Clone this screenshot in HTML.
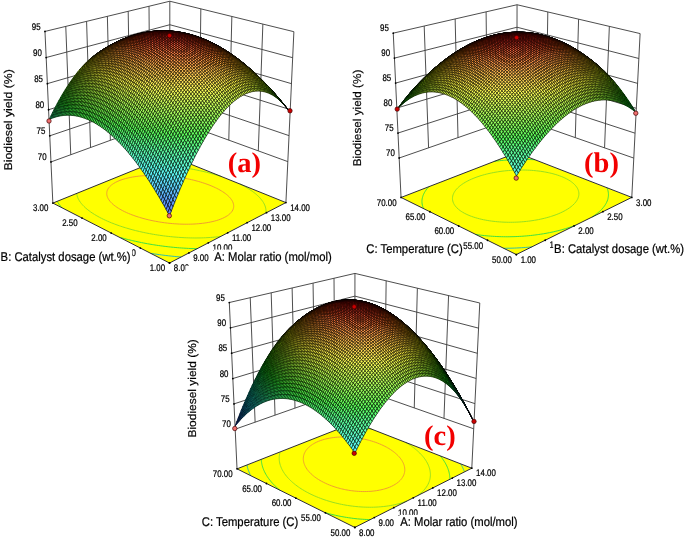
<!DOCTYPE html>
<html><head><meta charset="utf-8"><style>
html,body{margin:0;padding:0;background:#fff;}
body{width:685px;height:537px;position:relative;overflow:hidden;font-family:"Liberation Sans",sans-serif;}
svg,canvas{position:absolute;left:0;top:0;}
text{font-family:"Liberation Sans",sans-serif;stroke:#000;stroke-width:0.2px;text-rendering:geometricPrecision;}
.lab{stroke:none;}
.lab{font-family:"Liberation Serif",serif;font-weight:bold;}
</style></head><body>
<svg width="685" height="537" viewBox="0 0 685 537">
<line x1="50.96" y1="161.94" x2="169.76" y2="118.66" stroke="#3a3a3a" stroke-width="0.9"/>
<line x1="169.76" y1="118.66" x2="287.83" y2="161.62" stroke="#3a3a3a" stroke-width="0.9"/>
<line x1="49.76" y1="135.84" x2="169.77" y2="95.17" stroke="#3a3a3a" stroke-width="0.9"/>
<line x1="169.77" y1="95.17" x2="289.04" y2="135.63" stroke="#3a3a3a" stroke-width="0.9"/>
<line x1="48.57" y1="109.74" x2="169.78" y2="71.69" stroke="#3a3a3a" stroke-width="0.9"/>
<line x1="169.78" y1="71.69" x2="290.25" y2="109.65" stroke="#3a3a3a" stroke-width="0.9"/>
<line x1="47.37" y1="83.63" x2="169.79" y2="48.2" stroke="#3a3a3a" stroke-width="0.9"/>
<line x1="169.79" y1="48.2" x2="291.47" y2="83.67" stroke="#3a3a3a" stroke-width="0.9"/>
<line x1="46.17" y1="57.53" x2="169.8" y2="24.72" stroke="#3a3a3a" stroke-width="0.9"/>
<line x1="169.8" y1="24.72" x2="292.68" y2="57.69" stroke="#3a3a3a" stroke-width="0.9"/>
<line x1="44.97" y1="31.43" x2="169.82" y2="1.23" stroke="#3a3a3a" stroke-width="0.9"/>
<line x1="169.82" y1="1.23" x2="293.89" y2="31.7" stroke="#3a3a3a" stroke-width="0.9"/>
<line x1="70.76" y1="154.72" x2="65.78" y2="26.4" stroke="#3a3a3a" stroke-width="0.9"/>
<line x1="90.56" y1="147.51" x2="86.59" y2="21.37" stroke="#3a3a3a" stroke-width="0.9"/>
<line x1="110.36" y1="140.3" x2="107.39" y2="16.33" stroke="#3a3a3a" stroke-width="0.9"/>
<line x1="130.16" y1="133.09" x2="128.2" y2="11.3" stroke="#3a3a3a" stroke-width="0.9"/>
<line x1="149.96" y1="125.87" x2="149.01" y2="6.27" stroke="#3a3a3a" stroke-width="0.9"/>
<line x1="258.31" y1="150.88" x2="262.87" y2="24.09" stroke="#3a3a3a" stroke-width="0.9"/>
<line x1="228.79" y1="140.14" x2="231.85" y2="16.47" stroke="#3a3a3a" stroke-width="0.9"/>
<line x1="199.27" y1="129.4" x2="200.84" y2="8.85" stroke="#3a3a3a" stroke-width="0.9"/>
<line x1="52.85" y1="203.09" x2="44.97" y2="31.43" stroke="#3a3a3a" stroke-width="0.9"/>
<line x1="169.74" y1="155.69" x2="169.82" y2="1.23" stroke="#3a3a3a" stroke-width="0.9"/>
<line x1="285.92" y1="202.58" x2="293.89" y2="31.7" stroke="#3a3a3a" stroke-width="0.9"/>
<polygon points="169.52,263.01 52.85,203.09 169.74,155.69 285.92,202.58" fill="#ffff00" stroke="none" stroke-width="1"/>
<polyline points="181.08,257.01 179.21,256.85 176.91,256.65 174.21,256.4 171.88,256.16 170.09,255.97 168.31,255.77 165.81,255.48 163.07,255.13 161.35,254.91 159.65,254.68 156.93,254.29 154.62,253.95 152.97,253.69 150.68,253.33" fill="none" stroke="#30c0a8" stroke-width="1.0"/>
<polyline points="197.08,248.7 195.04,248.65 193.02,248.59 190.97,248.52 188.59,248.41 186.18,248.28 183.72,248.14 181.43,247.98 179.57,247.84 177.73,247.7 175.91,247.54 173.43,247.31 170.73,247.04 168.81,246.83 167.08,246.63 165.15,246.4 162.26,246.04 160.31,245.77 158.66,245.54 156.28,245.19 153.8,244.8 152.21,244.55 149.97,244.17 147.51,243.74 145.98,243.46 143.26,242.94 141.45,242.58 139.73,242.23 137.04,241.66 135.6,241.34 132.75,240.7 131.35,240.37 128.57,239.69 127.21,239.35 124.5,238.64 123.17,238.29 120.54,237.56" fill="none" stroke="#40e040" stroke-width="1.0"/>
<polyline points="62,207.78 61.17,206.86 60.39,205.95 59.68,205.06 59.09,204.27 58.35,203.22 57.94,202.6 57.18,201.33" fill="none" stroke="#40e040" stroke-width="1.0"/>
<polyline points="163.2,158.34 164.67,158.45 166.4,158.58 168.61,158.77 170.43,158.93 171.84,159.07 173.24,159.21 175.57,159.46 177.38,159.66 178.73,159.82 180.53,160.04" fill="none" stroke="#40e040" stroke-width="1.0"/>
<polyline points="220.63,236.48 217.93,236.8 215.83,237.02 214.08,237.18 212.3,237.33 210.37,237.48 208,237.62 205.68,237.74 203.42,237.83 201.21,237.9 199.04,237.94 196.91,237.96 194.83,237.97 192.77,237.95 190.76,237.91 188.77,237.86 186.82,237.8 184.9,237.72 183,237.62 181.08,237.51 178.63,237.35 176.13,237.16 173.89,236.97 172.14,236.81 170.41,236.64 168.26,236.41 165.49,236.09 163.69,235.86 162.05,235.64 159.71,235.31 157.27,234.94 155.71,234.69 153.52,234.33 151.12,233.91 149.63,233.64 146.83,233.1 145.24,232.77 143.24,232.35 140.99,231.85 139.44,231.5 136.87,230.89 135.38,230.52 132.88,229.87 130.97,229.36 129.01,228.81 126.5,228.07 125.27,227.7 122.84,226.94 120.47,226.16 119.3,225.76 117.01,224.95 114.77,224.13 112.94,223.42 111.51,222.86 109.41,221.99 107.35,221.11 105.35,220.2 103.4,219.29 101.51,218.35 99.67,217.4 97.89,216.43 96.16,215.44 94.49,214.44 92.88,213.42 92.09,212.91 90.57,211.86 89.11,210.79 87.87,209.84 87.03,209.16 85.73,208.05 85.05,207.44 83.91,206.34 83.03,205.44 82.25,204.58 81.48,203.69 80.76,202.78 80.27,202.12 79.46,200.91 79.07,200.27 78.55,199.33 78.05,198.31 77.76,197.65 77.48,196.9 77.13,195.78 76.91,194.88 76.78,194.16 76.68,193.42" fill="none" stroke="#98e020" stroke-width="1.0"/>
<polyline points="146.84,164.97 148.59,164.98 150.32,165 152.01,165.03 153.84,165.08 155.78,165.14 157.76,165.22 159.78,165.33 161.64,165.43 163.16,165.53 164.68,165.64 166.17,165.75 168.38,165.94 170.56,166.14 171.99,166.28 173.41,166.43 175.5,166.66 177.58,166.91 178.94,167.09 180.66,167.32 182.96,167.64 184.28,167.84 186.26,168.15 188.17,168.46 189.44,168.67 191.97,169.12 193.21,169.35 195.68,169.83 196.9,170.08 199.31,170.58 200.5,170.84 202.87,171.37 204.04,171.65 206.35,172.21 208.21,172.68 209.76,173.09 212,173.69 213.73,174.18 215.3,174.64 217.46,175.29 219.6,175.96 221.46,176.57" fill="none" stroke="#98e020" stroke-width="1.0"/>
<polyline points="239.92,184.01 241.11,184.61 242.88,185.53 244.61,186.46 245.85,187.17 247.14,187.92 248.78,188.93 249.58,189.44 251.15,190.49 252.36,191.33 253.43,192.12 254.59,193.01 255.6,193.82 256.44,194.54 257.64,195.61 258.29,196.23 259.34,197.28 260.14,198.15 260.73,198.81 261.49,199.74 262.34,200.88 262.83,201.6 263.3,202.33 263.74,203.08 264.27,204.08 264.72,205.08 265.1,206.05 265.4,206.99 265.63,207.9 265.8,208.79 265.91,209.66 265.96,210.51 265.96,211.34 265.91,212.15 265.79,213.03" fill="none" stroke="#98e020" stroke-width="1.0"/>
<polyline points="205.89,183.8 207.94,184.55 209.95,185.32 211.9,186.13 213.81,186.96 215.67,187.82 216.62,188.28 218.35,189.17 220.06,190.12 221.72,191.1 222.53,191.6 224.08,192.64 225.22,193.46 226.29,194.28 227.32,195.14 228.31,196.03 228.94,196.64 230.11,197.9 230.65,198.56 231.17,199.24 231.89,200.3 232.49,201.38 232.85,202.15 233.15,202.94 233.4,203.77 233.58,204.63 233.68,205.53 233.69,206.48 233.59,207.49 233.38,208.44 233.14,209.18 232.83,209.9 232.16,211.11 231.58,211.93 230.94,212.69 229.86,213.79 228.61,214.85 227.74,215.49 226.1,216.53 224.3,217.51 222.34,218.43 220.22,219.29 218.46,219.92 216.76,220.46 214.25,221.16 212.94,221.48 210.21,222.09 208.78,222.36 206.83,222.7 204.25,223.09 202.66,223.29 201.02,223.48 198.74,223.7 196.34,223.89 194.03,224.03 192.17,224.11 190.25,224.17 188.27,224.2 186.24,224.21 184.16,224.19 182.01,224.15 179.79,224.07 177.94,223.98 176.13,223.87 174.37,223.75 172.63,223.61 170.14,223.38 167.61,223.11 166,222.91 164.41,222.71 161.84,222.35 159.79,222.03 158.3,221.78 155.55,221.29 153.96,220.98 152.06,220.6 149.81,220.11 148.26,219.75 145.84,219.16 144,218.67 142.05,218.14 139.61,217.42 138.42,217.05 136.1,216.3 133.84,215.51 131.97,214.82 130.6,214.29 128.52,213.44 126.53,212.57 124.6,211.66 122.75,210.74 120.97,209.79 119.27,208.81 118.39,208.27 116.88,207.28 115.39,206.23 114.11,205.25 113.32,204.6 112.06,203.47 111.47,202.89 110.37,201.71 109.86,201.1 109.04,200 108.53,199.21 108.15,198.56 107.62,197.47 107.25,196.51 107.05,195.8 106.89,195.07 106.78,194.32 106.75,193.41 106.8,192.53 106.93,191.7 107.14,190.9 107.42,190.11 107.89,189.14 108.54,188.1 109.08,187.38 109.61,186.76 110.73,185.66 111.48,185.01 112.77,184.05 113.68,183.45 115.32,182.49 117.09,181.6 118.98,180.77 120.98,180.01 123.1,179.3 125.34,178.64 126.94,178.23 128.91,177.77 130.87,177.37 132.73,177.02 134.07,176.8 136.83,176.4 138.26,176.23 139.72,176.06 141.78,175.87 144.01,175.69 145.92,175.57 147.57,175.49 149.25,175.43 150.98,175.39 152.76,175.37 154.58,175.36 156.45,175.38 158.38,175.43 160.37,175.5 162.41,175.59 164,175.68 165.56,175.79 167.1,175.91 169.05,176.08 171.43,176.31 173.01,176.49 174.43,176.66 176.58,176.94 178.58,177.22 179.93,177.43 182.36,177.83 183.86,178.09 185.6,178.42 187.66,178.83 189.17,179.15 191.33,179.63 193.26,180.08 194.88,180.49 197.18,181.1 198.31,181.41 200.53,182.06 202.71,182.74 204.84,183.44 205.89,183.8" fill="none" stroke="#f0a030" stroke-width="1.0"/>
<polyline points="169.52,263.01 52.85,203.09 169.74,155.69 285.92,202.58 169.52,263.01" fill="none" stroke="#222230" stroke-width="0.95"/>
<circle cx="50.96" cy="161.94" r="0.9" fill="#000"/>
<circle cx="49.76" cy="135.84" r="0.9" fill="#000"/>
<circle cx="48.57" cy="109.74" r="0.9" fill="#000"/>
<circle cx="47.37" cy="83.63" r="0.9" fill="#000"/>
<circle cx="46.17" cy="57.53" r="0.9" fill="#000"/>
<circle cx="44.97" cy="31.43" r="0.9" fill="#000"/>
<circle cx="169.52" cy="263.01" r="0.9" fill="#000"/>
<circle cx="188.92" cy="252.94" r="0.9" fill="#000"/>
<circle cx="208.32" cy="242.86" r="0.9" fill="#000"/>
<circle cx="227.72" cy="232.79" r="0.9" fill="#000"/>
<circle cx="247.12" cy="222.72" r="0.9" fill="#000"/>
<circle cx="266.52" cy="212.65" r="0.9" fill="#000"/>
<circle cx="285.92" cy="202.58" r="0.9" fill="#000"/>
<circle cx="169.52" cy="263.01" r="0.9" fill="#000"/>
<circle cx="140.35" cy="248.03" r="0.9" fill="#000"/>
<circle cx="111.19" cy="233.05" r="0.9" fill="#000"/>
<circle cx="82.02" cy="218.07" r="0.9" fill="#000"/>
<circle cx="52.85" cy="203.09" r="0.9" fill="#000"/>
<line x1="399.17" y1="158.02" x2="516.84" y2="117.18" stroke="#3a3a3a" stroke-width="0.9"/>
<line x1="516.84" y1="117.18" x2="633.79" y2="158.08" stroke="#3a3a3a" stroke-width="0.9"/>
<line x1="397.99" y1="133.05" x2="516.88" y2="94.69" stroke="#3a3a3a" stroke-width="0.9"/>
<line x1="516.88" y1="94.69" x2="635.05" y2="133.18" stroke="#3a3a3a" stroke-width="0.9"/>
<line x1="396.8" y1="108.07" x2="516.92" y2="72.21" stroke="#3a3a3a" stroke-width="0.9"/>
<line x1="516.92" y1="72.21" x2="636.32" y2="108.29" stroke="#3a3a3a" stroke-width="0.9"/>
<line x1="395.62" y1="83.09" x2="516.97" y2="49.72" stroke="#3a3a3a" stroke-width="0.9"/>
<line x1="516.97" y1="49.72" x2="637.58" y2="83.39" stroke="#3a3a3a" stroke-width="0.9"/>
<line x1="394.43" y1="58.12" x2="517.01" y2="27.23" stroke="#3a3a3a" stroke-width="0.9"/>
<line x1="517.01" y1="27.23" x2="638.85" y2="58.49" stroke="#3a3a3a" stroke-width="0.9"/>
<line x1="393.25" y1="33.14" x2="517.05" y2="4.74" stroke="#3a3a3a" stroke-width="0.9"/>
<line x1="517.05" y1="4.74" x2="640.12" y2="33.59" stroke="#3a3a3a" stroke-width="0.9"/>
<line x1="428.59" y1="147.81" x2="424.2" y2="26.04" stroke="#3a3a3a" stroke-width="0.9"/>
<line x1="458.01" y1="137.6" x2="455.15" y2="18.94" stroke="#3a3a3a" stroke-width="0.9"/>
<line x1="487.42" y1="127.39" x2="486.1" y2="11.84" stroke="#3a3a3a" stroke-width="0.9"/>
<line x1="604.55" y1="147.86" x2="609.35" y2="26.38" stroke="#3a3a3a" stroke-width="0.9"/>
<line x1="575.31" y1="137.63" x2="578.58" y2="19.17" stroke="#3a3a3a" stroke-width="0.9"/>
<line x1="546.08" y1="127.41" x2="547.81" y2="11.96" stroke="#3a3a3a" stroke-width="0.9"/>
<line x1="401.04" y1="197.46" x2="393.25" y2="33.14" stroke="#3a3a3a" stroke-width="0.9"/>
<line x1="516.78" y1="152.69" x2="517.05" y2="4.74" stroke="#3a3a3a" stroke-width="0.9"/>
<line x1="631.79" y1="197.39" x2="640.12" y2="33.59" stroke="#3a3a3a" stroke-width="0.9"/>
<polygon points="516.34,254.54 401.04,197.46 516.78,152.69 631.79,197.39" fill="#ffff00" stroke="none" stroke-width="1"/>
<polyline points="531.76,246.91 529.43,247.13 527.6,247.29 525.75,247.44 523.87,247.57 521.49,247.73 519.06,247.87 516.67,247.98 514.32,248.08 512.08,248.15 510.02,248.2 507.92,248.23 505.8,248.25 503.64,248.25" fill="none" stroke="#30c0a8" stroke-width="1.0"/>
<polyline points="630.65,196.95 630.59,197.68" fill="none" stroke="#30c0a8" stroke-width="1.0"/>
<polyline points="575.5,225.25 573.78,225.91 571.51,226.72 569.18,227.51 567.99,227.9 565.56,228.66 563.06,229.39 561.78,229.74 559.17,230.44 557.84,230.78 555.13,231.43 553.74,231.75 550.92,232.36 549.47,232.65 547.16,233.1 545.02,233.49 543.5,233.75 540.73,234.19 538.8,234.48 537.19,234.71 534.85,235.02 532.23,235.33 530.52,235.52 528.79,235.69 526.77,235.88 524.24,236.09 521.77,236.27 519.74,236.39 517.85,236.49 515.92,236.58 513.95,236.65 511.96,236.7 509.92,236.74 507.85,236.75 505.74,236.75 503.58,236.73 501.38,236.69 499.13,236.62 496.83,236.52 494.47,236.4 492.35,236.27 490.53,236.14 488.74,235.99 486.98,235.84 484.33,235.57 481.88,235.29 480.24,235.08 478.62,234.86 475.73,234.44" fill="none" stroke="#40e040" stroke-width="1.0"/>
<polyline points="423.57,208.61 423.05,207.37 422.77,206.57 422.55,205.87 422.35,205.09 422.15,204.02 422.02,203 421.96,202.18 421.95,201.41 421.98,200.62 422.04,199.83 422.15,199.02 422.3,198.19 422.5,197.35 422.74,196.5 423.04,195.62 423.39,194.73 423.8,193.82 424.27,192.9 424.68,192.18 425.11,191.48 425.55,190.8 426.16,189.93 426.96,188.89 427.56,188.18 428.1,187.55 428.91,186.67" fill="none" stroke="#40e040" stroke-width="1.0"/>
<polyline points="606.92,187.73 607.29,188.6 607.6,189.45 607.86,190.29 608.07,191.11 608.23,191.92 608.35,192.71 608.42,193.48 608.46,194.25 608.47,195 608.43,195.75 608.34,196.69 608.18,197.68 607.98,198.61 607.8,199.31 607.58,200 607.25,200.93 606.79,202.01 606.47,202.66 606.11,203.37 605.39,204.59 604.99,205.22 604.36,206.13 603.64,207.07 603.16,207.68 602.12,208.86 601.57,209.45 600.42,210.61 599.64,211.34 598.56,212.31 597.23,213.41 596.53,213.95 595.09,215.03 593.59,216.08 592.24,216.97" fill="none" stroke="#40e040" stroke-width="1.0"/>
<polyline points="494.46,161.32 496.32,161.09 497.67,160.92 499.52,160.72 501.83,160.48 503.26,160.35 504.69,160.22 506.4,160.09 508.54,159.94 510.62,159.81 512.18,159.72 513.74,159.65 515.33,159.59 516.94,159.53 518.58,159.49 520.25,159.46 522.02,159.44 523.78,159.44 525.51,159.45 527.25,159.47 529.1,159.51 530.99,159.57 532.92,159.64 534.91,159.74" fill="none" stroke="#40e040" stroke-width="1.0"/>
<polyline points="552.97,173.75 555.17,174.37 557.28,175.02 559.31,175.71 561.26,176.44 563.13,177.21 564.93,178.02 566.64,178.87 568.26,179.77 569.04,180.23 570.54,181.2 571.43,181.83 572.61,182.74 573.26,183.29 574.45,184.41 575.01,184.99 575.65,185.73 576.49,186.8 576.94,187.49 577.34,188.16 577.7,188.85 578.08,189.7 578.39,190.58 578.62,191.43 578.77,192.26 578.86,193.06 578.89,193.85 578.86,194.61 578.78,195.35 578.61,196.27 578.34,197.28 578.02,198.17 577.72,198.84 577.4,199.51 576.67,200.76 576.22,201.41 575.69,202.12 574.76,203.23 574.22,203.82 573.06,204.96 572.44,205.52 571.12,206.62 569.7,207.68 568.96,208.2 567.4,209.22 565.75,210.2 564.01,211.15 562.18,212.08 560.26,212.97 558.26,213.83 556.16,214.66 553.98,215.45 551.7,216.22 550.53,216.59 548.12,217.3 546.26,217.81 544.32,218.3 542.06,218.84 540.31,219.22 538.4,219.61 536.06,220.04 534.59,220.29 532.02,220.69 530,220.98 528.41,221.18 526.44,221.4 523.86,221.66 521.71,221.84 519.94,221.96 518.13,222.07 516.28,222.15 514.38,222.22 512.37,222.26 510.3,222.28 508.29,222.27 506.24,222.23 504.04,222.16 501.76,222.04 499.39,221.89 497.28,221.72 495.6,221.56 493.96,221.39 491.57,221.09 489.27,220.76 487.77,220.52 485.42,220.1 483.49,219.72 481.84,219.37 479.49,218.81 477.58,218.31 475.76,217.78 473.43,217.05 471.55,216.39 470.13,215.86 468.08,215.01 466.14,214.12 464.32,213.19 462.61,212.22 461.8,211.72 460.26,210.68 458.85,209.61 458.18,209.05 456.96,207.91 456.3,207.22 455.36,206.11 454.89,205.49 454.15,204.34 453.72,203.54 453.41,202.86 453.07,201.98 452.77,200.92 452.59,200 452.51,199.25 452.48,198.47 452.51,197.67 452.6,196.85 452.76,196.01 452.99,195.14 453.3,194.24 453.71,193.31 454.08,192.58 454.48,191.89 454.91,191.22 455.61,190.26 456.39,189.3 456.94,188.69 457.69,187.92 458.73,186.94 459.37,186.38 460.72,185.3 461.42,184.78 462.88,183.77 463.64,183.27 465.21,182.32 466.84,181.4 467.68,180.96 469.42,180.1 471.21,179.27 473.07,178.48 474.99,177.71 476.96,176.98 479,176.28 481.09,175.62 482.16,175.3 484.35,174.68 486.61,174.09 487.76,173.81 490.11,173.27 491.5,172.97 493.77,172.52 495.02,172.29 497.59,171.86 498.91,171.65 500.96,171.36 502.98,171.1 504.39,170.94 506.06,170.76 508.39,170.55 510.27,170.4 511.81,170.3 513.39,170.21 515,170.13 516.76,170.07 518.67,170.03 520.51,170.01 522.3,170.01 524.04,170.03 525.74,170.07 527.58,170.14 529.63,170.24 531.76,170.37 533.63,170.52 535.1,170.65 536.54,170.8 538.92,171.08 540.7,171.32 542.03,171.51 544.63,171.94 545.88,172.17 548.23,172.63 549.53,172.91 551.85,173.46 552.97,173.75" fill="none" stroke="#98e020" stroke-width="1.0"/>
<polyline points="516.34,254.54 401.04,197.46 516.78,152.69 631.79,197.39 516.34,254.54" fill="none" stroke="#222230" stroke-width="0.95"/>
<circle cx="399.17" cy="158.02" r="0.9" fill="#000"/>
<circle cx="397.99" cy="133.05" r="0.9" fill="#000"/>
<circle cx="396.8" cy="108.07" r="0.9" fill="#000"/>
<circle cx="395.62" cy="83.09" r="0.9" fill="#000"/>
<circle cx="394.43" cy="58.12" r="0.9" fill="#000"/>
<circle cx="393.25" cy="33.14" r="0.9" fill="#000"/>
<circle cx="516.34" cy="254.54" r="0.9" fill="#000"/>
<circle cx="545.2" cy="240.25" r="0.9" fill="#000"/>
<circle cx="574.06" cy="225.97" r="0.9" fill="#000"/>
<circle cx="602.93" cy="211.68" r="0.9" fill="#000"/>
<circle cx="631.79" cy="197.39" r="0.9" fill="#000"/>
<circle cx="516.34" cy="254.54" r="0.9" fill="#000"/>
<circle cx="487.52" cy="240.27" r="0.9" fill="#000"/>
<circle cx="458.69" cy="226" r="0.9" fill="#000"/>
<circle cx="429.87" cy="211.73" r="0.9" fill="#000"/>
<circle cx="401.04" cy="197.46" r="0.9" fill="#000"/>
<line x1="235.18" y1="429.21" x2="354.82" y2="387.02" stroke="#3a3a3a" stroke-width="0.9"/>
<line x1="354.82" y1="387.02" x2="473.7" y2="428.81" stroke="#3a3a3a" stroke-width="0.9"/>
<line x1="234" y1="403.88" x2="354.85" y2="364.3" stroke="#3a3a3a" stroke-width="0.9"/>
<line x1="354.85" y1="364.3" x2="474.92" y2="403.64" stroke="#3a3a3a" stroke-width="0.9"/>
<line x1="232.83" y1="378.54" x2="354.87" y2="341.58" stroke="#3a3a3a" stroke-width="0.9"/>
<line x1="354.87" y1="341.58" x2="476.13" y2="378.48" stroke="#3a3a3a" stroke-width="0.9"/>
<line x1="231.65" y1="353.2" x2="354.9" y2="318.86" stroke="#3a3a3a" stroke-width="0.9"/>
<line x1="354.9" y1="318.86" x2="477.35" y2="353.31" stroke="#3a3a3a" stroke-width="0.9"/>
<line x1="230.47" y1="327.87" x2="354.92" y2="296.13" stroke="#3a3a3a" stroke-width="0.9"/>
<line x1="354.92" y1="296.13" x2="478.56" y2="328.15" stroke="#3a3a3a" stroke-width="0.9"/>
<line x1="229.3" y1="302.53" x2="354.95" y2="273.41" stroke="#3a3a3a" stroke-width="0.9"/>
<line x1="354.95" y1="273.41" x2="479.78" y2="302.99" stroke="#3a3a3a" stroke-width="0.9"/>
<line x1="255.12" y1="422.18" x2="250.24" y2="297.68" stroke="#3a3a3a" stroke-width="0.9"/>
<line x1="275.06" y1="415.15" x2="271.18" y2="292.82" stroke="#3a3a3a" stroke-width="0.9"/>
<line x1="295" y1="408.12" x2="292.12" y2="287.97" stroke="#3a3a3a" stroke-width="0.9"/>
<line x1="314.94" y1="401.09" x2="313.06" y2="283.12" stroke="#3a3a3a" stroke-width="0.9"/>
<line x1="334.88" y1="394.06" x2="334.01" y2="278.26" stroke="#3a3a3a" stroke-width="0.9"/>
<line x1="443.98" y1="418.36" x2="448.57" y2="295.59" stroke="#3a3a3a" stroke-width="0.9"/>
<line x1="414.26" y1="407.92" x2="417.36" y2="288.2" stroke="#3a3a3a" stroke-width="0.9"/>
<line x1="384.54" y1="397.47" x2="386.16" y2="280.8" stroke="#3a3a3a" stroke-width="0.9"/>
<line x1="237.02" y1="468.87" x2="229.3" y2="302.53" stroke="#3a3a3a" stroke-width="0.9"/>
<line x1="354.79" y1="422.59" x2="354.95" y2="273.41" stroke="#3a3a3a" stroke-width="0.9"/>
<line x1="471.8" y1="468.2" x2="479.78" y2="302.99" stroke="#3a3a3a" stroke-width="0.9"/>
<polygon points="354.81,527.43 237.02,468.87 354.79,422.59 471.8,468.2" fill="#ffff00" stroke="none" stroke-width="1"/>
<polyline points="250.69,475.67 250.16,474.61 249.85,473.94 249.45,473.06 248.97,471.91 248.7,471.23 248.45,470.55 248.06,469.43 247.77,468.48 247.57,467.79 247.38,467.09 247.13,466.07 246.91,465.01" fill="none" stroke="#30c0a8" stroke-width="1.0"/>
<polyline points="460.72,463.88 461.25,464.8 461.66,465.55 462.05,466.31 462.44,467.08 462.81,467.86 463.17,468.66 463.57,469.58 463.93,470.5 464.27,471.42" fill="none" stroke="#30c0a8" stroke-width="1.0"/>
<polyline points="370.23,519.63 368.18,519.56 366.18,519.47 364.22,519.37 362.29,519.24 360.13,519.08 357.41,518.83 354.95,518.57 353.19,518.36 351.46,518.14 348.55,517.73 346.45,517.41 344.83,517.14 341.86,516.61 340.11,516.27 338.19,515.89 335.58,515.32 334.12,514.99 331.25,514.3 329.84,513.94 327.09,513.2 324.99,512.61" fill="none" stroke="#40e040" stroke-width="1.0"/>
<polyline points="279.73,490.1 278.94,489.44 277.59,488.27 276.93,487.68 275.65,486.49 274.69,485.55 273.83,484.68 272.81,483.61 272.12,482.85 271.21,481.81 270.52,480.99 269.83,480.13 269.03,479.1 268.56,478.46 267.67,477.19 267.24,476.54 266.63,475.59 266.03,474.59 265.65,473.94 265.09,472.89 264.61,471.95 264.29,471.28 263.88,470.37 263.42,469.25 263.16,468.57 262.92,467.89 262.59,466.89 262.28,465.81 262.1,465.1 261.93,464.4 261.78,463.68 261.6,462.67 261.47,461.68 261.37,460.81 261.32,460.07 261.28,459.34" fill="none" stroke="#40e040" stroke-width="1.0"/>
<polyline points="440.24,455.9 441.14,456.99 441.68,457.68 442.18,458.34 442.74,459.12 443.47,460.15 444.07,461.07 444.51,461.77 444.95,462.48 445.37,463.2 445.89,464.15 446.38,465.11 446.84,466.07 447.25,466.96 447.57,467.75 447.88,468.55 448.18,469.36 448.45,470.18 448.71,471.02 448.94,471.87 449.15,472.74 449.34,473.62 449.5,474.52 449.63,475.44 449.74,476.37 449.81,477.33 449.85,478.31 449.86,479.24" fill="none" stroke="#40e040" stroke-width="1.0"/>
<polyline points="406.92,501.05 405.23,501.69 402.82,502.52 400.48,503.25 398.97,503.67 396.24,504.37 394.82,504.69 392.41,505.19 390.32,505.58 388.75,505.84 386.16,506.21 383.75,506.5 381.99,506.69 380.19,506.84 378.26,506.98 375.89,507.11 373.6,507.19 371.4,507.24 369.27,507.24 367.21,507.21 365.2,507.16 363.25,507.08 361.04,506.95 358.49,506.76 355.9,506.53 354.17,506.34 352.47,506.14 350.05,505.82 347.58,505.45 346.01,505.19 343.5,504.74 341.46,504.34 339.8,503.99 337.14,503.39 335.69,503.04 333.04,502.36 330.94,501.78 329.12,501.25 326.61,500.47 325.04,499.96 322.99,499.25 320.66,498.4 318.41,497.53 316.23,496.63 314.78,496.01 313.07,495.25 311.05,494.3 309.09,493.32 307.26,492.37 306.27,491.83 304.47,490.81 302.73,489.77 301.04,488.72 299.41,487.64 298.62,487.1 297.09,486 295.61,484.89 294.89,484.32 293.5,483.18 292.28,482.13 291.52,481.45 290.27,480.27 289.67,479.67 288.51,478.47 287.95,477.86 286.88,476.64 286.37,476.02 285.62,475.06 284.93,474.13 284.48,473.5 283.63,472.22 283.24,471.57 282.83,470.89 282.15,469.62 281.8,468.93 281.49,468.26 281.05,467.24 280.66,466.21 280.42,465.52 280.2,464.83 279.95,463.96 279.71,462.93 279.52,461.98 279.41,461.26 279.32,460.52 279.26,459.78 279.21,459.04 279.2,458.2 279.22,457.32 279.28,456.46 279.36,455.62 279.49,454.8 279.64,454 279.82,453.21 280.03,452.44" fill="none" stroke="#98e020" stroke-width="1.0"/>
<polyline points="405.82,442.48 406.82,443.08 408.33,444.03 409.08,444.51 410.54,445.48 411.47,446.13 412.66,446.99 413.59,447.69 414.71,448.56 415.44,449.15 416.67,450.18 417.3,450.74 418.51,451.83 419.15,452.44 419.81,453.09 420.9,454.21 421.46,454.81 422.05,455.47 423.02,456.61 423.58,457.31 424.08,457.96 424.71,458.8 425.44,459.86 425.95,460.64 426.38,461.33 426.79,462.04 427.27,462.91 427.76,463.89 428.21,464.85 428.59,465.74 428.89,466.51 429.17,467.31 429.42,468.11 429.65,468.93 429.85,469.77 430.03,470.63 430.17,471.5 430.29,472.4 430.36,473.32 430.4,474.25 430.4,475.22 430.35,476.17 430.28,476.97 430.17,477.76 430.04,478.53 429.86,479.38 429.56,480.51 429.22,481.56 428.95,482.29 428.65,483.02 428.08,484.23 427.59,485.15 427.18,485.84 426.35,487.11 425.81,487.87 425.12,488.75 424.2,489.82 423.49,490.6 422.37,491.7 421.14,492.81 420.3,493.51 418.8,494.66 417.19,495.79" fill="none" stroke="#98e020" stroke-width="1.0"/>
<polyline points="346.56,425.82 348.1,425.91 349.59,426.01 351.6,426.17 353.9,426.38 355.28,426.53 356.64,426.69 359.01,427 360.57,427.22 361.85,427.42 364.32,427.83 365.54,428.05 367.92,428.51 369.09,428.75 371.38,429.25 372.57,429.52" fill="none" stroke="#98e020" stroke-width="1.0"/>
<polyline points="369.41,440.41 371.56,441.03 373.64,441.68 375.65,442.37 377.6,443.09 379.49,443.85 381.32,444.63 383.09,445.45 384.81,446.29 386.47,447.17 387.28,447.62 388.86,448.54 390.38,449.5 391.13,449.99 392.56,450.99 393.34,451.56 394.62,452.56 395.28,453.11 396.53,454.21 397.14,454.78 398.19,455.82 398.86,456.54 399.4,457.15 400.29,458.23 400.9,459.04 401.36,459.7 401.85,460.43 402.46,461.48 402.98,462.45 403.32,463.18 403.63,463.92 403.91,464.68 404.16,465.45 404.37,466.26 404.55,467.14 404.68,468.01 404.76,468.86 404.79,469.69 404.76,470.6 404.66,471.57 404.49,472.57 404.24,473.6 404,474.34 403.72,475.07 403.34,475.91 402.66,477.16 402.23,477.83 401.7,478.58 400.73,479.77 400.16,480.39 398.9,481.6 398.23,482.18 396.76,483.3 395.15,484.37 393.39,485.39 391.49,486.35 389.42,487.25 387.2,488.08 384.8,488.85 383.52,489.21 380.86,489.86 379.45,490.15 376.47,490.67 374.88,490.89 373.24,491.09 370.99,491.3 368.62,491.45 366.4,491.53 364.29,491.56 362.29,491.54 360.37,491.48 358.52,491.38 356.74,491.26 354.46,491.05 351.74,490.73 350.17,490.51 348.6,490.27 345.7,489.74 344.29,489.45 341.56,488.83 340.24,488.5 337.69,487.81 336.06,487.33 334.07,486.69 331.79,485.89 329.6,485.06 327.5,484.19 325.5,483.29 323.58,482.35 321.74,481.39 319.99,480.4 318.31,479.38 316.71,478.34 315.95,477.81 314.48,476.72 313.35,475.83 312.42,475.05 311.14,473.9 310.54,473.31 309.42,472.16 308.85,471.52 308.1,470.64 307.35,469.67 306.9,469.04 306.17,467.93 305.68,467.1 305.32,466.44 304.88,465.54 304.41,464.43 304.15,463.71 303.93,463 303.74,462.28 303.55,461.38 303.41,460.44 303.33,459.53 303.31,458.66 303.35,457.8 303.43,456.98 303.56,456.18 303.73,455.4 303.94,454.64 304.2,453.91 304.48,453.19 304.81,452.49 305.29,451.61 305.91,450.6 306.43,449.87 306.92,449.26 307.67,448.4 308.54,447.51 309.14,446.96 310.42,445.89 311.1,445.38 312.53,444.39 313.29,443.92 314.89,443.01 316.59,442.16 318.4,441.37 320.33,440.62 322.37,439.93 324.54,439.3 325.73,438.99 328.04,438.47 329.62,438.17 331.88,437.79 333.25,437.6 335.2,437.38 337.52,437.17 339.22,437.06 340.87,436.99 342.59,436.95 344.39,436.94 346.28,436.97 348.28,437.05 350.17,437.15 351.69,437.27 353.16,437.4 355.15,437.62 357.34,437.91 358.66,438.11 360.93,438.49 362.46,438.77 364.55,439.21 366.03,439.55 368.3,440.11 369.41,440.41" fill="none" stroke="#f0a030" stroke-width="1.0"/>
<polyline points="354.81,527.43 237.02,468.87 354.79,422.59 471.8,468.2 354.81,527.43" fill="none" stroke="#222230" stroke-width="0.95"/>
<circle cx="235.18" cy="429.21" r="0.9" fill="#000"/>
<circle cx="234" cy="403.88" r="0.9" fill="#000"/>
<circle cx="232.83" cy="378.54" r="0.9" fill="#000"/>
<circle cx="231.65" cy="353.2" r="0.9" fill="#000"/>
<circle cx="230.47" cy="327.87" r="0.9" fill="#000"/>
<circle cx="229.3" cy="302.53" r="0.9" fill="#000"/>
<circle cx="354.81" cy="527.43" r="0.9" fill="#000"/>
<circle cx="374.31" cy="517.56" r="0.9" fill="#000"/>
<circle cx="393.81" cy="507.69" r="0.9" fill="#000"/>
<circle cx="413.3" cy="497.81" r="0.9" fill="#000"/>
<circle cx="432.8" cy="487.94" r="0.9" fill="#000"/>
<circle cx="452.3" cy="478.07" r="0.9" fill="#000"/>
<circle cx="471.8" cy="468.2" r="0.9" fill="#000"/>
<circle cx="354.81" cy="527.43" r="0.9" fill="#000"/>
<circle cx="325.36" cy="512.79" r="0.9" fill="#000"/>
<circle cx="295.92" cy="498.15" r="0.9" fill="#000"/>
<circle cx="266.47" cy="483.51" r="0.9" fill="#000"/>
<circle cx="237.02" cy="468.87" r="0.9" fill="#000"/>
<g id="fb">
<path d="M169.8 74.2l5.2 8l-5.2 4.4l-5.3 -8z" fill="#907f2c"/>
<path d="M174.7 70.5l5.2 8l-5.2 4l-5.3 -8.1z" fill="#93792c"/>
<path d="M164.8 67.4l5.3 7.3l-5.2 4.4l-5.3 -7.3z" fill="#8c6d28"/>
<path d="M179.8 67.3l5.2 8l-5.4 3.4l-5.2 -8z" fill="#8f6e2a"/>
<path d="M169.8 63.7l5.3 7.3l-5.3 3.9l-5.3 -7.3z" fill="#8e6728"/>
<path d="M159.7 61.3l5.4 6.5l-5.2 4.4l-5.4 -6.5z" fill="#8c6127"/>
<path d="M184.9 64.5l5.1 8l-5.4 3l-5.1 -8z" fill="#966d2b"/>
<path d="M174.8 60.5l5.3 7.2l-5.4 3.5l-5.3 -7.2z" fill="#8f5f28"/>
<path d="M164.7 57.7l5.4 6.5l-5.3 3.9l-5.4 -6.5z" fill="#8a5825"/>
<path d="M154.6 56.1l5.5 5.6l-5.2 4.5l-5.5 -5.7z" fill="#8a5624"/>
<path d="M190 62.2l5.2 7.9l-5.5 2.6l-5.1 -8z" fill="#926429"/>
<path d="M179.9 57.8l5.3 7.2l-5.4 3l-5.3 -7.3z" fill="#8f5927"/>
<path d="M169.8 54.5l5.3 6.5l-5.3 3.4l-5.4 -6.4z" fill="#8a5024"/>
<path d="M159.6 52.5l5.5 5.6l-5.3 3.9l-5.5 -5.6z" fill="#844921"/>
<path d="M149.4 51.6l5.6 4.8l-5.3 4.5l-5.5 -4.9z" fill="#7b431d"/>
<path d="M195.3 60.4l5.1 7.9l-5.5 2l-5.2 -7.9z" fill="#895a25"/>
<path d="M185.1 55.5l5.2 7.2l-5.4 2.5l-5.3 -7.2z" fill="#894f24"/>
<path d="M174.9 51.8l5.4 6.4l-5.5 3l-5.4 -6.4z" fill="#8b4a24"/>
<path d="M164.6 49.4l5.5 5.5l-5.4 3.5l-5.4 -5.6z" fill="#824120"/>
<path d="M154.4 48.1l5.5 4.8l-5.3 3.9l-5.5 -4.9z" fill="#7d3d1d"/>
<path d="M144.1 48l5.7 4l-5.3 4.3l-5.6 -4z" fill="#743a19"/>
<path d="M200.6 59.1l5.1 7.9l-5.6 1.5l-5.1 -7.9z" fill="#835321"/>
<path d="M190.3 53.8l5.3 7.1l-5.6 2l-5.2 -7.2z" fill="#854a21"/>
<path d="M180.1 49.6l5.3 6.4l-5.5 2.5l-5.3 -6.4z" fill="#82401f"/>
<path d="M169.8 46.7l5.4 5.6l-5.4 2.9l-5.5 -5.6z" fill="#7d381d"/>
<path d="M205.9 58.3l5.1 7.9l-5.7 0.9l-5 -7.8z" fill="#7f4e1e"/>
<path d="M159.4 45l5.6 4.7l-5.4 3.5l-5.6 -4.8z" fill="#703018"/>
<path d="M138.8 45.2l5.7 3.1l-5.2 4.4l-5.8 -3.2z" fill="#652e13"/>
<path d="M149.1 44.5l5.6 3.9l-5.3 3.9l-5.6 -3.9z" fill="#6e2f16"/>
<path d="M195.7 52.5l5.2 7.1l-5.7 1.5l-5.2 -7.1z" fill="#7f431e"/>
<path d="M185.3 48l5.4 6.3l-5.6 1.9l-5.4 -6.3z" fill="#7c381c"/>
<path d="M175 44.6l5.4 5.5l-5.5 2.4l-5.5 -5.5z" fill="#78301a"/>
<path d="M211.3 58.1l5.1 7.7l-5.7 0.5l-5.1 -7.8z" fill="#7a4b1b"/>
<path d="M164.6 42.4l5.5 4.7l-5.4 3l-5.6 -4.8z" fill="#6c2715"/>
<path d="M133.3 43.4l5.8 2.1l-5.2 4.3l-5.8 -2.2z" fill="#5e290f"/>
<path d="M154.2 41.5l5.6 3.9l-5.4 3.4l-5.6 -4z" fill="#6c2714"/>
<path d="M143.7 41.8l5.8 3l-5.3 3.9l-5.8 -3.1z" fill="#642611"/>
<path d="M201 51.8l5.2 7l-5.7 1l-5.2 -7.1z" fill="#773c1a"/>
<path d="M190.6 46.8l5.4 6.2l-5.7 1.5l-5.3 -6.3z" fill="#773319"/>
<path d="M216.8 58.4l5 7.7l-5.7 -0.1l-5.1 -7.8z" fill="#744818"/>
<path d="M180.2 43l5.5 5.4l-5.6 1.9l-5.5 -5.5z" fill="#782c18"/>
<path d="M169.8 40.4l5.5 4.6l-5.5 2.4l-5.6 -4.7z" fill="#611f11"/>
<path d="M127.9 42.4l5.8 1.2l-5.2 4.3l-5.8 -1.3z" fill="#4e2009"/>
<path d="M159.3 39l5.6 3.8l-5.4 2.9l-5.7 -3.9z" fill="#5e1c10"/>
<path d="M138.3 40l5.8 2.1l-5.3 3.8l-5.8 -2.1z" fill="#521d0b"/>
<path d="M206.4 51.6l5.2 7l-5.7 0.4l-5.2 -7z" fill="#6d3715"/>
<path d="M148.8 38.9l5.7 2.9l-5.4 3.4l-5.7 -3z" fill="#5d1d0e"/>
<path d="M196 46.1l5.3 6.2l-5.7 0.9l-5.3 -6.2z" fill="#682b14"/>
<path d="M222.3 59.2l5 7.6l-5.8 -0.6l-5 -7.7z" fill="#6b4414"/>
<path d="M185.6 41.9l5.4 5.4l-5.7 1.4l-5.4 -5.5z" fill="#652212"/>
<path d="M175 38.8l5.6 4.6l-5.6 1.9l-5.6 -4.7z" fill="#641c11"/>
<path d="M122.3 42.3l5.9 0.3l-5.1 4.2l-5.9 -0.4z" fill="#401c05"/>
<path d="M211.9 52l5.2 6.9l-5.8 -0.1l-5.2 -7z" fill="#683513"/>
<path d="M164.5 37l5.6 3.8l-5.5 2.3l-5.7 -3.8z" fill="#58160d"/>
<path d="M132.8 39.1l5.9 1.2l-5.3 3.7l-5.8 -1.2z" fill="#4b1a07"/>
<path d="M153.9 36.4l5.7 3l-5.4 2.8l-5.7 -3z" fill="#52140a"/>
<path d="M143.4 37.1l5.8 2.1l-5.4 3.3l-5.8 -2.1z" fill="#501609"/>
<path d="M201.5 46l5.2 6.2l-5.7 0.3l-5.3 -6.2z" fill="#5e250f"/>
<path d="M227.9 60.6l4.9 7.5l-5.8 -1.2l-5 -7.6z" fill="#5a3c0e"/>
<path d="M190.9 41.3l5.4 5.3l-5.7 0.9l-5.4 -5.4z" fill="#591b0d"/>
<path d="M116.7 43.2l6 -0.7l-5.1 4.1l-6 0.6z" fill="#391b02"/>
<path d="M217.5 52.9l5.1 6.8l-5.9 -0.7l-5.1 -6.9z" fill="#623410"/>
<path d="M180.4 37.8l5.5 4.5l-5.7 1.4l-5.5 -4.6z" fill="#57160c"/>
<path d="M127.3 39.1l5.9 0.2l-5.2 3.8l-6 -0.4z" fill="#3b1403"/>
<path d="M169.8 35.5l5.6 3.7l-5.6 1.9l-5.7 -3.8z" fill="#4d0f09"/>
<path d="M137.9 36.3l5.8 1.1l-5.3 3.3l-5.9 -1.2z" fill="#3d0f04"/>
<path d="M159.1 34.5l5.7 2.9l-5.5 2.3l-5.7 -2.9z" fill="#460d07"/>
<path d="M148.5 34.8l5.8 2l-5.5 2.8l-5.7 -2.1z" fill="#481007"/>
<path d="M233.5 62.5l4.9 7.5l-5.9 -1.8l-4.9 -7.5z" fill="#553c0b"/>
<path d="M207 46.5l5.2 6l-5.8 -0.2l-5.3 -6.1z" fill="#57220c"/>
<path d="M196.4 41.3l5.4 5.2l-5.8 0.3l-5.4 -5.3z" fill="#4f170a"/>
<path d="M223.1 54.4l5 6.7l-5.9 -1.2l-5.1 -6.9z" fill="#552f0b"/>
<path d="M111 45l6.1 -1.7l-5 4.1l-6.1 1.5z" fill="#2f1901"/>
<path d="M185.8 37.3l5.5 4.4l-5.8 0.9l-5.5 -4.6z" fill="#4e1109"/>
<path d="M121.7 40.1l6 -0.8l-5.2 3.7l-6 0.6z" fill="#311201"/>
<path d="M239.2 65l4.9 7.4l-6 -2.3l-4.9 -7.5z" fill="#4c3b08"/>
<path d="M175.1 34.6l5.6 3.6l-5.7 1.3l-5.6 -3.7z" fill="#460b06"/>
<path d="M132.3 36.5l6 0.1l-5.4 3.2l-5.9 -0.2z" fill="#310d01"/>
<path d="M212.5 47.5l5.2 5.9l-5.8 -0.7l-5.3 -6.1z" fill="#53230a"/>
<path d="M164.4 33.2l5.7 2.7l-5.6 1.8l-5.7 -2.8z" fill="#440a06"/>
<path d="M143 34.1l5.9 1l-5.5 2.7l-5.8 -1.1z" fill="#3a0b02"/>
<path d="M153.7 33l5.8 1.9l-5.5 2.2l-5.8 -1.9z" fill="#390803"/>
<path d="M201.9 41.8l5.3 5.2l-5.8 -0.3l-5.3 -5.2z" fill="#491607"/>
<path d="M228.7 56.4l5 6.7l-5.9 -1.9l-5.1 -6.7z" fill="#4c2d08"/>
<path d="M105.2 47.9l6.3 -2.8l-4.9 3.9l-6.2 2.6z" fill="#201300"/>
<path d="M244.9 68.1l4.8 7.3l-6 -2.9l-4.8 -7.4z" fill="#463c06"/>
<path d="M191.2 37.4l5.5 4.3l-5.8 0.3l-5.5 -4.5z" fill="#3f0c05"/>
<path d="M115.9 42l6.2 -1.7l-5.1 3.5l-6.1 1.7z" fill="#240f00"/>
<path d="M218.1 49l5.2 5.9l-5.9 -1.3l-5.2 -6z" fill="#4a2107"/>
<path d="M180.5 34.2l5.6 3.5l-5.8 0.8l-5.5 -3.6z" fill="#3e0804"/>
<path d="M126.7 37.5l6 -0.8l-5.2 3.1l-6.1 0.7z" fill="#210900"/>
<path d="M169.8 32.3l5.6 2.7l-5.6 1.2l-5.7 -2.7z" fill="#350402"/>
<path d="M137.4 34.3l6 0.1l-5.4 2.6l-6 -0.1z" fill="#280700"/>
<path d="M159 31.7l5.8 1.8l-5.6 1.7l-5.8 -1.9z" fill="#350502"/>
<path d="M148.2 32.4l5.9 0.9l-5.5 2.2l-5.9 -1z" fill="#330601"/>
<path d="M99.5 52l6.3 -4.1l-4.8 3.4l-6.3 3.9z" fill="#151000"/>
<path d="M234.4 59l5 6.6l-6 -2.4l-5 -6.7z" fill="#483005"/>
<path d="M207.5 42.9l5.3 5.1l-5.9 -0.8l-5.3 -5.2z" fill="#3c1304"/>
<path d="M250.7 71.8l4.7 7.1l-6 -3.5l-4.8 -7.2z" fill="#423f05"/>
<path d="M110.1 45.2l6.3 -3l-4.9 3.2l-6.3 2.8z" fill="#1e1000"/>
<path d="M196.8 38l5.4 4.3l-5.9 -0.3l-5.4 -4.4z" fill="#3a0c03"/>
<path d="M223.8 51.2l5.1 5.8l-6 -1.9l-5.1 -5.9z" fill="#3e1f04"/>
<path d="M120.9 39.7l6.2 -2l-5.1 3l-6.2 1.8z" fill="#160800"/>
<path d="M186 34.4l5.5 3.4l-5.8 0.2l-5.5 -3.5z" fill="#360602"/>
<path d="M93.9 56.9l6.2 -5.3l-4.9 3.1l-6.2 5.2z" fill="#1a1700"/>
<path d="M131.7 35.5l6.1 -0.9l-5.3 2.5l-6 0.9z" fill="#150400"/>
<path d="M240.2 62.2l4.9 6.5l-6.1 -3l-4.9 -6.6z" fill="#413104"/>
<path d="M175.2 32l5.6 2.6l-5.7 0.7l-5.7 -2.7z" fill="#300301"/>
<path d="M142.6 32.7l6 -0.1l-5.5 2.2l-5.9 -0.1z" fill="#220400"/>
<path d="M256.5 76l4.7 7l-6.2 -4l-4.7 -7.2z" fill="#3a3f03"/>
<path d="M164.3 31l5.8 1.7l-5.7 1.2l-5.8 -1.9z" fill="#2c0200"/>
<path d="M213.1 44.6l5.3 5l-6 -1.4l-5.3 -5.1z" fill="#371302"/>
<path d="M153.5 31.2l5.8 0.8l-5.5 1.7l-5.9 -1z" fill="#260200"/>
<path d="M104.5 49.4l6.2 -4.3l-5 2.7l-6.2 4.2z" fill="#191000"/>
<path d="M202.4 39.2l5.4 4.2l-6 -0.9l-5.4 -4.3z" fill="#360b01"/>
<path d="M229.5 53.9l5.1 5.7l-6.1 -2.5l-5 -5.8z" fill="#3b2102"/>
<path d="M88.2 62.6l6.2 -6.3l-5 3l-6.1 6.1z" fill="#2a2b01"/>
<path d="M115.2 43.2l6.3 -3.5l-5.1 2.4l-6.3 3.3z" fill="#170b01"/>
<path d="M246 66l4.8 6.3l-6.1 -3.6l-4.9 -6.4z" fill="#3c3302"/>
<path d="M191.5 35.1l5.6 3.4l-5.9 -0.4l-5.6 -3.5z" fill="#2c0500"/>
<path d="M262.4 80.9l4.6 6.9l-6.3 -4.7l-4.6 -7z" fill="#2e3b02"/>
<path d="M125.9 38.1l6.3 -2.4l-5.1 2.1l-6.3 2.2z" fill="#140b07"/>
<path d="M180.7 32.3l5.6 2.5l-5.8 0.1l-5.7 -2.6z" fill="#250200"/>
<path d="M218.8 46.8l5.2 4.9l-6 -2l-5.2 -5z" fill="#301201"/>
<path d="M136.8 34.2l6.2 -1.2l-5.2 1.9l-6.2 1z" fill="#251513"/>
<path d="M98.9 54.3l6.1 -5.4l-5 2.6l-6.2 5.3z" fill="#1e1700"/>
<path d="M169.7 30.8l5.8 1.6l-5.7 0.6l-5.8 -1.7z" fill="#240100"/>
<path d="M147.8 31.6l6.1 -0.1l-5.5 1.5l-6.1 0.1z" fill="#150100"/>
<path d="M158.8 30.6l5.9 0.7l-5.7 1.1l-5.8 -0.9z" fill="#1d0100"/>
<path d="M82.5 69.3l6.1 -7.3l-5 2.9l-6.1 7.1z" fill="#3e470d"/>
<path d="M235.3 57.2l5 5.6l-6.1 -3.1l-5 -5.7z" fill="#301f01"/>
<path d="M208 41l5.4 4.1l-6 -1.5l-5.4 -4.2z" fill="#2e0c00"/>
<path d="M109.6 47.2l6.2 -4.5l-5.2 2.2l-6.2 4.4z" fill="#1e1100"/>
<path d="M251.8 70.5l4.8 6.1l-6.2 -4.2l-4.8 -6.3z" fill="#313001"/>
<path d="M268.3 86.4l4.5 6.7l-6.3 -5.4l-4.6 -6.8z" fill="#223802"/>
<path d="M197.2 36.4l5.4 3.3l-5.9 -1l-5.5 -3.4z" fill="#220400"/>
<path d="M120.4 41.4l6.2 -3.6l-5.3 1.8l-6.2 3.5z" fill="#180900"/>
<path d="M93.1 60.2l6.2 -6.4l-5.1 2.4l-6.1 6.3z" fill="#322e01"/>
<path d="M224.6 49.7l5.1 4.7l-6.1 -2.6l-5.2 -4.8z" fill="#281200"/>
<path d="M76.7 77.1l6.1 -8.3l-4.9 2.7l-6.1 8.1z" fill="#364a11"/>
<path d="M186.2 33.1l5.6 2.4l-5.9 -0.4l-5.6 -2.5z" fill="#190100"/>
<path d="M131.3 36.9l6.1 -2.7l-5.3 1.3l-6.2 2.6z" fill="#140300"/>
<path d="M175.3 31.2l5.7 1.5l-5.9 0l-5.7 -1.6z" fill="#1a0100"/>
<path d="M241.2 61.2l4.9 5.4l-6.3 -3.8l-4.9 -5.5z" fill="#271e00"/>
<path d="M142.1 33.7l6.2 -1.8l-5.3 0.9l-6.3 1.6z" fill="#170402"/>
<path d="M274.2 92.7l4.4 6.3l-6.4 -6.1l-4.4 -6.5z" fill="#142e01"/>
<path d="M164.2 30.5l5.9 0.6l-5.7 0.6l-5.9 -0.8z" fill="#140100"/>
<path d="M152.9 31.4l6.3 -0.5l-5.4 0.8l-6.2 0.3z" fill="#0f0101"/>
<path d="M103.9 52.3l6.1 -5.6l-5.2 2.1l-6.1 5.4z" fill="#2b1d01"/>
<path d="M257.8 75.5l4.6 5.9l-6.4 -4.9l-4.6 -6z" fill="#222800"/>
<path d="M213.8 43.4l5.2 3.9l-6.1 -2.1l-5.3 -4z" fill="#200a00"/>
<path d="M70.9 85.8l6.1 -9.3l-4.9 2.5l-6.1 9.2z" fill="#224008"/>
<path d="M87.4 67.1l6.1 -7.5l-5.1 2.3l-6.1 7.3z" fill="#3c3e04"/>
<path d="M114.7 45.6l6.2 -4.6l-5.3 1.6l-6.2 4.5z" fill="#281200"/>
<path d="M202.9 38.4l5.4 3.1l-6.1 -1.6l-5.4 -3.3z" fill="#190400"/>
<path d="M230.5 53.2l5 4.6l-6.3 -3.3l-5 -4.7z" fill="#1e1000"/>
<path d="M280.1 99.5l4.4 6l-6.4 -6.9l-4.5 -6.2z" fill="#061b00"/>
<path d="M125.6 40.2l6.1 -3.7l-5.4 1.2l-6.1 3.6z" fill="#200900"/>
<path d="M247.1 65.9l4.8 5l-6.4 -4.4l-4.8 -5.3z" fill="#211c00"/>
<path d="M191.9 34.6l5.5 2.3l-6.1 -1.1l-5.5 -2.4z" fill="#110100"/>
<path d="M65.2 95.6l6 -10.4l-4.9 2.4l-6 10.2z" fill="#1e4b11"/>
<path d="M98.1 58.3l6.2 -6.6l-5.2 1.9l-6.2 6.5z" fill="#3b3004"/>
<path d="M263.7 81.3l4.5 5.6l-6.4 -5.7l-4.6 -5.8z" fill="#192401"/>
<path d="M81.6 75l6.1 -8.5l-5.1 2.2l-6.1 8.3z" fill="#354207"/>
<path d="M136.6 36.1l6.1 -2.8l-5.5 0.7l-6.1 2.7z" fill="#1d0500"/>
<path d="M181 32.2l5.5 1.4l-6 -0.6l-5.6 -1.6z" fill="#130404"/>
<path d="M219.6 46.5l5.1 3.7l-6.2 -2.8l-5.2 -3.9z" fill="#170900"/>
<path d="M147.6 33.3l6 -1.9l-5.5 0.2l-6.1 1.8z" fill="#1a0200"/>
<path d="M169.7 31.7l5.9 -0.2l-5.8 -0.7l-5.9 0z" fill="#150100"/>
<path d="M158.6 31.9l6 -1.1l-5.7 -0.2l-6 0.9z" fill="#110000"/>
<path d="M109 50.8l6.1 -5.7l-5.3 1.5l-6.1 5.5z" fill="#372102"/>
<path d="M59.4 106.3l6 -11.4l-4.8 2.3l-6.1 11.1z" fill="#154f18"/>
<path d="M285.9 106.8l4.4 5.8l-6.3 -7.6l-4.5 -5.9z" fill="#111c11"/>
<path d="M236.4 57.5l4.9 4.2l-6.5 -4.1l-4.9 -4.4z" fill="#170e00"/>
<path d="M208.8 41.1l5.1 2.7l-6.3 -2.3l-5.2 -3z" fill="#160500"/>
<path d="M92.3 65.3l6.2 -7.6l-5.2 1.8l-6.1 7.5z" fill="#413d06"/>
<path d="M75.8 83.9l6.1 -9.5l-5.1 2l-6 9.3z" fill="#2b4308"/>
<path d="M269.5 87.7l4.6 5.2l-6.4 -6.5l-4.6 -5.4z" fill="#132501"/>
<path d="M253 71.2l4.7 4.7l-6.4 -5.3l-4.8 -4.9z" fill="#181800"/>
<path d="M119.9 44.5l6.1 -4.8l-5.4 1.1l-6.1 4.6z" fill="#361701"/>
<path d="M53.6 118.1l6.1 -12.4l-4.9 2l-6 12.2z" fill="#114d26"/>
<path d="M197.7 37.1l5.3 1.7l-6.3 -2.1l-5.3 -1.9z" fill="#332c2b"/>
<path d="M130.9 39.6l6.1 -3.9l-5.5 0.6l-6.1 3.7z" fill="#290b00"/>
<path d="M225.5 50.3l5 3.3l-6.4 -3.7l-5 -3.4z" fill="#181009"/>
<path d="M186.5 34.4l5.6 0.6l-6.1 -1.8l-5.6 -0.8z" fill="#150100"/>
<path d="M103.2 57l6.1 -6.8l-5.3 1.4l-6.1 6.6z" fill="#402e06"/>
<path d="M70 93.8l6.1 -10.5l-5 1.8l-6.1 10.4z" fill="#214b0c"/>
<path d="M142 35.9l6 -3l-5.6 0.1l-6.1 2.9z" fill="#2b0601"/>
<path d="M175.3 32.8l5.8 -0.3l-5.9 -1.3l-5.8 0.1z" fill="#1a0100"/>
<path d="M86.5 73.4l6.1 -8.6l-5.1 1.6l-6.1 8.5z" fill="#404709"/>
<path d="M153.1 33.5l6 -2l-5.8 -0.4l-6 1.9z" fill="#280300"/>
<path d="M242.1 62.3l5 3.9l-6.4 -4.9l-5 -4z" fill="#171100"/>
<path d="M164.2 32.5l5.9 -1.2l-5.8 -0.8l-5.9 1z" fill="#200100"/>
<path d="M275.4 94.6l4.6 5l-6.4 -7.2l-4.6 -5.2z" fill="#091e00"/>
<path d="M258.8 77.1l4.8 4.4l-6.4 -6l-4.8 -4.7z" fill="#151a00"/>
<path d="M214.4 44.5l5.3 2.3l-6.3 -3.3l-5.3 -2.5z" fill="#150600"/>
<path d="M114.1 49.8l6.2 -5.8l-5.4 0.9l-6.2 5.7z" fill="#402306"/>
<path d="M64.2 104.8l6 -11.6l-4.9 1.7l-6.1 11.3z" fill="#124d0e"/>
<path d="M203.3 39.9l5.4 1.4l-6.1 -3l-5.5 -1.5z" fill="#140300"/>
<path d="M97.4 64.2l6.1 -7.8l-5.3 1.2l-6.1 7.6z" fill="#473d09"/>
<path d="M231.2 54.7l5.1 3l-6.3 -4.5l-5.2 -3.2z" fill="#180d00"/>
<path d="M80.7 82.5l6.1 -9.7l-5.1 1.5l-6.1 9.5z" fill="#374c0c"/>
<path d="M125.2 44l6.1 -4.9l-5.5 0.4l-6.1 4.8z" fill="#3a1502"/>
<path d="M281.3 102l4.6 4.9l-6.3 -7.9l-4.7 -5z" fill="#021500"/>
<path d="M58.4 116.7l6 -12.6l-4.9 1.5l-6 12.4z" fill="#115320"/>
<path d="M192.1 36.5l5.7 0.5l-6.1 -2.4l-5.7 -0.7z" fill="#1a0200"/>
<path d="M247.9 67.7l5 3.6l-6.3 -5.6l-5 -3.8z" fill="#1f1b00"/>
<path d="M264.6 83.5l4.9 4.2l-6.4 -6.7l-4.8 -4.4z" fill="#131e00"/>
<path d="M136.3 39.4l6 -4l-5.6 0l-6.1 3.9z" fill="#360d02"/>
<path d="M180.9 34.5l5.8 -0.4l-6 -2l-5.8 0.3z" fill="#240200"/>
<path d="M147.4 36.2l6 -3.1l-5.7 -0.4l-6 2.9z" fill="#350701"/>
<path d="M108.3 56.2l6.2 -6.9l-5.4 0.8l-6.2 6.7z" fill="#4a310a"/>
<path d="M220.1 48.3l5.3 2.1l-6.2 -4.1l-5.3 -2.2z" fill="#190a00"/>
<path d="M169.7 33.7l5.9 -1.3l-5.9 -1.4l-5.9 1.1z" fill="#2a0200"/>
<path d="M158.6 34.3l5.9 -2.2l-5.8 -0.9l-6 2z" fill="#2d0301"/>
<path d="M74.9 92.6l6.1 -10.7l-5.1 1.3l-6.1 10.5z" fill="#2d520f"/>
<path d="M91.5 72.4l6.2 -8.8l-5.3 1.1l-6.1 8.6z" fill="#4c4d0d"/>
<path d="M237 59.5l5.1 2.8l-6.2 -5.1l-5.2 -3z" fill="#211600"/>
<path d="M119.4 49.4l6.1 -5.9l-5.5 0.3l-6.1 5.8z" fill="#4a2609"/>
<path d="M209 43.1l5.5 1.3l-6.2 -3.6l-5.5 -1.4z" fill="#200800"/>
<path d="M270.6 90.5l4.8 4l-6.3 -7.3l-4.9 -4.3z" fill="#152901"/>
<path d="M253.8 73.6l5 3.4l-6.3 -6.2l-5 -3.7z" fill="#232400"/>
<path d="M69 103.7l6.1 -11.7l-5 1.1l-6.1 11.6z" fill="#1c5510"/>
<path d="M130.5 44l6.1 -5l-5.6 -0.1l-6.1 4.9z" fill="#421605"/>
<path d="M102.5 63.5l6.2 -7.9l-5.4 0.7l-6.2 7.7z" fill="#51410e"/>
<path d="M197.8 39.3l5.7 0.4l-6.1 -3.1l-5.7 -0.5z" fill="#1f0400"/>
<path d="M85.7 81.7l6.1 -9.9l-5.2 0.9l-6.1 9.7z" fill="#42520f"/>
<path d="M225.9 52.6l5.4 2l-6.3 -4.7l-5.3 -2.1z" fill="#261200"/>
<path d="M141.7 39.9l6.1 -4.1l-5.8 -0.6l-6 4z" fill="#3d0e04"/>
<path d="M63.2 115.9l6.1 -12.8l-5.1 1l-6 12.5z" fill="#14581c"/>
<path d="M186.6 36.7l5.8 -0.5l-6.1 -2.5l-5.8 0.3z" fill="#310401"/>
<path d="M152.9 37.1l6 -3.2l-5.8 -1.1l-6 3.1z" fill="#380702"/>
<path d="M175.3 35.5l5.9 -1.4l-5.9 -2l-5.9 1.2z" fill="#350402"/>
<path d="M164.1 35.7l6 -2.4l-5.9 -1.5l-6 2.2z" fill="#370502"/>
<path d="M242.8 64.9l5.2 2.7l-6.3 -5.8l-5.2 -2.8z" fill="#2d2300"/>
<path d="M276.5 98l4.8 4l-6.3 -8l-4.8 -4.1z" fill="#0c2501"/>
<path d="M113.6 55.9l6.1 -7l-5.5 0.2l-6.1 6.9z" fill="#53340e"/>
<path d="M259.7 80.1l5 3.3l-6.3 -6.9l-5 -3.5z" fill="#242b01"/>
<path d="M79.8 91.9l6.2 -10.8l-5.2 0.7l-6.1 10.7z" fill="#385a12"/>
<path d="M214.8 47l5.5 1.1l-6.2 -4.2l-5.5 -1.3z" fill="#280d00"/>
<path d="M96.6 71.9l6.2 -8.9l-5.3 0.5l-6.2 8.8z" fill="#565110"/>
<path d="M124.7 49.6l6.1 -6.1l-5.6 -0.2l-6.1 5.9z" fill="#50250b"/>
<path d="M203.6 42.6l5.6 0.3l-6.1 -3.7l-5.7 -0.4z" fill="#320a00"/>
<path d="M231.8 57.5l5.3 1.9l-6.2 -5.3l-5.4 -2z" fill="#331e01"/>
<path d="M74 103.3l6.1 -12l-5.2 0.6l-6.1 11.7z" fill="#265b13"/>
<path d="M135.9 44.6l6.1 -5.2l-5.7 -0.7l-6.1 5.1z" fill="#4b1908"/>
<path d="M107.7 63.5l6.2 -8.1l-5.5 0.1l-6.2 7.9z" fill="#584311"/>
<path d="M192.3 39.6l5.8 -0.6l-6.1 -3.2l-5.8 0.5z" fill="#350802"/>
<path d="M248.8 71l5.1 2.5l-6.3 -6.5l-5.2 -2.6z" fill="#342f01"/>
<path d="M90.8 81.4l6.1 -10l-5.3 0.3l-6.1 9.8z" fill="#4d5912"/>
<path d="M265.7 87.2l5 3.2l-6.3 -7.6l-5.1 -3.3z" fill="#263902"/>
<path d="M147.1 41l6.1 -4.3l-5.8 -1.2l-6.1 4.1z" fill="#481007"/>
<path d="M181 38l5.9 -1.6l-6 -2.6l-5.9 1.3z" fill="#3a0703"/>
<path d="M158.4 38.6l6.1 -3.3l-5.9 -1.7l-6.1 3.2z" fill="#430a06"/>
<path d="M169.7 37.6l6 -2.4l-6 -2.2l-5.9 2.3z" fill="#400805"/>
<path d="M68.2 115.6l6.1 -13l-5.2 0.4l-6.1 12.8z" fill="#1b611e"/>
<path d="M220.6 51.4l5.5 1l-6.2 -4.8l-5.5 -1.1z" fill="#331501"/>
<path d="M118.9 56.3l6.1 -7.2l-5.6 -0.4l-6.1 7.1z" fill="#5c3812"/>
<path d="M84.9 91.9l6.2 -11.1l-5.3 0.2l-6.2 10.8z" fill="#426015"/>
<path d="M237.7 63.1l5.3 1.7l-6.3 -6l-5.3 -1.8z" fill="#3d2b03"/>
<path d="M101.8 72l6.2 -9.1l-5.4 -0.1l-6.2 9z" fill="#5d5514"/>
<path d="M209.4 46.6l5.6 0.1l-6.2 -4.3l-5.6 -0.2z" fill="#3a1102"/>
<path d="M271.7 95l4.9 3l-6.3 -8.2l-5 -3.2z" fill="#1e3804"/>
<path d="M130.1 50.4l6.1 -6.3l-5.7 -0.8l-6.1 6.1z" fill="#602c10"/>
<path d="M254.7 77.6l5.2 2.4l-6.3 -7.1l-5.2 -2.5z" fill="#373902"/>
<path d="M198.1 43.1l5.7 -0.7l-6.1 -3.8l-5.8 0.6z" fill="#3c0d03"/>
<path d="M141.4 45.9l6.1 -5.4l-5.8 -1.3l-6.1 5.2z" fill="#521b0b"/>
<path d="M79 103.4l6.2 -12.2l-5.3 0l-6.1 12z" fill="#306417"/>
<path d="M226.5 56.5l5.5 0.8l-6.3 -5.4l-5.5 -1z" fill="#402204"/>
<path d="M113 64l6.2 -8.3l-5.6 -0.5l-6.2 8.1z" fill="#5f4614"/>
<path d="M186.8 41l5.8 -1.7l-6.1 -3.3l-5.8 1.6z" fill="#440d06"/>
<path d="M152.7 42.6l6.1 -4.4l-5.9 -1.8l-6.1 4.3z" fill="#53150b"/>
<path d="M95.9 81.7l6.2 -10.2l-5.4 -0.3l-6.2 10z" fill="#596015"/>
<path d="M175.4 40.2l6 -2.6l-6.1 -2.8l-5.9 2.5z" fill="#470c07"/>
<path d="M164 40.7l6.1 -3.5l-6 -2.2l-6 3.3z" fill="#50100a"/>
<path d="M243.6 69.3l5.3 1.5l-6.2 -6.6l-5.4 -1.7z" fill="#403404"/>
<path d="M73.2 115.9l6.1 -13.1l-5.2 -0.2l-6.1 12.9z" fill="#1f671d"/>
<path d="M260.7 84.9l5.1 2.2l-6.3 -7.7l-5.1 -2.4z" fill="#344004"/>
<path d="M215.2 51.2l5.7 0l-6.3 -4.9l-5.6 -0.2z" fill="#411a05"/>
<path d="M124.2 57.2l6.2 -7.3l-5.7 -1l-6.1 7.2z" fill="#653b16"/>
<path d="M90.1 92.3l6.1 -11.2l-5.4 -0.4l-6.1 11z" fill="#4c6819"/>
<path d="M107.1 72.7l6.2 -9.3l-5.5 -0.6l-6.2 9.1z" fill="#635716"/>
<path d="M203.9 47.3l5.8 -0.9l-6.2 -4.5l-5.8 0.8z" fill="#431406"/>
<path d="M135.5 51.8l6.2 -6.4l-5.8 -1.5l-6.1 6.3z" fill="#632d12"/>
<path d="M232.4 62.2l5.5 0.7l-6.3 -6.1l-5.5 -0.8z" fill="#472d05"/>
<path d="M192.5 44.6l5.9 -1.8l-6.1 -3.9l-5.9 1.7z" fill="#4a1208"/>
<path d="M146.9 47.7l6.1 -5.5l-5.8 -1.9l-6.2 5.3z" fill="#622210"/>
<path d="M249.6 76.1l5.3 1.4l-6.3 -7.2l-5.3 -1.6z" fill="#413d04"/>
<path d="M266.7 92.8l5.1 2.1l-6.3 -8.4l-5.1 -2.2z" fill="#2d4208"/>
<path d="M84.2 104l6.1 -12.3l-5.3 -0.5l-6.2 12.1z" fill="#376819"/>
<path d="M181.1 43.4l6 -2.7l-6.1 -3.4l-6 2.5z" fill="#4d120a"/>
<path d="M158.3 44.9l6.1 -4.6l-6 -2.4l-6 4.4z" fill="#5f1b0f"/>
<path d="M118.3 65.1l6.2 -8.4l-5.6 -1.1l-6.2 8.2z" fill="#694b19"/>
<path d="M169.7 43.5l6 -3.7l-6 -2.9l-6 3.5z" fill="#57150c"/>
<path d="M221.1 56.5l5.7 -0.2l-6.3 -5.6l-5.6 0z" fill="#4c2608"/>
<path d="M101.2 82.6l6.2 -10.4l-5.5 -0.9l-6.2 10.2z" fill="#646819"/>
<path d="M78.3 116.8l6.1 -13.4l-5.3 -0.7l-6.1 13.1z" fill="#236c1d"/>
<path d="M129.7 58.8l6.2 -7.5l-5.8 -1.6l-6.2 7.3z" fill="#6c3f19"/>
<path d="M238.4 68.6l5.4 0.5l-6.3 -6.7l-5.4 -0.7z" fill="#483606"/>
<path d="M209.8 52l5.7 -1l-6.2 -5.1l-5.7 0.9z" fill="#4f1e09"/>
<path d="M255.6 83.6l5.3 1.2l-6.3 -7.9l-5.3 -1.4z" fill="#434909"/>
<path d="M95.3 93.4l6.2 -11.4l-5.5 -1l-6.2 11.2z" fill="#536c1b"/>
<path d="M112.4 74l6.3 -9.4l-5.7 -1.3l-6.2 9.3z" fill="#6a5b1a"/>
<path d="M141.1 53.8l6.1 -6.6l-5.8 -2l-6.2 6.4z" fill="#6c3216"/>
<path d="M198.4 48.9l5.8 -1.9l-6.2 -4.6l-5.8 1.8z" fill="#551b0c"/>
<path d="M152.5 50.1l6.1 -5.6l-5.9 -2.6l-6.1 5.5z" fill="#6c2915"/>
<path d="M186.9 47.2l6 -2.9l-6.2 -4l-5.9 2.7z" fill="#53180c"/>
<path d="M227.1 62.3l5.6 -0.3l-6.3 -6.2l-5.6 0.2z" fill="#53320a"/>
<path d="M164 47.8l6.1 -4.7l-6.1 -3.1l-6 4.6z" fill="#6d2415"/>
<path d="M175.4 46.8l6.1 -3.8l-6.1 -3.5l-6 3.6z" fill="#6b2113"/>
<path d="M123.8 66.8l6.2 -8.5l-5.7 -1.8l-6.2 8.4z" fill="#74521d"/>
<path d="M89.4 105.3l6.2 -12.5l-5.5 -1.2l-6.2 12.3z" fill="#3d6d1c"/>
<path d="M244.4 75.6l5.4 0.3l-6.3 -7.3l-5.4 -0.6z" fill="#4d440a"/>
<path d="M261.6 91.7l5.3 1l-6.3 -8.5l-5.3 -1.2z" fill="#3d4e0e"/>
<path d="M106.5 84l6.2 -10.5l-5.6 -1.5l-6.2 10.4z" fill="#6a6c1c"/>
<path d="M215.7 57.4l5.7 -1.2l-6.2 -5.7l-5.8 1.1z" fill="#582b0c"/>
<path d="M135.2 60.9l6.2 -7.6l-5.8 -2.2l-6.2 7.5z" fill="#76461e"/>
<path d="M83.5 118.3l6.1 -13.6l-5.4 -1.4l-6.1 13.4z" fill="#28731f"/>
<path d="M204.3 53.9l5.8 -2.1l-6.2 -5.2l-5.9 1.9z" fill="#5e270f"/>
<path d="M233.1 68.9l5.6 -0.5l-6.4 -6.9l-5.6 0.3z" fill="#563d0c"/>
<path d="M146.7 56.4l6.1 -6.8l-5.9 -2.6l-6.2 6.5z" fill="#753919"/>
<path d="M117.9 75.9l6.2 -9.6l-5.7 -1.9l-6.2 9.5z" fill="#73621d"/>
<path d="M100.6 95.1l6.2 -11.6l-5.6 -1.6l-6.2 11.4z" fill="#5a731e"/>
<path d="M192.8 51.6l5.9 -3l-6.2 -4.7l-5.9 2.9z" fill="#672713"/>
<path d="M158.2 53.1l6.1 -5.8l-6 -3.1l-6.1 5.6z" fill="#78331a"/>
<path d="M250.4 83.2l5.4 0.2l-6.3 -8l-5.4 -0.4z" fill="#52520e"/>
<path d="M181.2 50.8l6.1 -3.9l-6.2 -4.2l-6 3.7z" fill="#7a2d19"/>
<path d="M169.7 51.3l6.1 -4.9l-6.1 -3.6l-6.1 4.6z" fill="#6c2816"/>
<path d="M221.7 63.5l5.7 -1.4l-6.3 -6.3l-5.7 1.1z" fill="#623b10"/>
<path d="M129.3 69.2l6.2 -8.8l-5.8 -2.3l-6.2 8.5z" fill="#7f5c22"/>
<path d="M94.7 107.2l6.2 -12.7l-5.6 -1.8l-6.2 12.5z" fill="#42721e"/>
<path d="M111.9 86.1l6.3 -10.7l-5.7 -2.1l-6.2 10.6z" fill="#747620"/>
<path d="M239.1 76l5.6 -0.6l-6.4 -7.5l-5.6 0.4z" fill="#5b4c11"/>
<path d="M210.2 59.4l5.8 -2.2l-6.3 -5.9l-5.8 2.1z" fill="#6a3614"/>
<path d="M140.8 63.7l6.2 -7.8l-5.9 -2.8l-6.2 7.6z" fill="#794b20"/>
<path d="M256.5 91.5l5.4 0l-6.4 -8.6l-5.4 -0.3z" fill="#56631e"/>
<path d="M88.7 120.3l6.2 -13.7l-5.5 -2l-6.2 13.5z" fill="#2b7721"/>
<path d="M198.7 56.7l5.9 -3.1l-6.3 -5.4l-5.9 3z" fill="#6d3115"/>
<path d="M152.3 59.6l6.2 -6.9l-6 -3.3l-6.2 6.7z" fill="#7c411d"/>
<path d="M123.4 78.4l6.2 -9.8l-5.8 -2.5l-6.2 9.7z" fill="#827123"/>
<path d="M187.1 55.4l6 -4.1l-6.2 -4.8l-6 3.9z" fill="#753319"/>
<path d="M106 97.4l6.2 -11.9l-5.6 -2.2l-6.3 11.6z" fill="#617b22"/>
<path d="M163.9 56.8l6.1 -5.9l-6 -3.8l-6.2 5.7z" fill="#7c391d"/>
<path d="M175.5 55.4l6.1 -5l-6.2 -4.3l-6 4.8z" fill="#78351b"/>
<path d="M227.7 70.2l5.7 -1.5l-6.4 -7.1l-5.7 1.4z" fill="#604312"/>
<path d="M245.1 83.8l5.6 -0.8l-6.4 -8.1l-5.5 0.6z" fill="#5e5b13"/>
<path d="M134.9 72.1l6.2 -8.9l-5.9 -3l-6.2 8.8z" fill="#846225"/>
<path d="M216.2 65.6l5.8 -2.4l-6.3 -6.5l-5.9 2.3z" fill="#764819"/>
<path d="M100 109.6l6.3 -12.8l-5.7 -2.4l-6.2 12.7z" fill="#457721"/>
<path d="M117.4 88.8l6.3 -10.9l-5.8 -2.7l-6.3 10.8z" fill="#7b7e24"/>
<path d="M146.4 67.1l6.3 -8l-6 -3.4l-6.2 7.8z" fill="#845624"/>
<path d="M204.6 62.5l5.9 -3.3l-6.3 -6l-5.9 3.1z" fill="#78411a"/>
<path d="M233.7 77.5l5.7 -1.7l-6.4 -7.6l-5.7 1.4z" fill="#6d5b19"/>
<path d="M94.1 123l6.2 -13.9l-5.6 -2.6l-6.2 13.7z" fill="#2d7c24"/>
<path d="M158 63.4l6.2 -7l-6 -4l-6.2 6.9z" fill="#834a21"/>
<path d="M193 60.7l6 -4.3l-6.3 -5.5l-6 4.1z" fill="#753c1b"/>
<path d="M169.7 61.1l6.1 -6.1l-6.1 -4.4l-6.1 5.9z" fill="#854521"/>
<path d="M251.2 92.3l5.5 -1l-6.3 -8.8l-5.6 0.8z" fill="#5e681c"/>
<path d="M181.3 60.2l6.1 -5.2l-6.2 -4.9l-6.1 5z" fill="#7e401e"/>
<path d="M128.9 81.6l6.3 -10l-5.9 -3.1l-6.2 9.8z" fill="#827325"/>
<path d="M111.4 100.2l6.3 -11.9l-5.7 -2.9l-6.3 11.8z" fill="#688526"/>
<path d="M222.2 72.5l5.8 -2.6l-6.4 -7.1l-5.8 2.4z" fill="#76561d"/>
<path d="M140.5 75.7l6.3 -9.1l-6 -3.6l-6.2 8.9z" fill="#856727"/>
<path d="M239.8 85.5l5.6 -1.9l-6.4 -8.3l-5.6 1.7z" fill="#6a6519"/>
<path d="M210.6 68.8l5.9 -3.4l-6.3 -6.7l-6 3.3z" fill="#7c501e"/>
<path d="M105.5 112.7l6.2 -13l-5.7 -3l-6.2 12.8z" fill="#4a8126"/>
<path d="M123 92.1l6.2 -11.1l-5.8 -3.3l-6.3 10.9z" fill="#7c8326"/>
<path d="M152.1 71.1l6.3 -8.1l-6.1 -4.1l-6.2 7.9z" fill="#8c6128"/>
<path d="M198.9 66.6l6 -4.4l-6.3 -6.2l-6 4.2z" fill="#844f21"/>
<path d="M163.8 67.9l6.2 -7.2l-6.1 -4.6l-6.2 7z" fill="#8c5725"/>
<path d="M187.2 65.6l6.1 -5.3l-6.2 -5.6l-6.1 5.1z" fill="#864e22"/>
<path d="M175.5 66.1l6.2 -6.3l-6.2 -5.1l-6.2 6.1z" fill="#8a5225"/>
<path d="M99.5 126.3l6.2 -14.1l-5.6 -3.3l-6.3 14z" fill="#308529"/>
<path d="M228.2 80l5.8 -2.7l-6.4 -7.8l-5.8 2.5z" fill="#7c6820"/>
<path d="M134.6 85.3l6.2 -10.1l-5.9 -3.8l-6.3 10z" fill="#857a27"/>
<path d="M117 103.8l6.2 -12.2l-5.8 -3.5l-6.2 12z" fill="#6a8a29"/>
<path d="M245.9 94.1l5.6 -2l-6.4 -9l-5.7 1.9z" fill="#68721d"/>
<path d="M216.6 75.9l5.9 -3.6l-6.4 -7.4l-5.9 3.5z" fill="#866525"/>
<path d="M146.2 79.9l6.3 -9.3l-6.1 -4.2l-6.2 9.1z" fill="#8e742b"/>
<path d="M204.9 73.1l6 -4.5l-6.3 -6.8l-6 4.3z" fill="#845c24"/>
<path d="M111 116.5l6.3 -13.3l-5.8 -3.7l-6.3 13.1z" fill="#498428"/>
<path d="M157.9 75.8l6.3 -8.3l-6.1 -4.8l-6.3 8.2z" fill="#8c6729"/>
<path d="M128.6 96.1l6.3 -11.3l-6 -3.9l-6.2 11.1z" fill="#7e892a"/>
<path d="M234.3 88.2l5.8 -2.9l-6.4 -8.5l-5.8 2.7z" fill="#767120"/>
<path d="M193.2 71.7l6.1 -5.5l-6.3 -6.2l-6.1 5.3z" fill="#8c5d26"/>
<path d="M169.7 73.1l6.2 -7.4l-6.2 -5.3l-6.2 7.2z" fill="#8c6027"/>
<path d="M181.4 71.7l6.2 -6.4l-6.3 -5.8l-6.1 6.3z" fill="#916028"/>
<path d="M105 130.2l6.3 -14.3l-5.8 -3.9l-6.3 14.2z" fill="#2f882c"/>
<path d="M140.2 89.7l6.3 -10.3l-6 -4.4l-6.3 10.1z" fill="#8f892d"/>
<path d="M222.7 83.6l5.8 -3.8l-6.4 -8l-5.9 3.6z" fill="#8d7a28"/>
<path d="M122.6 107.9l6.3 -12.4l-5.9 -4.1l-6.3 12.2z" fill="#668c2b"/>
<path d="M152 84.8l6.3 -9.5l-6.1 -4.9l-6.3 9.3z" fill="#937f2e"/>
<path d="M240.4 97l5.7 -3.1l-6.4 -9.1l-5.7 2.9z" fill="#737f24"/>
<path d="M210.9 80.3l6 -4.7l-6.4 -7.5l-5.9 4.6z" fill="#8e722a"/>
<path d="M163.8 81.1l6.2 -8.5l-6.2 -5.4l-6.2 8.3z" fill="#8c702a"/>
<path d="M199.2 78.5l6 -5.7l-6.3 -6.9l-6.1 5.4z" fill="#8f6f2c"/>
<path d="M116.6 120.8l6.3 -13.4l-5.9 -4.3l-6.3 13.2z" fill="#46892a"/>
<path d="M134.3 100.7l6.3 -11.5l-6 -4.6l-6.3 11.3z" fill="#7f912e"/>
<path d="M175.6 78.9l6.2 -7.6l-6.3 -5.9l-6.2 7.4z" fill="#906d2a"/>
<path d="M187.4 78l6.1 -6.6l-6.3 -6.5l-6.1 6.5z" fill="#97712d"/>
<path d="M228.7 91.9l5.9 -3.9l-6.4 -8.7l-5.9 3.8z" fill="#807e26"/>
<path d="M110.6 134.8l6.2 -14.6l-5.8 -4.4l-6.3 14.3z" fill="#308c32"/>
<path d="M146 94.8l6.3 -10.5l-6.1 -5.1l-6.3 10.3z" fill="#8d8e2f"/>
<path d="M217 88.2l6 -4.9l-6.4 -8.1l-6 4.7z" fill="#92842d"/>
<path d="M128.2 112.7l6.4 -12.5l-6 -4.8l-6.3 12.3z" fill="#64922f"/>
<path d="M157.8 90.3l6.3 -9.6l-6.2 -5.6l-6.2 9.4z" fill="#958a30"/>
<path d="M205.2 85.9l6.1 -5.9l-6.4 -7.6l-6.1 5.7z" fill="#96802f"/>
<path d="M169.7 87.1l6.2 -8.7l-6.2 -6l-6.3 8.4z" fill="#907c2b"/>
<path d="M234.9 100.9l5.8 -4.1l-6.4 -9.3l-5.9 3.9z" fill="#79892a"/>
<path d="M193.4 84.9l6.1 -6.8l-6.3 -7.1l-6.2 6.6z" fill="#9a8232"/>
<path d="M181.5 85.3l6.2 -7.7l-6.3 -6.6l-6.2 7.5z" fill="#988030"/>
<path d="M140 105.9l6.3 -11.6l-6 -5.3l-6.4 11.5z" fill="#77912f"/>
<path d="M122.2 125.8l6.3 -13.6l-5.9 -5l-6.3 13.5z" fill="#45912e"/>
<path d="M223.1 96.8l6 -5.1l-6.5 -8.8l-5.9 4.9z" fill="#8d922e"/>
<path d="M151.8 100.5l6.3 -10.7l-6.1 -5.7l-6.3 10.5z" fill="#889431"/>
<path d="M116.2 139.9l6.3 -14.7l-5.9 -5.1l-6.3 14.5z" fill="#32933c"/>
<path d="M134 118.1l6.3 -12.7l-6 -5.4l-6.4 12.5z" fill="#5e9530"/>
<path d="M211.3 93.9l6 -6l-6.4 -8.3l-6 5.8z" fill="#969130"/>
<path d="M163.7 96.4l6.3 -9.7l-6.2 -6.3l-6.3 9.6z" fill="#969633"/>
<path d="M199.4 92.5l6.1 -7l-6.3 -7.7l-6.2 6.7z" fill="#978e32"/>
<path d="M175.6 93.7l6.3 -8.8l-6.3 -6.7l-6.3 8.6z" fill="#979032"/>
<path d="M187.5 92.4l6.2 -7.9l-6.3 -7.2l-6.2 7.7z" fill="#978d32"/>
<path d="M145.8 111.8l6.4 -11.8l-6.2 -5.9l-6.3 11.6z" fill="#729732"/>
<path d="M229.2 106l6 -5.3l-6.5 -9.5l-5.9 5.1z" fill="#7e9631"/>
<path d="M127.9 131.4l6.4 -13.8l-6 -5.6l-6.4 13.6z" fill="#3f9531"/>
<path d="M157.7 106.8l6.3 -10.8l-6.2 -6.4l-6.3 10.7z" fill="#819833"/>
<path d="M217.4 102.7l6 -6.2l-6.4 -9l-6.1 6z" fill="#8b9932"/>
<path d="M121.9 145.8l6.3 -14.9l-6 -5.8l-6.3 14.7z" fill="#349648"/>
<path d="M139.8 124.2l6.3 -12.9l-6.1 -6.1l-6.3 12.8z" fill="#569732"/>
<path d="M169.6 103.2l6.3 -9.9l-6.2 -6.9l-6.3 9.7z" fill="#8e9b34"/>
<path d="M205.5 100.7l6.1 -7.1l-6.4 -8.4l-6.1 6.9z" fill="#939b34"/>
<path d="M181.6 101l6.3 -9l-6.4 -7.4l-6.2 8.8z" fill="#919834"/>
<path d="M193.5 100.2l6.3 -8.1l-6.4 -7.9l-6.2 7.9z" fill="#909633"/>
<path d="M151.7 118.4l6.3 -12l-6.2 -6.6l-6.3 11.8z" fill="#679833"/>
<path d="M133.7 137.7l6.4 -14l-6.1 -6.3l-6.3 13.9z" fill="#399736"/>
<path d="M223.5 112.1l6.1 -6.4l-6.5 -9.6l-6.1 6.1z" fill="#799a35"/>
<path d="M163.6 113.9l6.4 -11.1l-6.3 -7.1l-6.3 10.9z" fill="#749934"/>
<path d="M211.6 109.6l6.1 -7.2l-6.4 -9.2l-6.2 7.1z" fill="#7d9833"/>
<path d="M127.7 152.3l6.3 -15.1l-6 -6.5l-6.4 14.9z" fill="#359755"/>
<path d="M175.6 110.7l6.3 -10.1l-6.3 -7.6l-6.3 10z" fill="#809c36"/>
<path d="M199.6 108.6l6.2 -8.2l-6.4 -8.6l-6.2 8z" fill="#849c35"/>
<path d="M145.6 131l6.4 -13.1l-6.2 -6.8l-6.3 12.9z" fill="#4c9a34"/>
<path d="M187.6 109l6.3 -9.2l-6.4 -8.1l-6.3 9z" fill="#819734"/>
<path d="M157.6 125.6l6.4 -12.2l-6.3 -7.3l-6.3 12z" fill="#5b9a35"/>
<path d="M139.6 144.7l6.3 -14.3l-6.1 -6.9l-6.4 14z" fill="#35983f"/>
<path d="M217.7 119.2l6.2 -7.4l-6.5 -9.8l-6.2 7.2z" fill="#6b9a35"/>
<path d="M169.6 121.5l6.4 -11.2l-6.4 -7.8l-6.3 11.1z" fill="#669a35"/>
<path d="M205.7 117.7l6.2 -8.4l-6.4 -9.3l-6.2 8.2z" fill="#6f9935"/>
<path d="M181.7 118.9l6.3 -10.3l-6.4 -8.3l-6.3 10.1z" fill="#709d37"/>
<path d="M193.7 117.6l6.3 -9.3l-6.5 -8.8l-6.2 9.1z" fill="#709935"/>
<path d="M133.5 159.4l6.4 -15.3l-6.2 -7.1l-6.3 15.1z" fill="#369a65"/>
<path d="M151.6 138.4l6.3 -13.3l-6.2 -7.4l-6.4 13.1z" fill="#3f9b37"/>
<path d="M163.6 133.4l6.4 -12.3l-6.4 -7.9l-6.3 12.1z" fill="#499634"/>
<path d="M145.5 152.3l6.4 -14.4l-6.3 -7.6l-6.3 14.2z" fill="#33944b"/>
<path d="M211.9 127.5l6.2 -8.6l-6.5 -10l-6.2 8.4z" fill="#5d9c37"/>
<path d="M175.7 129.9l6.3 -11.4l-6.4 -8.5l-6.3 11.3z" fill="#549735"/>
<path d="M199.8 126.9l6.3 -9.5l-6.5 -9.5l-6.2 9.4z" fill="#5d9a35"/>
<path d="M187.7 127.7l6.4 -10.5l-6.5 -8.9l-6.3 10.3z" fill="#5d9b37"/>
<path d="M139.4 167.2l6.4 -15.5l-6.2 -7.7l-6.4 15.2z" fill="#379974"/>
<path d="M157.5 146.4l6.4 -13.4l-6.3 -8.1l-6.4 13.3z" fill="#389c41"/>
<path d="M169.6 142l6.4 -12.6l-6.4 -8.6l-6.4 12.4z" fill="#3c9737"/>
<path d="M151.4 160.5l6.4 -14.6l-6.2 -8.2l-6.4 14.4z" fill="#359860"/>
<path d="M181.7 138.9l6.4 -11.6l-6.4 -9.1l-6.4 11.4z" fill="#439936"/>
<path d="M206 136.9l6.2 -9.7l-6.5 -10.2l-6.2 9.5z" fill="#4b9d39"/>
<path d="M193.9 137.2l6.3 -10.7l-6.5 -9.6l-6.3 10.5z" fill="#499b37"/>
<path d="M145.3 175.7l6.4 -15.7l-6.2 -8.4l-6.4 15.4z" fill="#379b87"/>
<path d="M163.5 155.2l6.4 -13.7l-6.3 -8.8l-6.4 13.5z" fill="#379b51"/>
<path d="M175.7 151.2l6.4 -12.7l-6.4 -9.3l-6.4 12.5z" fill="#389b46"/>
<path d="M187.8 148.6l6.4 -11.8l-6.5 -9.8l-6.3 11.6z" fill="#38983f"/>
<path d="M157.4 169.4l6.4 -14.7l-6.3 -9l-6.4 14.6z" fill="#359773"/>
<path d="M200 147.4l6.3 -10.9l-6.5 -10.3l-6.3 10.7z" fill="#3d9f40"/>
<path d="M169.6 164.6l6.4 -13.9l-6.4 -9.4l-6.4 13.6z" fill="#379b67"/>
<path d="M151.3 184.8l6.4 -15.9l-6.3 -9.1l-6.4 15.7z" fill="#389595"/>
<path d="M181.8 161.1l6.4 -12.9l-6.5 -10l-6.4 12.7z" fill="#369759"/>
<path d="M194 158.9l6.3 -11.9l-6.5 -10.5l-6.3 11.8z" fill="#3a9e59"/>
<path d="M163.5 179l6.4 -14.9l-6.4 -9.6l-6.4 14.7z" fill="#369787"/>
<path d="M175.7 174.6l6.4 -14l-6.4 -10.1l-6.5 13.8z" fill="#379a7d"/>
<path d="M157.3 194.6l6.5 -16.1l-6.4 -9.8l-6.4 15.9z" fill="#3a899c"/>
<path d="M187.9 171.6l6.4 -13.1l-6.5 -10.6l-6.4 12.9z" fill="#3a9d77"/>
<path d="M169.6 189.3l6.4 -15.1l-6.4 -10.3l-6.5 14.9z" fill="#368f95"/>
<path d="M181.8 185.4l6.5 -14.2l-6.5 -10.8l-6.5 14z" fill="#3b9c96"/>
<path d="M163.4 205l6.5 -16.2l-6.4 -10.5l-6.5 16z" fill="#39749a"/>
<path d="M175.7 200.2l6.5 -15.3l-6.5 -11l-6.5 15.1z" fill="#3a819c"/>
<path d="M169.5 216.1l6.5 -16.4l-6.4 -11.1l-6.5 16.2z" fill="#3d65a1"/>
<path d="M516.9 63.1l5.2 4.3l-5.2 5.1l-5.2 -4.2z" fill="#835423"/>
<path d="M512 59.7l5.3 3.7l-5.2 5.2l-5.3 -3.7z" fill="#885023"/>
<path d="M521.9 58.9l5.2 4.3l-5.3 4.5l-5.2 -4.2z" fill="#824c21"/>
<path d="M507 56.7l5.3 3.3l-5.2 5.2l-5.3 -3.2z" fill="#844820"/>
<path d="M526.9 55.2l5.2 4.3l-5.4 4l-5.2 -4.3z" fill="#7b401d"/>
<path d="M516.9 55.4l5.3 3.8l-5.3 4.6l-5.3 -3.7z" fill="#793f1d"/>
<path d="M501.9 54.2l5.4 2.8l-5.2 5.3l-5.4 -2.8z" fill="#7e3f1d"/>
<path d="M532 52.1l5.2 4.4l-5.5 3.4l-5.2 -4.4z" fill="#703418"/>
<path d="M511.9 52.4l5.4 3.3l-5.3 4.7l-5.4 -3.3z" fill="#75361a"/>
<path d="M522 51.7l5.2 3.8l-5.3 4.1l-5.3 -3.8z" fill="#78371b"/>
<path d="M496.7 52.2l5.5 2.3l-5.1 5.3l-5.5 -2.2z" fill="#743619"/>
<path d="M537.1 49.6l5.2 4.4l-5.5 2.8l-5.2 -4.4z" fill="#6d2e16"/>
<path d="M506.8 49.9l5.5 2.8l-5.3 4.7l-5.4 -2.8z" fill="#6e2e17"/>
<path d="M527 48.6l5.3 3.8l-5.4 3.5l-5.3 -3.9z" fill="#732f18"/>
<path d="M516.9 48.7l5.4 3.3l-5.4 4.1l-5.3 -3.3z" fill="#6c2b16"/>
<path d="M491.5 50.8l5.6 1.7l-5.2 5.3l-5.5 -1.6z" fill="#6b2f15"/>
<path d="M542.4 47.7l5.1 4.4l-5.5 2.2l-5.2 -4.5z" fill="#602611"/>
<path d="M501.7 47.9l5.5 2.3l-5.3 4.7l-5.5 -2.2z" fill="#682814"/>
<path d="M532.2 46l5.3 4l-5.5 2.8l-5.3 -3.9z" fill="#632312"/>
<path d="M511.8 46.1l5.5 2.9l-5.4 4.1l-5.4 -2.8z" fill="#702716"/>
<path d="M522 45.5l5.4 3.4l-5.5 3.5l-5.3 -3.4z" fill="#602011"/>
<path d="M486.2 49.8l5.7 1.2l-5.2 5.4l-5.6 -1.2z" fill="#642b12"/>
<path d="M547.6 46.4l5.2 4.5l-5.6 1.5l-5.2 -4.5z" fill="#58220d"/>
<path d="M496.4 46.4l5.6 1.7l-5.2 4.8l-5.6 -1.7z" fill="#632311"/>
<path d="M537.4 44.1l5.3 4l-5.6 2.2l-5.3 -4z" fill="#5b1d0e"/>
<path d="M506.7 44.1l5.5 2.3l-5.4 4.2l-5.5 -2.3z" fill="#5c1c10"/>
<path d="M527.2 43l5.3 3.4l-5.5 2.9l-5.3 -3.5z" fill="#651e11"/>
<path d="M516.9 43l5.5 2.8l-5.5 3.6l-5.4 -2.9z" fill="#5c1b0f"/>
<path d="M480.9 49.4l5.7 0.6l-5.1 5.5l-5.7 -0.6z" fill="#5c260f"/>
<path d="M553 45.7l5.1 4.6l-5.7 0.8l-5.1 -4.5z" fill="#4f1e0a"/>
<path d="M491.2 45.5l5.6 1.1l-5.2 4.9l-5.7 -1.2z" fill="#591d0d"/>
<path d="M542.7 42.8l5.3 4l-5.7 1.6l-5.2 -4z" fill="#50180a"/>
<path d="M501.5 42.6l5.5 1.8l-5.3 4.2l-5.6 -1.8z" fill="#56170d"/>
<path d="M532.4 41l5.4 3.5l-5.6 2.2l-5.4 -3.4z" fill="#56160c"/>
<path d="M511.8 41l5.5 2.3l-5.4 3.5l-5.6 -2.3z" fill="#51130b"/>
<path d="M522.1 40.4l5.4 2.9l-5.5 2.9l-5.4 -2.9z" fill="#57140c"/>
<path d="M475.5 49.6l5.7 0l-5.1 5.5l-5.7 -0.1z" fill="#55240b"/>
<path d="M558.4 45.7l5.1 4.6l-5.8 0.2l-5.1 -4.5z" fill="#4e1f09"/>
<path d="M485.8 45l5.7 0.7l-5.2 4.8l-5.7 -0.6z" fill="#501a0a"/>
<path d="M548.1 42.2l5.2 4l-5.7 0.9l-5.2 -4z" fill="#4b1608"/>
<path d="M496.2 41.7l5.6 1.2l-5.3 4.2l-5.7 -1.2z" fill="#52140a"/>
<path d="M537.7 39.8l5.3 3.4l-5.6 1.6l-5.3 -3.5z" fill="#4c1209"/>
<path d="M506.5 39.5l5.6 1.7l-5.4 3.6l-5.6 -1.8z" fill="#50100a"/>
<path d="M527.3 38.5l5.5 2.9l-5.6 2.3l-5.5 -2.9z" fill="#4b0e08"/>
<path d="M516.9 38.4l5.5 2.4l-5.5 2.9l-5.5 -2.4z" fill="#4c0d08"/>
<path d="M470 50.3l5.8 -0.6l-5 5.5l-5.8 0.5z" fill="#4c2208"/>
<path d="M563.8 46.4l5.1 4.5l-5.8 -0.4l-5.1 -4.6z" fill="#431c05"/>
<path d="M480.4 45.2l5.8 0.1l-5.2 4.8l-5.8 -0.1z" fill="#4c1908"/>
<path d="M553.5 42.2l5.2 4l-5.8 0.2l-5.2 -4z" fill="#411405"/>
<path d="M490.8 41.3l5.7 0.6l-5.3 4.3l-5.7 -0.7z" fill="#491208"/>
<path d="M543.1 39.1l5.3 3.5l-5.7 0.9l-5.3 -3.5z" fill="#410e05"/>
<path d="M501.2 38.5l5.7 1.2l-5.4 3.6l-5.7 -1.2z" fill="#490d07"/>
<path d="M532.6 37.2l5.4 2.9l-5.6 1.6l-5.4 -2.9z" fill="#440b06"/>
<path d="M511.7 36.9l5.6 1.8l-5.5 3l-5.6 -1.9z" fill="#450a06"/>
<path d="M522.2 36.5l5.5 2.4l-5.6 2.2l-5.5 -2.4z" fill="#400805"/>
<path d="M464.5 51.5l5.9 -1.1l-5.1 5.5l-5.8 1.1z" fill="#492307"/>
<path d="M569.3 47.7l5 4.6l-5.8 -1.2l-5 -4.5z" fill="#391b02"/>
<path d="M474.9 45.9l5.8 -0.5l-5.1 4.9l-5.8 0.5z" fill="#461906"/>
<path d="M558.9 42.9l5.2 4l-5.8 -0.5l-5.2 -4z" fill="#3a1303"/>
<path d="M485.4 41.4l5.7 0.1l-5.2 4.2l-5.8 0z" fill="#400f05"/>
<path d="M548.5 39.1l5.3 3.5l-5.8 0.3l-5.3 -3.5z" fill="#3f0e04"/>
<path d="M495.9 38.1l5.7 0.7l-5.4 3.6l-5.7 -0.7z" fill="#410a04"/>
<path d="M538 36.6l5.4 2.9l-5.7 1l-5.4 -3z" fill="#3a0803"/>
<path d="M458.9 53.4l6 -1.7l-5 5.4l-5.9 1.7z" fill="#402204"/>
<path d="M506.4 35.9l5.7 1.3l-5.5 3l-5.7 -1.3z" fill="#3c0604"/>
<path d="M574.9 49.8l5 4.5l-6 -1.9l-5 -4.5z" fill="#331c01"/>
<path d="M527.5 35.2l5.5 2.4l-5.7 1.6l-5.5 -2.4z" fill="#390603"/>
<path d="M516.9 35l5.6 1.8l-5.6 2.3l-5.5 -1.8z" fill="#3c0604"/>
<path d="M469.4 47.2l5.9 -1.1l-5.2 4.8l-5.8 1.1z" fill="#3c1703"/>
<path d="M564.5 44.2l5.1 4l-5.9 -1.1l-5.1 -4.1z" fill="#301200"/>
<path d="M479.9 42.1l5.8 -0.5l-5.2 4.3l-5.9 0.5z" fill="#380f02"/>
<path d="M554 39.8l5.2 3.5l-5.8 -0.4l-5.3 -3.5z" fill="#360d01"/>
<path d="M453.3 55.8l6 -2.3l-4.9 5.4l-6 2.3z" fill="#3b2502"/>
<path d="M580.5 52.5l4.9 4.4l-6 -2.5l-4.9 -4.5z" fill="#261800"/>
<path d="M490.4 38.3l5.8 0l-5.3 3.7l-5.8 -0.1z" fill="#370802"/>
<path d="M543.4 36.6l5.4 3l-5.8 0.2l-5.4 -3z" fill="#300701"/>
<path d="M501 35.6l5.7 0.6l-5.4 3l-5.8 -0.7z" fill="#370501"/>
<path d="M532.8 34.6l5.5 2.4l-5.7 0.9l-5.5 -2.4z" fill="#320401"/>
<path d="M511.6 34l5.7 1.3l-5.6 2.3l-5.6 -1.3z" fill="#370402"/>
<path d="M522.2 33.7l5.6 1.8l-5.6 1.7l-5.6 -1.9z" fill="#340301"/>
<path d="M463.8 49l5.9 -1.7l-5 4.9l-6 1.7z" fill="#351701"/>
<path d="M570.1 46.3l5 3.9l-6 -1.8l-5 -4z" fill="#281100"/>
<path d="M474.3 43.4l5.9 -1.1l-5.2 4.3l-5.9 1.1z" fill="#310e01"/>
<path d="M559.5 41.2l5.2 3.5l-5.9 -1.2l-5.2 -3.5z" fill="#280b00"/>
<path d="M586.2 56l4.8 4.3l-6.2 -3.3l-4.7 -4.4z" fill="#1e1600"/>
<path d="M447.6 58.8l6.1 -2.9l-4.9 5.4l-6 2.9z" fill="#352601"/>
<path d="M484.9 39l5.9 -0.5l-5.3 3.6l-5.9 0.5z" fill="#320901"/>
<path d="M548.9 37.3l5.3 3l-5.8 -0.5l-5.4 -3z" fill="#280600"/>
<path d="M495.6 35.7l5.8 0.1l-5.5 3l-5.8 -0.1z" fill="#310401"/>
<path d="M538.3 34.6l5.4 2.4l-5.8 0.3l-5.4 -2.5z" fill="#220200"/>
<path d="M575.7 49.1l4.9 3.9l-6.1 -2.7l-4.9 -3.9z" fill="#1e0f00"/>
<path d="M458.1 51.5l6.1 -2.3l-5.1 4.8l-6 2.3z" fill="#311901"/>
<path d="M506.2 33.7l5.8 0.6l-5.6 2.3l-5.7 -0.6z" fill="#2c0200"/>
<path d="M527.6 33.1l5.6 1.8l-5.8 1l-5.5 -1.9z" fill="#2d0200"/>
<path d="M516.9 32.8l5.7 1.2l-5.7 1.7l-5.6 -1.3z" fill="#2f0200"/>
<path d="M591.9 60.3l4.7 4.1l-6.3 -4.3l-4.6 -4.1z" fill="#1d1a00"/>
<path d="M441.9 62.4l6.1 -3.5l-4.7 5.4l-6.2 3.5z" fill="#2b2300"/>
<path d="M565.2 43.3l5 3.4l-6 -1.9l-5.1 -3.4z" fill="#1a0900"/>
<path d="M468.7 45.3l6 -1.7l-5.2 4.2l-5.9 1.7z" fill="#2b0f00"/>
<path d="M554.5 38.7l5.2 2.9l-5.9 -1.1l-5.3 -3z" fill="#1f0600"/>
<path d="M479.3 40.3l6 -1.1l-5.3 3.6l-5.9 1.1z" fill="#260700"/>
<path d="M581.5 52.7l4.7 3.7l-6.2 -3.6l-4.8 -3.7z" fill="#140d00"/>
<path d="M452.4 54.5l6.1 -2.9l-4.9 4.8l-6.1 2.9z" fill="#261800"/>
<path d="M543.8 35.3l5.4 2.4l-5.9 -0.4l-5.4 -2.4z" fill="#170200"/>
<path d="M490 36.5l5.9 -0.5l-5.4 2.9l-5.9 0.5z" fill="#230300"/>
<path d="M597.5 65.3l4.7 3.9l-6.2 -5.3l-4.7 -3.9z" fill="#191900"/>
<path d="M533.1 33.2l5.5 1.8l-5.8 0.3l-5.6 -1.9z" fill="#1a0100"/>
<path d="M500.8 33.8l5.8 0.1l-5.5 2.3l-5.8 -0.1z" fill="#270200"/>
<path d="M436 66.7l6.3 -4.2l-4.6 5.2l-6.3 4.3z" fill="#222100"/>
<path d="M522.3 32.2l5.6 1.3l-5.7 0.9l-5.6 -1.3z" fill="#220100"/>
<path d="M511.5 32.4l5.8 0.7l-5.7 1.6l-5.7 -0.7z" fill="#250100"/>
<path d="M570.9 46.2l4.9 3.3l-6.2 -2.8l-4.9 -3.3z" fill="#170900"/>
<path d="M463 47.8l6.1 -2.3l-5.1 4.2l-6.1 2.3z" fill="#240f00"/>
<path d="M587.1 57.1l4.8 3.4l-6.2 -4.6l-4.9 -3.4z" fill="#151000"/>
<path d="M560.2 40.9l5.1 2.8l-6.2 -2l-5 -2.8z" fill="#140400"/>
<path d="M473.7 42.2l6 -1.7l-5.2 3.6l-6 1.7z" fill="#1d0600"/>
<path d="M603.1 70.9l4.8 3.7l-6.1 -6l-4.8 -3.8z" fill="#171d00"/>
<path d="M446.6 58.3l6.3 -3.7l-4.9 4.7l-6.2 3.6z" fill="#1c1500"/>
<path d="M549.5 36.8l5.2 2.3l-6 -1.2l-5.3 -2.3z" fill="#150300"/>
<path d="M430.2 71.7l6.4 -5l-4.6 5l-6.3 5z" fill="#151900"/>
<path d="M484.4 37.8l6 -1.1l-5.3 3l-6 1.1z" fill="#1c0300"/>
<path d="M576.5 50l4.9 2.9l-6.2 -3.8l-4.9 -2.9z" fill="#100800"/>
<path d="M538.6 33.9l5.5 1.8l-6 -0.4l-5.4 -1.9z" fill="#110100"/>
<path d="M495.2 34.6l6 -0.5l-5.5 2.3l-5.9 0.5z" fill="#190100"/>
<path d="M457.2 51l6.3 -3.1l-5 4.1l-6.2 3z" fill="#1d0e00"/>
<path d="M527.8 32.3l5.6 1.2l-5.9 0.3l-5.6 -1.3z" fill="#160100"/>
<path d="M506.1 32.6l5.8 0.1l-5.6 1.6l-5.8 -0.1z" fill="#190100"/>
<path d="M516.9 31.8l5.7 0.7l-5.7 1l-5.7 -0.7z" fill="#160100"/>
<path d="M592.7 62l4.8 3.3l-6.1 -5.3l-4.9 -3.3z" fill="#1a1700"/>
<path d="M608.8 77.2l4.7 3.6l-6 -6.7l-4.8 -3.7z" fill="#182503"/>
<path d="M565.9 44.1l5 2.4l-6.2 -3.1l-5.1 -2.4z" fill="#130600"/>
<path d="M440.8 62.7l6.3 -4.4l-4.7 4.4l-6.3 4.4z" fill="#171400"/>
<path d="M467.9 44.8l6.2 -2.4l-5 3.5l-6.2 2.4z" fill="#190800"/>
<path d="M424.5 77.3l6.3 -5.8l-4.6 4.8l-6.3 5.8z" fill="#111a00"/>
<path d="M555.2 39.4l5.1 1.9l-6.3 -2.4l-5.1 -1.9z" fill="#140400"/>
<path d="M582.1 54.3l5 2.8l-6.2 -4.7l-5 -2.8z" fill="#150e00"/>
<path d="M478.7 39.8l6.2 -1.8l-5.2 2.9l-6.2 1.8z" fill="#180400"/>
<path d="M614.5 84.1l4.7 3.6l-6 -7.5l-4.8 -3.6z" fill="#1d3807"/>
<path d="M598.3 67.6l4.9 3.2l-6.1 -6l-4.9 -3.3z" fill="#212300"/>
<path d="M451.4 54.9l6.4 -3.9l-4.9 3.8l-6.3 3.9z" fill="#110a00"/>
<path d="M544.4 35.7l5.2 1.5l-6.2 -1.5l-5.2 -1.5z" fill="#100201"/>
<path d="M489.5 36l6.2 -1.1l-5.4 2.2l-6.1 1.1z" fill="#140200"/>
<path d="M533.5 33.2l5.3 1.1l-6.1 -0.6l-5.3 -1.1z" fill="#0f0101"/>
<path d="M500.4 33.5l6.1 -0.6l-5.5 1.6l-6 0.5z" fill="#100100"/>
<path d="M435 67.8l6.4 -5.3l-4.8 4.2l-6.3 5.3z" fill="#151500"/>
<path d="M571.4 47.7l5.1 2.3l-6.1 -4l-5.1 -2.2z" fill="#130802"/>
<path d="M522.4 32l5.7 0.6l-5.9 0.3l-5.6 -0.7z" fill="#140100"/>
<path d="M418.7 83.5l6.3 -6.6l-4.6 4.7l-6.3 6.5z" fill="#0c1900"/>
<path d="M511.4 32.1l5.9 0.1l-5.7 0.9l-5.8 -0.1z" fill="#120100"/>
<path d="M462.1 48.2l6.4 -3.3l-5 3.2l-6.3 3.2z" fill="#1c0b00"/>
<path d="M620.2 91.8l4.7 3.6l-6 -8.3l-4.8 -3.5z" fill="#123b02"/>
<path d="M587.7 59.2l5.1 2.7l-6.1 -5.3l-5.1 -2.8z" fill="#1f1800"/>
<path d="M604 74l4.9 3.1l-6.1 -6.8l-4.9 -3.2z" fill="#252f01"/>
<path d="M560.6 42.4l5.3 1.7l-6.1 -3.3l-5.3 -1.7z" fill="#190700"/>
<path d="M472.9 42.7l6.4 -2.8l-5.1 2.6l-6.3 2.7z" fill="#150500"/>
<path d="M445.7 59.3l6.3 -4.7l-4.9 3.7l-6.3 4.6z" fill="#100c00"/>
<path d="M549.8 38.2l5.4 1.1l-6.1 -2.5l-5.4 -1.2z" fill="#130604"/>
<path d="M412.9 90.2l6.3 -7.2l-4.6 4.6l-6.3 7.1z" fill="#071a01"/>
<path d="M429.3 73.3l6.3 -6l-4.8 4.2l-6.3 5.9z" fill="#161b00"/>
<path d="M625.9 100.3l4.7 3.4l-6 -8.9l-4.7 -3.6z" fill="#083a05"/>
<path d="M483.8 38.4l6.3 -2.2l-5.2 1.9l-6.3 2.1z" fill="#150300"/>
<path d="M577 52l5.2 2.2l-6.1 -4.7l-5.2 -2.2z" fill="#1f1100"/>
<path d="M538.9 35.2l5.5 0.6l-6 -1.9l-5.5 -0.6z" fill="#1a0c0b"/>
<path d="M494.8 35.4l6.1 -1.7l-5.3 1.1l-6.2 1.6z" fill="#120100"/>
<path d="M609.8 81l4.8 3.1l-6 -7.6l-4.9 -3.1z" fill="#263a02"/>
<path d="M456.5 52.1l6.3 -4.2l-5.1 3l-6.2 4.1z" fill="#120800"/>
<path d="M593.4 64.9l5.1 2.6l-6.1 -6.1l-5.1 -2.7z" fill="#2b2701"/>
<path d="M527.9 33.5l5.7 -0.1l-6 -1.1l-5.6 0z" fill="#160100"/>
<path d="M505.8 33.6l6 -1.2l-5.5 0.3l-6 1.1z" fill="#110100"/>
<path d="M516.9 32.9l5.8 -0.6l-5.8 -0.5l-5.8 0.6z" fill="#150100"/>
<path d="M631.7 109.4l4.6 3.4l-6 -9.7l-4.7 -3.4z" fill="#1d4c23"/>
<path d="M566.2 45.9l5.3 1.7l-6.1 -4l-5.3 -1.7z" fill="#1b0900"/>
<path d="M440 64.3l6.3 -5.4l-5 3.5l-6.2 5.4z" fill="#1b1800"/>
<path d="M407.1 97.5l6.3 -7.9l-4.7 4.5l-6.2 7.8z" fill="#092405"/>
<path d="M467.3 46l6.3 -3.6l-5.2 2.4l-6.2 3.5z" fill="#160700"/>
<path d="M423.5 79.5l6.3 -6.7l-4.8 4.1l-6.3 6.6z" fill="#152000"/>
<path d="M615.5 88.8l4.9 3l-6.1 -8.3l-4.9 -3.1z" fill="#1b3b03"/>
<path d="M582.7 57l5.2 2.1l-6.1 -5.4l-5.2 -2.2z" fill="#2c1d00"/>
<path d="M555.4 41.1l5.4 1.1l-6.1 -3.3l-5.4 -1.2z" fill="#1e0600"/>
<path d="M599.2 71.3l5 2.6l-6.1 -6.9l-5 -2.7z" fill="#333602"/>
<path d="M478.3 41.1l6.2 -3l-5.4 1.7l-6.2 2.9z" fill="#150300"/>
<path d="M450.8 56.5l6.2 -4.8l-5.1 2.8l-6.2 4.8z" fill="#120b00"/>
<path d="M544.4 37.4l5.6 0.6l-6 -2.6l-5.6 -0.6z" fill="#1a0200"/>
<path d="M401.2 105.4l6.3 -8.5l-4.6 4.4l-6.3 8.5z" fill="#1e3c1e"/>
<path d="M489.3 37.5l6.1 -2.4l-5.5 0.9l-6.1 2.4z" fill="#1a0200"/>
<path d="M533.4 35l5.7 -0.1l-5.9 -1.8l-5.7 0z" fill="#1a0100"/>
<path d="M571.9 50.2l5.3 1.7l-6.1 -4.8l-5.3 -1.7z" fill="#271200"/>
<path d="M434.2 69.9l6.2 -6.1l-4.9 3.5l-6.3 6z" fill="#222200"/>
<path d="M417.6 86.2l6.3 -7.3l-4.8 4l-6.2 7.2z" fill="#0f1f00"/>
<path d="M621.3 97.3l4.8 2.9l-6.1 -9l-4.8 -3z" fill="#103b04"/>
<path d="M500.3 35l6 -1.8l-5.6 0.2l-6 1.8z" fill="#170100"/>
<path d="M522.4 33.8l5.8 -0.7l-5.9 -1.1l-5.7 0.5z" fill="#1a0100"/>
<path d="M511.4 33.8l5.9 -1.3l-5.8 -0.4l-5.9 1.2z" fill="#190100"/>
<path d="M461.6 49.8l6.3 -4.2l-5.3 2.2l-6.2 4.2z" fill="#170900"/>
<path d="M588.5 62.7l5.1 2.1l-6.1 -6.2l-5.1 -2.2z" fill="#362b02"/>
<path d="M604.9 78.4l5 2.5l-6.1 -7.6l-5 -2.6z" fill="#344105"/>
<path d="M561 44.7l5.5 1.1l-6.1 -4.1l-5.4 -1.1z" fill="#2a0c00"/>
<path d="M627 106.5l4.8 2.8l-6 -9.7l-4.8 -2.9z" fill="#184a18"/>
<path d="M445 61.5l6.2 -5.5l-5.1 2.8l-6.2 5.5z" fill="#241b00"/>
<path d="M472.6 44.4l6.2 -3.7l-5.4 1.6l-6.2 3.6z" fill="#1a0600"/>
<path d="M411.8 93.6l6.2 -8l-4.8 3.9l-6.2 7.9z" fill="#0b2600"/>
<path d="M550.1 40.3l5.5 0.6l-6 -3.4l-5.6 -0.5z" fill="#240600"/>
<path d="M428.3 76.1l6.3 -6.7l-5 3.3l-6.2 6.7z" fill="#202600"/>
<path d="M577.7 55.3l5.2 1.5l-6.1 -5.5l-5.3 -1.6z" fill="#341f01"/>
<path d="M610.7 86.3l5 2.4l-6.1 -8.4l-5 -2.5z" fill="#273e05"/>
<path d="M483.6 40.1l6.1 -3.1l-5.5 0.9l-6.1 3.1z" fill="#1c0400"/>
<path d="M594.3 69.1l5.1 2.1l-6.1 -7l-5.2 -2.1z" fill="#3c3904"/>
<path d="M539 37.2l5.7 0l-6 -2.7l-5.6 0.1z" fill="#210200"/>
<path d="M494.7 37l6 -2.4l-5.6 0.2l-6 2.4z" fill="#1e0200"/>
<path d="M455.9 54.2l6.2 -4.9l-5.3 2.2l-6.2 4.9z" fill="#1b0f00"/>
<path d="M528 35.3l5.7 -0.6l-5.9 -1.9l-5.7 0.6z" fill="#250100"/>
<path d="M505.8 35.2l5.9 -1.8l-5.7 -0.5l-6 1.8z" fill="#1f0100"/>
<path d="M516.9 34.7l5.8 -1.3l-5.8 -1.2l-5.9 1.2z" fill="#250100"/>
<path d="M566.8 49l5.4 1.1l-6.1 -4.8l-5.4 -1.1z" fill="#311300"/>
<path d="M405.9 101.6l6.2 -8.6l-4.7 3.8l-6.3 8.5z" fill="#163d10"/>
<path d="M439.1 67.1l6.3 -6.2l-5.1 2.8l-6.2 6.1z" fill="#2d2700"/>
<path d="M616.5 94.8l4.9 2.4l-6 -9.1l-5 -2.4z" fill="#1c3f06"/>
<path d="M422.4 82.9l6.3 -7.4l-4.9 3.3l-6.3 7.3z" fill="#223202"/>
<path d="M466.8 48.2l6.2 -4.3l-5.3 1.5l-6.2 4.3z" fill="#210b00"/>
<path d="M583.4 61l5.3 1.6l-6.1 -6.3l-5.3 -1.6z" fill="#3d2c05"/>
<path d="M600 76.3l5.1 2l-6.1 -7.7l-5.1 -2z" fill="#3b4106"/>
<path d="M555.8 44l5.5 0.5l-6.1 -4.1l-5.5 -0.5z" fill="#310d01"/>
<path d="M477.9 43.3l6.1 -3.7l-5.5 0.9l-6.1 3.7z" fill="#210700"/>
<path d="M450 59.3l6.3 -5.6l-5.3 2.2l-6.2 5.4z" fill="#2a1c00"/>
<path d="M544.7 40.2l5.6 -0.1l-6 -3.4l-5.6 0.1z" fill="#330801"/>
<path d="M622.3 104.2l4.9 2.2l-6 -9.8l-5 -2.4z" fill="#17470e"/>
<path d="M572.5 54.1l5.4 1l-6.1 -5.5l-5.4 -1.1z" fill="#3c1f03"/>
<path d="M489 39.7l6.1 -3.1l-5.6 0.2l-6.1 3z" fill="#270400"/>
<path d="M416.5 90.3l6.3 -8l-4.9 3.3l-6.3 7.9z" fill="#1a3402"/>
<path d="M433.2 73.3l6.3 -6.8l-5.1 2.8l-6.2 6.7z" fill="#2e2f01"/>
<path d="M533.6 37.6l5.7 -0.7l-5.9 -2.6l-5.8 0.6z" fill="#2f0300"/>
<path d="M605.9 84.3l5 1.8l-6.1 -8.4l-5.1 -2z" fill="#344508"/>
<path d="M500.1 37.3l6.1 -2.5l-5.8 -0.5l-6 2.5z" fill="#280200"/>
<path d="M522.5 36.3l5.8 -1.3l-5.9 -1.9l-5.9 1.2z" fill="#2e0200"/>
<path d="M589.2 67.6l5.3 1.4l-6.2 -7l-5.2 -1.5z" fill="#403706"/>
<path d="M511.3 36.2l5.9 -1.9l-5.8 -1.2l-5.9 1.8z" fill="#2b0100"/>
<path d="M461 52.6l6.3 -4.9l-5.4 1.5l-6.2 4.9z" fill="#2d1500"/>
<path d="M561.5 48.4l5.5 0.4l-6.1 -4.8l-5.5 -0.5z" fill="#3b1603"/>
<path d="M444.2 64.9l6.2 -6.2l-5.2 2.1l-6.2 6.2z" fill="#372a01"/>
<path d="M472.1 47.2l6.2 -4.4l-5.5 0.9l-6.2 4.3z" fill="#2d0e00"/>
<path d="M410.6 98.4l6.3 -8.7l-4.9 3.2l-6.3 8.6z" fill="#183d09"/>
<path d="M611.7 92.9l5 1.8l-6.1 -9.1l-5 -1.9z" fill="#274509"/>
<path d="M578.3 60l5.4 0.9l-6.2 -6.3l-5.3 -1z" fill="#432c08"/>
<path d="M427.3 80.2l6.3 -7.4l-5.1 2.6l-6.2 7.4z" fill="#343e03"/>
<path d="M550.4 43.9l5.6 -0.1l-6 -4.1l-5.7 0z" fill="#3d0f03"/>
<path d="M595 74.8l5.3 1.4l-6.2 -7.7l-5.2 -1.5z" fill="#444308"/>
<path d="M483.3 43l6.1 -3.8l-5.6 0.2l-6.2 3.7z" fill="#300901"/>
<path d="M539.3 40.6l5.7 -0.7l-6 -3.4l-5.8 0.7z" fill="#370802"/>
<path d="M455.2 57.7l6.2 -5.6l-5.3 1.5l-6.3 5.5z" fill="#361f01"/>
<path d="M494.4 40l6.1 -3.1l-5.7 -0.5l-6.1 3z" fill="#320501"/>
<path d="M528.1 38.6l5.8 -1.3l-6 -2.7l-5.8 1.3z" fill="#380502"/>
<path d="M617.5 102.4l5 1.7l-6.1 -10l-5 -1.8z" fill="#204c0f"/>
<path d="M567.3 53.5l5.5 0.4l-6.2 -5.6l-5.5 -0.4z" fill="#472207"/>
<path d="M505.7 38.3l6 -2.5l-5.9 -1.3l-6 2.5z" fill="#320301"/>
<path d="M516.9 37.8l5.9 -1.9l-5.9 -1.9l-5.9 1.8z" fill="#360402"/>
<path d="M438.3 71.2l6.2 -6.8l-5.2 2l-6.2 6.8z" fill="#3c3703"/>
<path d="M421.4 87.7l6.3 -8.1l-5.1 2.6l-6.2 8z" fill="#2c4205"/>
<path d="M600.9 82.8l5.2 1.3l-6.2 -8.5l-5.2 -1.4z" fill="#404b0b"/>
<path d="M584.1 66.5l5.4 0.9l-6.2 -7.1l-5.3 -0.9z" fill="#4a3a0a"/>
<path d="M466.3 51.7l6.2 -5l-5.5 0.8l-6.2 4.9z" fill="#351501"/>
<path d="M556.2 48.4l5.6 -0.2l-6.1 -4.9l-5.7 0.1z" fill="#431706"/>
<path d="M477.5 46.9l6.1 -4.4l-5.6 0.1l-6.1 4.4z" fill="#350f02"/>
<path d="M545 44.4l5.7 -0.8l-6.1 -4.1l-5.7 0.7z" fill="#410f05"/>
<path d="M449.3 63.4l6.2 -6.2l-5.3 1.4l-6.2 6.2z" fill="#412e04"/>
<path d="M573.1 59.4l5.5 0.4l-6.2 -6.4l-5.5 -0.4z" fill="#4f310b"/>
<path d="M606.7 91.6l5.2 1.2l-6.1 -9.2l-5.2 -1.4z" fill="#344e0c"/>
<path d="M415.4 95.9l6.3 -8.8l-5 2.5l-6.3 8.7z" fill="#24420c"/>
<path d="M488.7 43.3l6.1 -3.7l-5.7 -0.6l-6.1 3.7z" fill="#390a03"/>
<path d="M432.3 78.2l6.3 -7.6l-5.2 2l-6.3 7.5z" fill="#3b3e05"/>
<path d="M590 73.9l5.3 0.8l-6.2 -7.8l-5.3 -0.9z" fill="#4a440b"/>
<path d="M533.8 41.7l5.8 -1.4l-6 -3.4l-5.9 1.3z" fill="#440b05"/>
<path d="M499.9 41l6.1 -3.1l-5.8 -1.3l-6.1 3.1z" fill="#390602"/>
<path d="M522.5 40.2l5.9 -1.9l-6 -2.7l-5.9 1.8z" fill="#3d0704"/>
<path d="M511.2 40l6 -2.5l-5.9 -2l-6 2.5z" fill="#3c0603"/>
<path d="M460.4 56.8l6.3 -5.6l-5.5 0.7l-6.3 5.6z" fill="#412104"/>
<path d="M562 53.6l5.5 -0.3l-6.1 -5.6l-5.6 0.2z" fill="#51260c"/>
<path d="M612.6 101.1l5.1 1.2l-6.1 -10.1l-5.2 -1.2z" fill="#2c5512"/>
<path d="M443.4 69.8l6.2 -6.9l-5.3 1.3l-6.3 6.9z" fill="#433806"/>
<path d="M578.9 66.1l5.5 0.3l-6.2 -7.1l-5.5 -0.4z" fill="#513b0d"/>
<path d="M595.8 82l5.3 0.7l-6.1 -8.6l-5.3 -0.8z" fill="#4f540f"/>
<path d="M471.6 51.4l6.2 -5l-5.6 0.1l-6.2 5z" fill="#431905"/>
<path d="M426.3 85.7l6.3 -8.1l-5.1 1.9l-6.3 8.1z" fill="#354307"/>
<path d="M550.7 48.9l5.8 -0.8l-6.2 -4.9l-5.7 0.7z" fill="#4b1908"/>
<path d="M482.9 47.3l6.2 -4.4l-5.8 -0.6l-6.1 4.4z" fill="#401105"/>
<path d="M539.5 45.5l5.8 -1.4l-6.1 -4.2l-5.8 1.3z" fill="#4d1309"/>
<path d="M454.5 62.6l6.3 -6.3l-5.5 0.7l-6.3 6.2z" fill="#4a3009"/>
<path d="M567.8 59.5l5.6 -0.2l-6.2 -6.5l-5.6 0.2z" fill="#58330f"/>
<path d="M494.2 44.4l6.1 -3.8l-5.8 -1.3l-6.1 3.8z" fill="#440d06"/>
<path d="M528.2 43.3l5.9 -1.9l-6 -3.5l-6 1.9z" fill="#450c07"/>
<path d="M601.7 90.8l5.3 0.7l-6.2 -9.4l-5.3 -0.7z" fill="#3f5310"/>
<path d="M505.5 42.8l6.1 -3.2l-5.9 -2l-6.1 3.1z" fill="#440a06"/>
<path d="M516.8 42.4l6 -2.5l-5.9 -2.8l-6 2.5z" fill="#460b07"/>
<path d="M584.8 73.5l5.4 0.2l-6.2 -7.9l-5.4 -0.2z" fill="#52470f"/>
<path d="M437.4 76.8l6.3 -7.6l-5.3 1.3l-6.3 7.5z" fill="#454208"/>
<path d="M420.4 94l6.3 -8.8l-5.2 1.8l-6.3 8.8z" fill="#2d460a"/>
<path d="M465.7 56.6l6.3 -5.7l-5.6 0.1l-6.3 5.6z" fill="#4b2408"/>
<path d="M556.6 54.2l5.6 -0.9l-6.1 -5.6l-5.7 0.7z" fill="#5a280f"/>
<path d="M607.6 100.4l5.2 0.6l-6.1 -10.1l-5.3 -0.7z" fill="#365a17"/>
<path d="M477 51.9l6.2 -5.1l-5.7 -0.6l-6.2 5z" fill="#4e1d09"/>
<path d="M573.6 66.3l5.6 -0.4l-6.2 -7.2l-5.5 0.3z" fill="#593e11"/>
<path d="M545.3 50.1l5.8 -1.4l-6.2 -5l-5.8 1.3z" fill="#551c0c"/>
<path d="M448.5 69l6.3 -6.9l-5.4 0.6l-6.3 6.9z" fill="#4a390b"/>
<path d="M590.7 81.7l5.4 0.1l-6.2 -8.6l-5.4 -0.2z" fill="#555511"/>
<path d="M431.4 84.5l6.3 -8.3l-5.3 1.3l-6.3 8.1z" fill="#424a0a"/>
<path d="M488.4 48.5l6.1 -4.5l-5.8 -1.4l-6.1 4.5z" fill="#4d1509"/>
<path d="M533.9 47.2l5.9 -2l-6.1 -4.2l-5.9 1.9z" fill="#4e140a"/>
<path d="M499.7 46.2l6.2 -3.8l-5.9 -2.1l-6.1 3.8z" fill="#4a1008"/>
<path d="M522.5 45.6l6 -2.6l-6 -3.5l-6 2.6z" fill="#50110a"/>
<path d="M511.1 45.3l6.1 -3.2l-6 -2.8l-6 3.2z" fill="#4c0f09"/>
<path d="M562.4 60.2l5.7 -0.9l-6.2 -6.4l-5.7 0.8z" fill="#633814"/>
<path d="M459.8 62.5l6.3 -6.4l-5.6 0l-6.3 6.3z" fill="#52330d"/>
<path d="M596.6 90.6l5.3 0.1l-6.1 -9.4l-5.4 -0.2z" fill="#4b5c13"/>
<path d="M579.5 73.8l5.5 -0.4l-6.1 -8l-5.6 0.3z" fill="#5c4c13"/>
<path d="M442.5 76.1l6.4 -7.6l-5.4 0.6l-6.3 7.6z" fill="#52490d"/>
<path d="M425.4 92.8l6.3 -8.9l-5.2 1.2l-6.4 8.8z" fill="#3a4f0e"/>
<path d="M551.1 55.4l5.8 -1.4l-6.2 -5.8l-5.8 1.4z" fill="#622c13"/>
<path d="M471.1 57.2l6.3 -5.8l-5.7 -0.6l-6.3 5.6z" fill="#51260c"/>
<path d="M539.7 51.9l5.9 -2.1l-6.1 -5l-5.9 2z" fill="#5a1f0e"/>
<path d="M482.5 53.1l6.2 -5.1l-5.8 -1.4l-6.2 5.1z" fill="#541e0b"/>
<path d="M602.5 100.4l5.3 -0.1l-6.2 -10.2l-5.3 0z" fill="#486722"/>
<path d="M568.3 67l5.6 -0.9l-6.2 -7.3l-5.6 0.9z" fill="#654415"/>
<path d="M453.8 69l6.3 -7l-5.5 -0.1l-6.3 7z" fill="#574010"/>
<path d="M528.3 49.6l6 -2.7l-6.1 -4.3l-6 2.6z" fill="#5e1b0f"/>
<path d="M585.4 82l5.5 -0.4l-6.2 -8.8l-5.5 0.4z" fill="#605d15"/>
<path d="M493.9 50.3l6.2 -4.5l-5.9 -2.1l-6.2 4.5z" fill="#571a0d"/>
<path d="M516.8 48.6l6.1 -3.3l-6 -3.6l-6.1 3.2z" fill="#5c190f"/>
<path d="M505.4 48.8l6.1 -3.9l-6 -2.8l-6.1 3.8z" fill="#58180e"/>
<path d="M436.5 83.9l6.4 -8.3l-5.4 0.5l-6.3 8.2z" fill="#50530f"/>
<path d="M556.9 61.5l5.8 -1.5l-6.2 -6.5l-5.8 1.4z" fill="#6e3e19"/>
<path d="M465.2 63.1l6.3 -6.4l-5.7 -0.7l-6.3 6.3z" fill="#5c3712"/>
<path d="M574.2 74.6l5.6 -1l-6.2 -8l-5.6 0.9z" fill="#675317"/>
<path d="M591.4 91.1l5.4 -0.6l-6.2 -9.5l-5.5 0.5z" fill="#566416"/>
<path d="M545.5 57.3l5.9 -2.1l-6.2 -5.8l-5.8 2z" fill="#6c3217"/>
<path d="M476.6 58.5l6.2 -5.8l-5.7 -1.5l-6.3 5.8z" fill="#622f12"/>
<path d="M447.8 76.2l6.3 -7.7l-5.5 -0.2l-6.3 7.7z" fill="#594b11"/>
<path d="M430.5 92.3l6.3 -9l-5.3 0.5l-6.4 8.9z" fill="#495a12"/>
<path d="M534.1 54.3l5.9 -2.7l-6.1 -5.1l-6 2.7z" fill="#642512"/>
<path d="M488 55.1l6.3 -5.2l-5.9 -2.1l-6.2 5.1z" fill="#5e2510"/>
<path d="M522.6 52.6l6 -3.3l-6.1 -4.4l-6 3.3z" fill="#642213"/>
<path d="M499.5 53l6.2 -4.6l-5.9 -2.9l-6.2 4.5z" fill="#642212"/>
<path d="M562.8 68.4l5.8 -1.6l-6.2 -7.3l-5.8 1.5z" fill="#6f4b1a"/>
<path d="M511.1 52.1l6.1 -3.9l-6.1 -3.6l-6.1 3.9z" fill="#6d2415"/>
<path d="M597.3 100.9l5.4 -0.7l-6.2 -10.3l-5.4 0.6z" fill="#4c6b20"/>
<path d="M459.2 69.7l6.3 -7.1l-5.6 -0.8l-6.4 7z" fill="#604314"/>
<path d="M580.1 83l5.6 -1.1l-6.2 -8.8l-5.6 1z" fill="#6d671a"/>
<path d="M441.8 84l6.3 -8.4l-5.5 -0.2l-6.3 8.3z" fill="#5d5c14"/>
<path d="M551.4 63.5l5.8 -2.2l-6.2 -6.6l-5.8 2.1z" fill="#70411c"/>
<path d="M470.6 64.5l6.3 -6.5l-5.7 -1.5l-6.3 6.4z" fill="#6f4218"/>
<path d="M539.9 59.8l6 -2.8l-6.2 -5.8l-6 2.6z" fill="#73381b"/>
<path d="M568.8 76.1l5.7 -1.7l-6.3 -8.1l-5.7 1.6z" fill="#70591b"/>
<path d="M482.1 60.5l6.3 -5.9l-5.9 -2.2l-6.2 5.8z" fill="#6d3617"/>
<path d="M586.1 92.1l5.5 -1.2l-6.2 -9.6l-5.6 1.1z" fill="#5e6919"/>
<path d="M453.1 76.9l6.4 -7.7l-5.6 -0.9l-6.4 7.7z" fill="#655316"/>
<path d="M528.4 57.4l6 -3.4l-6.1 -5.1l-6.1 3.3z" fill="#763319"/>
<path d="M493.6 57.8l6.3 -5.2l-6 -3l-6.2 5.2z" fill="#6c2e15"/>
<path d="M516.8 56.2l6.1 -4l-6.1 -4.3l-6.1 3.9z" fill="#742e18"/>
<path d="M435.7 92.5l6.4 -9l-5.5 -0.3l-6.4 9z" fill="#556317"/>
<path d="M505.2 56.4l6.2 -4.6l-6 -3.7l-6.2 4.5z" fill="#6f2c17"/>
<path d="M557.3 70.4l5.8 -2.2l-6.2 -7.4l-5.8 2.2z" fill="#75501d"/>
<path d="M464.6 71.1l6.3 -7.1l-5.7 -1.6l-6.3 7.1z" fill="#6d4c1a"/>
<path d="M592 102l5.5 -1.3l-6.2 -10.3l-5.5 1.1z" fill="#506f1c"/>
<path d="M574.7 84.5l5.7 -1.7l-6.3 -8.9l-5.7 1.6z" fill="#746c1d"/>
<path d="M545.8 66l5.9 -2.8l-6.2 -6.6l-5.9 2.7z" fill="#79471f"/>
<path d="M447.1 84.9l6.4 -8.5l-5.6 -0.9l-6.4 8.3z" fill="#615c16"/>
<path d="M476.1 66.6l6.4 -6.6l-5.9 -2.2l-6.3 6.4z" fill="#7d4c1e"/>
<path d="M534.2 62.9l6 -3.4l-6.1 -5.9l-6.1 3.3z" fill="#773e1d"/>
<path d="M487.7 63.3l6.3 -5.9l-5.9 -3l-6.3 5.8z" fill="#7c421e"/>
<path d="M563.2 78.2l5.8 -2.3l-6.2 -8.2l-5.8 2.2z" fill="#755e1e"/>
<path d="M522.6 61.1l6.1 -4.1l-6.1 -5.1l-6.1 3.9z" fill="#76381a"/>
<path d="M580.7 93.7l5.6 -1.8l-6.2 -9.6l-5.7 1.7z" fill="#69741e"/>
<path d="M499.3 61.2l6.3 -5.2l-6 -3.7l-6.3 5.2z" fill="#79391b"/>
<path d="M511 60.5l6.2 -4.6l-6.1 -4.5l-6.2 4.6z" fill="#74351a"/>
<path d="M458.6 78.5l6.3 -7.9l-5.7 -1.6l-6.3 7.8z" fill="#715c1b"/>
<path d="M441 93.4l6.4 -9.1l-5.6 -1l-6.4 9.1z" fill="#616c1d"/>
<path d="M551.7 73.1l5.9 -2.9l-6.2 -7.4l-5.9 2.8z" fill="#7d5821"/>
<path d="M470.1 73.3l6.4 -7.2l-5.9 -2.3l-6.3 7.1z" fill="#76541e"/>
<path d="M586.6 103.7l5.7 -1.9l-6.3 -10.4l-5.6 1.8z" fill="#5a7920"/>
<path d="M569.2 86.7l5.8 -2.4l-6.3 -8.9l-5.8 2.3z" fill="#78701f"/>
<path d="M540.1 69.3l6 -3.5l-6.2 -6.7l-6 3.4z" fill="#7f4f23"/>
<path d="M481.7 69.4l6.4 -6.6l-6 -3l-6.3 6.5z" fill="#835323"/>
<path d="M452.5 86.5l6.4 -8.6l-5.7 -1.7l-6.4 8.5z" fill="#716b1c"/>
<path d="M528.5 66.7l6.1 -4.1l-6.2 -5.9l-6.1 4z" fill="#804821"/>
<path d="M493.4 66.8l6.3 -6l-6 -3.7l-6.3 5.9z" fill="#874e24"/>
<path d="M516.8 65.4l6.1 -4.7l-6.1 -5.2l-6.2 4.6z" fill="#80441f"/>
<path d="M505.1 65.5l6.2 -5.4l-6.1 -4.4l-6.2 5.2z" fill="#79411d"/>
<path d="M557.7 80.9l5.8 -2.9l-6.2 -8.3l-5.9 2.9z" fill="#7c6622"/>
<path d="M575.2 96l5.7 -2.4l-6.2 -9.8l-5.8 2.4z" fill="#6d7921"/>
<path d="M464.1 80.7l6.4 -7.9l-5.9 -2.4l-6.3 7.8z" fill="#79631f"/>
<path d="M546 76.4l6 -3.6l-6.2 -7.5l-6 3.5z" fill="#825f24"/>
<path d="M446.4 95.1l6.4 -9.2l-5.7 -1.7l-6.4 9.1z" fill="#6d7720"/>
<path d="M475.7 76.2l6.4 -7.3l-5.9 -3l-6.4 7.2z" fill="#825f23"/>
<path d="M534.3 73.1l6.1 -4.1l-6.2 -6.8l-6.1 4.1z" fill="#865a27"/>
<path d="M563.6 89.5l5.9 -3l-6.3 -9l-5.9 2.9z" fill="#7e7823"/>
<path d="M581.2 106.1l5.7 -2.5l-6.3 -10.6l-5.7 2.5z" fill="#5d7d23"/>
<path d="M487.4 73l6.3 -6.6l-6 -3.8l-6.3 6.5z" fill="#8a5d27"/>
<path d="M522.6 71.2l6.2 -4.8l-6.2 -6l-6.2 4.7z" fill="#845123"/>
<path d="M499.1 71.1l6.3 -6l-6.1 -4.6l-6.2 6z" fill="#8d5928"/>
<path d="M510.9 70.5l6.2 -5.4l-6.1 -5.3l-6.3 5.3z" fill="#875324"/>
<path d="M458 88.8l6.4 -8.6l-5.8 -2.4l-6.4 8.5z" fill="#7b7521"/>
<path d="M552 84.3l6 -3.6l-6.3 -8.3l-6 3.5z" fill="#836f25"/>
<path d="M569.6 98.9l5.9 -3.1l-6.3 -9.8l-5.9 3z" fill="#707e23"/>
<path d="M469.6 83.7l6.4 -8l-5.9 -3.1l-6.4 7.9z" fill="#857025"/>
<path d="M540.3 80.3l6.1 -4.2l-6.3 -7.5l-6.1 4.1z" fill="#886928"/>
<path d="M481.4 79.9l6.3 -7.3l-5.9 -3.9l-6.4 7.3z" fill="#846526"/>
<path d="M451.8 97.6l6.5 -9.3l-5.8 -2.5l-6.4 9.1z" fill="#727d25"/>
<path d="M528.5 77.7l6.2 -4.9l-6.3 -6.8l-6.1 4.8z" fill="#91692b"/>
<path d="M493.1 77.4l6.4 -6.7l-6.1 -4.6l-6.3 6.6z" fill="#8d662a"/>
<path d="M558 93l5.9 -3.7l-6.3 -9.1l-5.9 3.6z" fill="#878428"/>
<path d="M516.7 76.3l6.3 -5.5l-6.2 -6.1l-6.3 5.4z" fill="#8b6029"/>
<path d="M504.9 76.2l6.3 -6.1l-6.1 -5.3l-6.3 6z" fill="#996b2e"/>
<path d="M575.7 109.1l5.8 -3.2l-6.3 -10.6l-5.9 3.1z" fill="#618427"/>
<path d="M463.5 91.9l6.5 -8.7l-5.9 -3.2l-6.4 8.6z" fill="#847f25"/>
<path d="M546.3 88.4l6 -4.3l-6.3 -8.4l-6.1 4.2z" fill="#8a7b2a"/>
<path d="M475.3 87.5l6.4 -8l-6 -4l-6.4 8z" fill="#897828"/>
<path d="M564 102.5l5.9 -3.8l-6.3 -9.9l-5.9 3.7z" fill="#758828"/>
<path d="M534.5 85l6.1 -4.9l-6.3 -7.7l-6.1 4.8z" fill="#90772c"/>
<path d="M487.1 84.4l6.4 -7.4l-6.1 -4.7l-6.4 7.3z" fill="#8e742b"/>
<path d="M522.6 82.9l6.3 -5.5l-6.3 -6.9l-6.2 5.4z" fill="#93732e"/>
<path d="M498.9 82.6l6.4 -6.8l-6.2 -5.4l-6.3 6.7z" fill="#97762f"/>
<path d="M510.8 82.1l6.3 -6.2l-6.2 -6.1l-6.3 6z" fill="#97742f"/>
<path d="M457.4 100.7l6.5 -9.3l-5.9 -3.3l-6.5 9.3z" fill="#77852a"/>
<path d="M552.3 97.1l6 -4.3l-6.3 -9.2l-6.1 4.3z" fill="#8b8d2c"/>
<path d="M570 112.8l6 -3.9l-6.4 -10.7l-5.9 3.8z" fill="#648d2c"/>
<path d="M469.2 95.8l6.4 -8.8l-5.9 -4l-6.5 8.7z" fill="#8a8a2a"/>
<path d="M540.5 93.1l6.1 -5l-6.3 -8.5l-6.2 4.9z" fill="#8f852d"/>
<path d="M481 92.1l6.4 -8.1l-6 -4.8l-6.4 8z" fill="#92872d"/>
<path d="M528.6 90.3l6.2 -5.6l-6.3 -7.7l-6.2 5.5z" fill="#94822f"/>
<path d="M558.3 106.7l6 -4.4l-6.3 -10l-6.1 4.4z" fill="#758c2b"/>
<path d="M492.9 89.7l6.4 -7.5l-6.1 -5.5l-6.4 7.4z" fill="#9a8831"/>
<path d="M516.7 88.8l6.3 -6.3l-6.3 -6.9l-6.3 6.1z" fill="#978130"/>
<path d="M504.8 88.6l6.3 -6.9l-6.2 -6.2l-6.3 6.8z" fill="#998331"/>
<path d="M463 104.7l6.5 -9.4l-5.9 -4.1l-6.5 9.3z" fill="#7e912d"/>
<path d="M546.5 102l6.1 -5.1l-6.4 -9.2l-6.1 4.9z" fill="#8a952f"/>
<path d="M564.4 117.1l5.9 -4.5l-6.3 -10.8l-6 4.4z" fill="#5f8e2e"/>
<path d="M474.9 100.4l6.5 -8.8l-6.1 -4.8l-6.4 8.7z" fill="#878e2d"/>
<path d="M534.6 98.4l6.2 -5.6l-6.3 -8.5l-6.2 5.5z" fill="#939230"/>
<path d="M486.8 97.4l6.4 -8.2l-6.1 -5.5l-6.4 8.1z" fill="#9a9832"/>
<path d="M522.7 96.2l6.2 -6.2l-6.3 -7.8l-6.2 6.2z" fill="#979031"/>
<path d="M498.7 95.7l6.4 -7.5l-6.2 -6.3l-6.4 7.4z" fill="#9b9332"/>
<path d="M510.7 95.3l6.4 -6.9l-6.3 -7l-6.4 6.8z" fill="#9a9133"/>
<path d="M552.5 111.6l6.1 -5.1l-6.3 -10.1l-6.2 5.1z" fill="#72922f"/>
<path d="M468.7 109.5l6.5 -9.5l-6 -4.9l-6.5 9.4z" fill="#799332"/>
<path d="M540.6 107.4l6.2 -5.7l-6.4 -9.3l-6.2 5.6z" fill="#859a32"/>
<path d="M558.6 122.1l6.1 -5.2l-6.4 -10.9l-6.1 5.1z" fill="#5c9430"/>
<path d="M480.7 105.9l6.4 -8.9l-6.1 -5.6l-6.4 8.8z" fill="#859531"/>
<path d="M528.7 104.5l6.2 -6.3l-6.3 -8.6l-6.3 6.2z" fill="#8d9832"/>
<path d="M492.6 103.6l6.5 -8.3l-6.2 -6.3l-6.4 8.1z" fill="#909a33"/>
<path d="M516.7 102.9l6.3 -7l-6.3 -7.8l-6.3 6.8z" fill="#929833"/>
<path d="M504.7 102.6l6.4 -7.6l-6.3 -7.1l-6.4 7.5z" fill="#979d35"/>
<path d="M546.7 117.2l6.1 -5.8l-6.3 -10.1l-6.2 5.7z" fill="#6c9631"/>
<path d="M534.7 113.6l6.3 -6.4l-6.4 -9.5l-6.3 6.4z" fill="#7a9a34"/>
<path d="M474.5 115l6.5 -9.6l-6.1 -5.7l-6.5 9.5z" fill="#759936"/>
<path d="M522.7 111.3l6.3 -7.1l-6.3 -8.7l-6.4 7z" fill="#809833"/>
<path d="M486.5 112.1l6.5 -8.9l-6.2 -6.5l-6.5 8.9z" fill="#7a9532"/>
<path d="M552.8 127.8l6.1 -5.9l-6.4 -11l-6.2 5.8z" fill="#579934"/>
<path d="M510.6 110.2l6.4 -7.6l-6.3 -8l-6.4 7.6z" fill="#849a34"/>
<path d="M498.6 110.5l6.4 -8.3l-6.2 -7.2l-6.5 8.2z" fill="#859c34"/>
<path d="M540.8 123.5l6.2 -6.5l-6.4 -10.3l-6.2 6.4z" fill="#609532"/>
<path d="M528.7 120.4l6.3 -7.1l-6.3 -9.5l-6.4 7z" fill="#6c9b35"/>
<path d="M480.3 121.3l6.6 -9.6l-6.2 -6.5l-6.5 9.5z" fill="#6b9c35"/>
<path d="M516.6 118.7l6.4 -7.8l-6.3 -8.7l-6.4 7.7z" fill="#729a34"/>
<path d="M492.4 119.1l6.5 -9l-6.2 -7.2l-6.5 8.9z" fill="#6f9934"/>
<path d="M504.5 118.3l6.5 -8.4l-6.3 -8l-6.5 8.3z" fill="#739a35"/>
<path d="M546.9 134.2l6.2 -6.6l-6.4 -11.1l-6.3 6.5z" fill="#4c9a35"/>
<path d="M534.8 130.4l6.3 -7.2l-6.4 -10.3l-6.3 7.1z" fill="#559834"/>
<path d="M522.7 128l6.4 -7.9l-6.4 -9.5l-6.4 7.7z" fill="#5e9a35"/>
<path d="M486.2 128.5l6.6 -9.8l-6.3 -7.3l-6.5 9.6z" fill="#5e9d36"/>
<path d="M510.5 126.8l6.5 -8.4l-6.4 -8.9l-6.4 8.4z" fill="#639c36"/>
<path d="M498.4 127l6.5 -9.1l-6.3 -8.1l-6.5 9z" fill="#5f9934"/>
<path d="M540.9 141.2l6.3 -7.3l-6.4 -11.1l-6.4 7.2z" fill="#3f9b36"/>
<path d="M528.8 138l6.3 -7.9l-6.4 -10.4l-6.4 7.8z" fill="#479835"/>
<path d="M516.6 136.2l6.4 -8.6l-6.4 -9.6l-6.4 8.4z" fill="#51a138"/>
<path d="M492.2 136.4l6.5 -9.8l-6.3 -8.2l-6.5 9.8z" fill="#509e39"/>
<path d="M504.4 135.6l6.5 -9.1l-6.4 -8.9l-6.5 9z" fill="#4f9b36"/>
<path d="M534.9 148.9l6.3 -8l-6.4 -11.2l-6.4 7.9z" fill="#399d40"/>
<path d="M522.7 146.4l6.4 -8.7l-6.4 -10.4l-6.5 8.5z" fill="#3c9c3b"/>
<path d="M510.4 145.1l6.5 -9.2l-6.4 -9.8l-6.5 9.2z" fill="#3d9c39"/>
<path d="M498.2 145.2l6.5 -9.9l-6.3 -9l-6.6 9.8z" fill="#3f9e3a"/>
<path d="M528.8 157.3l6.4 -8.7l-6.4 -11.3l-6.5 8.6z" fill="#39a052"/>
<path d="M516.5 155.4l6.5 -9.4l-6.4 -10.5l-6.5 9.2z" fill="#389c4b"/>
<path d="M504.2 154.7l6.6 -9.9l-6.4 -9.9l-6.6 9.9z" fill="#3aa04b"/>
<path d="M522.7 166.4l6.4 -9.4l-6.4 -11.3l-6.5 9.3z" fill="#3a9e68"/>
<path d="M510.3 165.1l6.6 -10.1l-6.5 -10.6l-6.5 9.9z" fill="#3a9e63"/>
<path d="M516.5 176.2l6.5 -10.1l-6.5 -11.4l-6.5 10z" fill="#3da080"/>
<path d="M354.9 323.5l5.3 5.8l-5.3 2.4l-5.3 -5.5z" fill="#7a401c"/>
<path d="M359.9 321.7l5.3 5.9l-5.4 1.9l-5.2 -5.8z" fill="#7c3d1c"/>
<path d="M349.9 319l5.3 4.9l-5.3 2.7l-5.3 -4.7z" fill="#753519"/>
<path d="M365 320.4l5.3 6.1l-5.4 1.3l-5.3 -5.9z" fill="#763619"/>
<path d="M354.9 317l5.4 5.1l-5.4 2.1l-5.4 -4.9z" fill="#702e17"/>
<path d="M344.8 315.3l5.4 4.1l-5.3 2.9l-5.4 -3.8z" fill="#692914"/>
<path d="M370.2 319.6l5.2 6.4l-5.5 0.7l-5.2 -6.1z" fill="#703116"/>
<path d="M360 315.5l5.3 5.3l-5.4 1.6l-5.3 -5.2z" fill="#5e2211"/>
<path d="M349.8 313.1l5.5 4.3l-5.4 2.3l-5.5 -4.1z" fill="#682413"/>
<path d="M339.6 312.5l5.5 3.2l-5.3 3.1l-5.5 -3z" fill="#5e200f"/>
<path d="M375.4 319.5l5.2 6.6l-5.5 0.1l-5.2 -6.4z" fill="#682d13"/>
<path d="M365.2 314.5l5.3 5.6l-5.5 1l-5.3 -5.4z" fill="#642311"/>
<path d="M354.9 311.4l5.4 4.5l-5.4 1.8l-5.4 -4.3z" fill="#5c1c0f"/>
<path d="M344.6 310l5.6 3.5l-5.4 2.5l-5.5 -3.2z" fill="#57190d"/>
<path d="M334.3 310.5l5.7 2.3l-5.3 3.4l-5.6 -2.1z" fill="#581b0c"/>
<path d="M380.7 319.9l5.1 6.8l-5.6 -0.4l-5.1 -6.7z" fill="#622c10"/>
<path d="M370.4 314.2l5.3 5.8l-5.5 0.3l-5.3 -5.6z" fill="#571d0d"/>
<path d="M360.1 310.3l5.4 4.7l-5.5 1.2l-5.4 -4.6z" fill="#57170d"/>
<path d="M349.8 308.2l5.5 3.6l-5.5 2l-5.5 -3.5z" fill="#51130b"/>
<path d="M386 321l5.1 7l-5.6 -1.1l-5.1 -6.8z" fill="#5f2c0f"/>
<path d="M329 309.4l5.7 1.4l-5.3 3.6l-5.6 -1.2z" fill="#4c1708"/>
<path d="M339.4 307.8l5.6 2.6l-5.4 2.8l-5.6 -2.4z" fill="#54150a"/>
<path d="M375.7 314.5l5.2 6l-5.5 -0.3l-5.3 -5.8z" fill="#551d0c"/>
<path d="M365.3 309.8l5.4 4.9l-5.5 0.5l-5.4 -4.7z" fill="#50140a"/>
<path d="M391.4 322.7l5 7.1l-5.6 -1.7l-5.1 -7z" fill="#552b0b"/>
<path d="M354.9 306.9l5.5 3.8l-5.5 1.4l-5.5 -3.7z" fill="#4d1009"/>
<path d="M323.7 309.1l5.7 0.5l-5.3 3.8l-5.7 -0.2z" fill="#401404"/>
<path d="M344.5 305.8l5.6 2.7l-5.4 2.2l-5.6 -2.5z" fill="#460d07"/>
<path d="M334.1 306.5l5.7 1.6l-5.4 3.1l-5.7 -1.4z" fill="#420f05"/>
<path d="M381 315.3l5.2 6.2l-5.6 -0.9l-5.2 -6z" fill="#511e0a"/>
<path d="M396.8 324.9l5 7.4l-5.7 -2.3l-5 -7.2z" fill="#4c2a08"/>
<path d="M370.6 309.8l5.4 5.2l-5.6 -0.1l-5.4 -4.9z" fill="#471107"/>
<path d="M318.2 309.8l5.8 -0.5l-5.2 4.1l-5.8 0.6z" fill="#371402"/>
<path d="M360.2 306.1l5.5 4.1l-5.6 0.8l-5.5 -3.9z" fill="#480d07"/>
<path d="M328.7 306.1l5.7 0.7l-5.3 3.3l-5.7 -0.5z" fill="#3c0d03"/>
<path d="M349.7 304.3l5.6 2.9l-5.5 1.7l-5.6 -2.8z" fill="#400804"/>
<path d="M386.4 316.8l5.2 6.4l-5.7 -1.5l-5.2 -6.2z" fill="#4a1d08"/>
<path d="M339.2 304.3l5.7 1.8l-5.5 2.4l-5.7 -1.6z" fill="#3e0a04"/>
<path d="M402.2 327.8l5 7.6l-5.7 -3l-5 -7.4z" fill="#482d07"/>
<path d="M376 310.5l5.3 5.4l-5.7 -0.7l-5.3 -5.2z" fill="#481307"/>
<path d="M312.7 311.4l5.9 -1.4l-5.2 4.2l-5.8 1.6z" fill="#2d1200"/>
<path d="M365.5 306l5.4 4.3l-5.6 0.2l-5.5 -4.1z" fill="#410b05"/>
<path d="M391.9 318.9l5.1 6.6l-5.7 -2.2l-5.2 -6.3z" fill="#492006"/>
<path d="M323.2 306.6l5.9 -0.2l-5.3 3.4l-5.8 0.5z" fill="#310c01"/>
<path d="M354.9 303.4l5.6 3.2l-5.6 1l-5.5 -3z" fill="#3c0703"/>
<path d="M407.7 331.4l5 7.7l-5.8 -3.6l-5 -7.6z" fill="#412f04"/>
<path d="M333.8 303.7l5.8 0.9l-5.5 2.6l-5.7 -0.7z" fill="#3a0901"/>
<path d="M344.4 302.6l5.6 2l-5.5 1.9l-5.6 -1.9z" fill="#3a0602"/>
<path d="M381.4 311.8l5.3 5.6l-5.7 -1.4l-5.3 -5.3z" fill="#421305"/>
<path d="M307.2 314l5.9 -2.4l-5.1 4.4l-5.9 2.6z" fill="#211100"/>
<path d="M397.4 321.7l5 6.7l-5.7 -2.8l-5.1 -6.5z" fill="#412104"/>
<path d="M370.9 306.5l5.4 4.5l-5.7 -0.5l-5.4 -4.2z" fill="#3a0902"/>
<path d="M413.3 335.6l4.9 7.8l-5.9 -4.2l-4.9 -7.7z" fill="#3e3303"/>
<path d="M317.7 308.1l5.9 -1.3l-5.2 3.7l-5.9 1.4z" fill="#260c00"/>
<path d="M360.3 303.1l5.5 3.4l-5.6 0.3l-5.6 -3.1z" fill="#360502"/>
<path d="M328.3 304l5.9 0l-5.4 2.8l-5.8 0.3z" fill="#2f0800"/>
<path d="M349.6 301.5l5.7 2.3l-5.6 1.2l-5.7 -2.1z" fill="#310301"/>
<path d="M339 301.9l5.7 1l-5.5 2.1l-5.7 -0.9z" fill="#350501"/>
<path d="M386.9 313.8l5.2 5.7l-5.8 -2l-5.2 -5.5z" fill="#3f1503"/>
<path d="M418.9 340.4l4.8 8l-5.9 -4.9l-4.8 -7.9z" fill="#393702"/>
<path d="M301.5 317.6l6.1 -3.5l-4.9 4.5l-6.1 3.7z" fill="#1a1000"/>
<path d="M402.9 325.1l5 6.9l-5.8 -3.5l-5.1 -6.7z" fill="#3f2604"/>
<path d="M376.3 307.7l5.4 4.6l-5.8 -1.1l-5.4 -4.5z" fill="#370a02"/>
<path d="M312.1 310.5l6 -2.2l-5.1 3.8l-6 2.4z" fill="#180a00"/>
<path d="M365.6 303.4l5.6 3.6l-5.7 -0.3l-5.6 -3.3z" fill="#330401"/>
<path d="M392.4 316.3l5.2 5.9l-5.8 -2.6l-5.3 -5.7z" fill="#391702"/>
<path d="M322.8 305.3l5.9 -1l-5.3 3l-5.9 1.3z" fill="#1a0500"/>
<path d="M424.5 345.9l4.7 8.2l-5.9 -5.6l-4.7 -8z" fill="#2f3501"/>
<path d="M355 301.1l5.6 2.4l-5.7 0.6l-5.6 -2.3z" fill="#2c0201"/>
<path d="M408.5 329.1l5 7.1l-5.9 -4.1l-5 -6.9z" fill="#362601"/>
<path d="M295.8 322.4l6.2 -4.8l-4.8 4.3l-6.2 5z" fill="#181300"/>
<path d="M333.5 302l5.9 0.1l-5.5 2.3l-5.8 0.1z" fill="#290500"/>
<path d="M344.2 300.6l5.8 1.3l-5.6 1.4l-5.7 -1.1z" fill="#260100"/>
<path d="M381.8 309.4l5.3 4.9l-5.8 -1.8l-5.3 -4.6z" fill="#310b01"/>
<path d="M306.4 314l6.2 -3.4l-5 3.8l-6.2 3.6z" fill="#140a00"/>
<path d="M430.2 352.1l4.6 8.2l-6 -6.2l-4.6 -8.2z" fill="#223201"/>
<path d="M398 319.6l5.1 6l-5.9 -3.2l-5.1 -5.9z" fill="#321801"/>
<path d="M371.1 304.4l5.5 3.8l-5.8 -1l-5.5 -3.5z" fill="#280400"/>
<path d="M414.1 333.8l4.9 7.2l-5.9 -4.8l-5 -7z" fill="#312901"/>
<path d="M290.3 328l6.1 -5.9l-4.9 4.3l-6.1 6.1z" fill="#191700"/>
<path d="M317.1 307.6l6.1 -2.1l-5.1 3.2l-6.1 2.3z" fill="#110500"/>
<path d="M360.3 301.2l5.7 2.7l-5.8 -0.1l-5.6 -2.4z" fill="#240200"/>
<path d="M328 303.1l5.9 -0.8l-5.4 2.4l-5.9 1.1z" fill="#170300"/>
<path d="M349.6 300l5.7 1.4l-5.7 0.8l-5.7 -1.3z" fill="#1f0100"/>
<path d="M338.8 300.6l5.8 0.3l-5.5 1.6l-5.9 -0.1z" fill="#180100"/>
<path d="M435.9 358.9l4.5 8.4l-6.1 -7l-4.5 -8.2z" fill="#142c01"/>
<path d="M387.3 311.9l5.3 5l-5.9 -2.4l-5.3 -4.9z" fill="#2b0c00"/>
<path d="M300.8 318.7l6.2 -4.8l-5 3.7l-6.1 4.9z" fill="#160f00"/>
<path d="M419.8 339.2l4.8 7.3l-6 -5.5l-4.8 -7.1z" fill="#2c2c01"/>
<path d="M284.7 334.5l6.1 -7l-5 4.4l-6 7.1z" fill="#161b00"/>
<path d="M403.6 323.5l5 6.2l-5.9 -4l-5.1 -6z" fill="#2b1900"/>
<path d="M376.6 306l5.4 3.9l-5.8 -1.5l-5.5 -3.8z" fill="#220400"/>
<path d="M311.4 311.2l6.3 -3.5l-5.1 2.9l-6.2 3.7z" fill="#140800"/>
<path d="M441.6 366.5l4.4 8.3l-6.1 -7.7l-4.5 -8.2z" fill="#062000"/>
<path d="M365.8 302l5.6 2.8l-5.8 -0.7l-5.6 -2.6z" fill="#1a0100"/>
<path d="M322.2 305.4l6.2 -2.1l-5.2 2.4l-6.2 2.3z" fill="#0f0300"/>
<path d="M295.3 324.1l6.1 -5.9l-5.1 3.8l-6 6z" fill="#1d1600"/>
<path d="M392.9 314.9l5.3 5.2l-6 -3.1l-5.2 -5z" fill="#210b00"/>
<path d="M279.1 341.9l6 -8l-4.9 4.6l-6 8.1z" fill="#162400"/>
<path d="M425.5 345.2l4.7 7.4l-6.1 -6.2l-4.7 -7.2z" fill="#1f2500"/>
<path d="M355 299.9l5.7 1.7l-5.8 0.2l-5.7 -1.5z" fill="#1a0100"/>
<path d="M333.2 301.5l6 -0.6l-5.4 1.8l-6.1 0.8z" fill="#110100"/>
<path d="M409.3 328l4.9 6.4l-6 -4.7l-5 -6.2z" fill="#241a00"/>
<path d="M344.1 299.8l5.8 0.5l-5.6 1l-5.8 -0.3z" fill="#130100"/>
<path d="M447.3 374.8l4.3 8.3l-6.1 -8.6l-4.4 -8.2z" fill="#001a01"/>
<path d="M305.9 315.5l6.1 -4.6l-5.1 2.9l-6.1 4.9z" fill="#190d00"/>
<path d="M382.2 308.2l5.4 4.2l-6 -2.3l-5.4 -3.9z" fill="#1b0400"/>
<path d="M273.4 350.3l6 -9l-4.9 4.7l-5.9 9.1z" fill="#183008"/>
<path d="M431.3 352l4.5 7.4l-6.2 -7l-4.5 -7.2z" fill="#152300"/>
<path d="M453 383.7l4.3 8.2l-6.2 -9.3l-4.3 -8.2z" fill="#001605"/>
<path d="M289.7 330.4l6 -6.9l-5.1 3.9l-6 7z" fill="#212000"/>
<path d="M398.6 318.7l5.1 5.3l-6 -3.8l-5.2 -5.2z" fill="#1a0c00"/>
<path d="M316.7 308.8l6.1 -3.4l-5.3 2.2l-6 3.6z" fill="#120600"/>
<path d="M371.3 303.4l5.6 3.1l-5.9 -1.4l-5.6 -2.9z" fill="#140100"/>
<path d="M415 333.3l4.9 6.4l-6.2 -5.4l-4.8 -6.2z" fill="#241e00"/>
<path d="M327.4 304l6.2 -2.2l-5.3 1.4l-6.1 2.4z" fill="#100200"/>
<path d="M360.4 300.6l5.7 1.8l-5.8 -0.5l-5.7 -1.7z" fill="#120100"/>
<path d="M267.8 359.7l5.9 -10l-4.8 4.8l-6 10.1z" fill="#0e3405"/>
<path d="M458.6 393.2l4.3 8.3l-6.1 -10.1l-4.3 -8.2z" fill="#00120b"/>
<path d="M338.3 300.7l6.2 -0.6l-5.3 0.8l-6.2 1z" fill="#231716"/>
<path d="M349.5 299.6l5.8 0.7l-5.7 0.4l-5.8 -0.6z" fill="#160100"/>
<path d="M437 359.5l4.5 7.4l-6.2 -7.9l-4.5 -7.2z" fill="#0b1e00"/>
<path d="M300.3 320.7l6.1 -5.7l-5.2 3.1l-6 5.9z" fill="#251800"/>
<path d="M387.8 311.2l5.3 4.2l-6 -2.9l-5.3 -4.1z" fill="#180600"/>
<path d="M284 337.7l6 -7.9l-5 4l-6 8z" fill="#283001"/>
<path d="M420.8 339.3l4.7 6.4l-6.2 -6.2l-4.8 -6.3z" fill="#191a00"/>
<path d="M464.3 403.3l4.2 8.4l-6 -10.8l-4.3 -8.2z" fill="#02100f"/>
<path d="M262.1 370l5.9 -11l-4.8 4.9l-5.9 11.1z" fill="#06380a"/>
<path d="M404.4 323.1l5 5.4l-6.2 -4.5l-5 -5.3z" fill="#150c00"/>
<path d="M311.1 312.9l6.1 -4.5l-5.3 2.3l-6.1 4.7z" fill="#1a0a00"/>
<path d="M377 305.6l5.4 3.1l-6.1 -2.1l-5.3 -3z" fill="#110100"/>
<path d="M442.7 367.7l4.5 7.3l-6.2 -8.6l-4.5 -7.2z" fill="#021500"/>
<path d="M278.3 346l6 -8.9l-5 4.1l-6 9z" fill="#223502"/>
<path d="M469.9 414.1l4.3 8.4l-6 -11.4l-4.3 -8.3z" fill="#151a1d"/>
<path d="M256.4 381.4l5.9 -12l-4.8 5l-5.8 12.1z" fill="#073c1d"/>
<path d="M294.7 326.9l6 -6.7l-5.2 3.2l-6 6.9z" fill="#2d2501"/>
<path d="M322 307l6.1 -3.4l-5.5 1.6l-6 3.5z" fill="#130400"/>
<path d="M366.1 301.8l5.5 2.1l-6.1 -1.3l-5.4 -1.8z" fill="#211313"/>
<path d="M393.6 314.9l5.1 4.3l-6.2 -3.8l-5.1 -4.1z" fill="#140600"/>
<path d="M426.5 346.1l4.7 6.3l-6.2 -7.1l-4.8 -6.2z" fill="#121804"/>
<path d="M332.9 302.9l6.1 -2.1l-5.6 0.7l-6 2.4z" fill="#100100"/>
<path d="M355.3 300.6l5.5 0.3l-5.9 -1l-5.7 0z" fill="#0e0100"/>
<path d="M343.9 300.9l6 -1l-5.7 -0.1l-5.9 1.1z" fill="#0c0000"/>
<path d="M250.7 393.7l5.9 -13l-4.7 5.1l-5.9 13z" fill="#093e33"/>
<path d="M448.4 376.4l4.5 7.4l-6.1 -9.3l-4.6 -7.3z" fill="#001301"/>
<path d="M410.1 328.4l4.9 5.4l-6.2 -5.6l-5 -5.1z" fill="#171100"/>
<path d="M272.6 355.2l6 -9.9l-5 4.3l-6 10z" fill="#173a03"/>
<path d="M305.5 317.9l6 -5.5l-5.3 2.5l-6 5.7z" fill="#2a1701"/>
<path d="M245.1 407l5.9 -14l-4.7 5.2l-5.8 14z" fill="#0f3942"/>
<path d="M382.8 308.5l5.2 3.1l-6.3 -3.1l-5.2 -2.8z" fill="#0f0301"/>
<path d="M289 334l6 -7.7l-5.2 3.4l-6 7.9z" fill="#373702"/>
<path d="M454.1 385.8l4.4 7.5l-6 -10.1l-4.6 -7.3z" fill="#001205"/>
<path d="M432.2 353.4l4.7 6.3l-6.2 -7.8l-4.7 -6.3z" fill="#121d06"/>
<path d="M239.5 421.2l5.8 -14.9l-4.6 5.2l-5.8 15z" fill="#17314a"/>
<path d="M316.4 310.8l6 -4.3l-5.4 1.7l-6.1 4.5z" fill="#200a00"/>
<path d="M266.8 365.5l6 -10.9l-4.9 4.4l-6 11z" fill="#0b3d04"/>
<path d="M399.3 319.4l5.1 4.2l-6.3 -4.8l-5.1 -4z" fill="#130800"/>
<path d="M371.7 304.3l5.5 1.7l-6.1 -2.5l-5.5 -1.5z" fill="#120000"/>
<path d="M415.8 334.3l4.9 5.3l-6.2 -6.3l-5 -5.1z" fill="#181400"/>
<path d="M327.3 305.7l6.1 -3.2l-5.6 0.9l-6 3.4z" fill="#1c0400"/>
<path d="M459.8 395.8l4.4 7.6l-6 -10.8l-4.5 -7.4z" fill="#02130c"/>
<path d="M360.5 301.8l5.8 0.4l-5.9 -1.6l-5.8 -0.3z" fill="#120100"/>
<path d="M299.8 323.9l6 -6.5l-5.3 2.6l-6 6.8z" fill="#322301"/>
<path d="M283.2 342.2l6.1 -8.8l-5.2 3.6l-6 8.9z" fill="#323d03"/>
<path d="M338.4 302.4l5.9 -1.9l-5.6 0l-6 2.2z" fill="#170100"/>
<path d="M349.4 301.2l5.9 -0.8l-5.8 -0.8l-5.9 0.9z" fill="#160100"/>
<path d="M261.1 376.7l6 -11.8l-4.9 4.4l-5.9 12z" fill="#053d0f"/>
<path d="M437.9 361.3l4.7 6.5l-6.1 -8.6l-4.8 -6.4z" fill="#081900"/>
<path d="M388.3 312.3l5.3 2.9l-6.1 -4l-5.4 -2.8z" fill="#110400"/>
<path d="M465.5 406.5l4.4 7.6l-6 -11.4l-4.4 -7.5z" fill="#000f0e"/>
<path d="M421.5 340.8l4.9 5.4l-6.1 -7.1l-5 -5.2z" fill="#0f1001"/>
<path d="M310.7 315.7l6 -5.4l-5.4 1.9l-6 5.6z" fill="#301601"/>
<path d="M404.9 324.4l5.2 4.2l-6.2 -5.5l-5.2 -4.1z" fill="#190f00"/>
<path d="M255.4 389l6 -12.9l-4.9 4.6l-5.9 12.9z" fill="#053e24"/>
<path d="M277.5 351.4l6 -9.8l-5.1 3.7l-6 9.9z" fill="#263f04"/>
<path d="M443.6 369.9l4.7 6.5l-6.1 -9.2l-4.7 -6.5z" fill="#021300"/>
<path d="M377.2 307l5.6 1.7l-6.1 -3.2l-5.5 -1.6z" fill="#120100"/>
<path d="M294 331l6.1 -7.6l-5.3 2.8l-6 7.7z" fill="#383003"/>
<path d="M249.7 402.2l5.9 -13.9l-4.8 4.7l-5.8 13.9z" fill="#053c38"/>
<path d="M321.7 309.4l6 -4.2l-5.5 1.1l-6.1 4.4z" fill="#2c0c00"/>
<path d="M366.1 303.6l5.7 0.6l-5.9 -2.4l-5.8 -0.4z" fill="#190100"/>
<path d="M244 416.4l5.9 -14.8l-4.7 4.7l-5.9 14.9z" fill="#0e3647"/>
<path d="M332.7 305l6.1 -3l-5.7 0.3l-6 3.1z" fill="#270500"/>
<path d="M271.7 361.5l6 -10.8l-5 3.8l-6 10.9z" fill="#163e05"/>
<path d="M427.2 347.9l4.9 5.5l-6.1 -7.8l-5 -5.3z" fill="#111805"/>
<path d="M394 316.4l5.3 3.1l-6.1 -4.8l-5.4 -2.9z" fill="#190900"/>
<path d="M355 302.1l5.8 -0.6l-5.8 -1.5l-5.9 0.8z" fill="#1a0100"/>
<path d="M343.8 302.6l6 -1.8l-5.8 -0.6l-5.9 1.9z" fill="#200100"/>
<path d="M449.4 379.2l4.7 6.6l-6.1 -10l-4.7 -6.5z" fill="#001302"/>
<path d="M410.6 330.1l5.2 4.3l-6.2 -6.3l-5.1 -4.2z" fill="#1d1500"/>
<path d="M304.9 321.6l6.1 -6.4l-5.4 2l-6.1 6.6z" fill="#3b2403"/>
<path d="M288.2 339l6.1 -8.6l-5.2 2.9l-6.1 8.8z" fill="#3b3d04"/>
<path d="M265.9 372.7l6.1 -11.8l-5.1 3.9l-5.9 11.9z" fill="#093f08"/>
<path d="M382.9 310.2l5.5 2l-6 -3.9l-5.6 -1.8z" fill="#160300"/>
<path d="M455.2 389.1l4.6 6.7l-6 -10.6l-4.7 -6.6z" fill="#001608"/>
<path d="M316 314.1l6 -5.2l-5.5 1.3l-6.1 5.3z" fill="#351401"/>
<path d="M433 355.7l4.9 5.6l-6.1 -8.5l-5 -5.4z" fill="#102000"/>
<path d="M399.7 321.2l5.3 3.2l-6.1 -5.5l-5.4 -3z" fill="#1e0e00"/>
<path d="M371.7 306l5.7 0.7l-6 -3l-5.7 -0.6z" fill="#1c0200"/>
<path d="M260.2 384.9l6 -12.8l-5 4l-5.9 12.8z" fill="#08461c"/>
<path d="M282.5 348.1l6 -9.7l-5.2 3.1l-6 9.8z" fill="#314006"/>
<path d="M416.4 336.4l5.1 4.4l-6.1 -7l-5.2 -4.3z" fill="#1c1900"/>
<path d="M299.2 328.5l6.1 -7.5l-5.4 2.2l-6.1 7.6z" fill="#3d2e05"/>
<path d="M327 308.6l6.1 -4.1l-5.7 0.5l-6 4.2z" fill="#350b01"/>
<path d="M461 399.7l4.6 6.8l-6.1 -11.3l-4.6 -6.7z" fill="#0b201a"/>
<path d="M360.6 303.7l5.8 -0.4l-5.9 -2.2l-5.9 0.6z" fill="#240200"/>
<path d="M338.2 305l6 -2.8l-5.8 -0.4l-6 2.9z" fill="#340501"/>
<path d="M349.4 303.3l5.9 -1.6l-5.8 -1.2l-6 1.7z" fill="#2a0200"/>
<path d="M254.5 398l5.9 -13.8l-4.9 4.1l-5.9 13.9z" fill="#084634"/>
<path d="M438.8 364.2l4.9 5.7l-6.1 -9.2l-4.9 -5.6z" fill="#091e00"/>
<path d="M388.6 314.2l5.5 2.1l-6.1 -4.6l-5.5 -2z" fill="#1e0800"/>
<path d="M276.7 358.1l6 -10.7l-5.1 3.3l-6.1 10.7z" fill="#234207"/>
<path d="M248.7 412.2l6 -14.8l-4.9 4.1l-5.9 14.9z" fill="#13464b"/>
<path d="M310.2 319.9l6.1 -6.3l-5.5 1.4l-6.1 6.4z" fill="#402204"/>
<path d="M422.2 343.3l5.1 4.6l-6.1 -7.7l-5.2 -4.4z" fill="#171a00"/>
<path d="M293.4 336.4l6.1 -8.5l-5.4 2.4l-6.1 8.6z" fill="#423c07"/>
<path d="M405.4 326.6l5.3 3.4l-6.1 -6.2l-5.3 -3.2z" fill="#211400"/>
<path d="M444.6 373.4l4.9 5.7l-6.1 -9.8l-4.9 -5.7z" fill="#021d00"/>
<path d="M377.4 309.1l5.7 0.9l-6 -3.7l-5.7 -0.8z" fill="#200400"/>
<path d="M321.3 313.2l6.1 -5.1l-5.6 0.6l-6.1 5.2z" fill="#3a1302"/>
<path d="M270.9 369.2l6 -11.7l-5.1 3.3l-6 11.8z" fill="#124207"/>
<path d="M366.2 305.9l5.8 -0.2l-6 -2.8l-5.8 0.4z" fill="#2e0300"/>
<path d="M332.5 308.4l6.1 -3.9l-5.8 -0.2l-6 4z" fill="#3c0b02"/>
<path d="M428 351l5.1 4.7l-6.1 -8.4l-5.1 -4.6z" fill="#192300"/>
<path d="M355 304.8l5.9 -1.5l-5.9 -1.9l-6 1.6z" fill="#2f0301"/>
<path d="M304.4 326.6l6.1 -7.3l-5.5 1.6l-6.1 7.5z" fill="#452e08"/>
<path d="M394.3 318.8l5.5 2.2l-6.1 -5.3l-5.5 -2.1z" fill="#250d00"/>
<path d="M343.7 305.6l6 -2.7l-5.8 -1l-6 2.8z" fill="#360502"/>
<path d="M287.5 345.3l6.1 -9.5l-5.3 2.5l-6 9.7z" fill="#3b4107"/>
<path d="M450.5 383.2l4.8 5.9l-6.1 -10.6l-4.9 -5.8z" fill="#001d03"/>
<path d="M265.1 381.3l6 -12.7l-5.1 3.4l-6 12.8z" fill="#0a4612"/>
<path d="M411.2 332.8l5.3 3.5l-6.1 -6.9l-5.3 -3.3z" fill="#271d00"/>
<path d="M259.3 394.4l6 -13.7l-5 3.5l-6 13.8z" fill="#0b4a2b"/>
<path d="M315.5 318.8l6.1 -6.2l-5.6 0.8l-6.1 6.3z" fill="#441f07"/>
<path d="M383.2 312.8l5.6 1.2l-6.1 -4.5l-5.6 -0.9z" fill="#2a0900"/>
<path d="M456.3 393.7l4.8 6l-6.1 -11.3l-4.8 -5.8z" fill="#092917"/>
<path d="M281.7 355.3l6.1 -10.6l-5.3 2.7l-6 10.6z" fill="#2f4509"/>
<path d="M433.9 359.3l5 4.8l-6.1 -9l-5.1 -4.7z" fill="#1a2e01"/>
<path d="M253.5 408.5l6 -14.8l-5 3.6l-5.9 14.8z" fill="#0c4842"/>
<path d="M298.6 334.4l6.1 -8.4l-5.5 1.8l-6.1 8.5z" fill="#483b09"/>
<path d="M400.1 324.1l5.5 2.4l-6.1 -6l-5.5 -2.3z" fill="#2d1701"/>
<path d="M326.7 312.8l6.1 -4.9l-5.7 0l-6.1 5z" fill="#421305"/>
<path d="M371.9 308.9l5.8 -0.1l-6 -3.5l-5.8 0.2z" fill="#2f0601"/>
<path d="M417.1 339.6l5.2 3.6l-6.1 -7.5l-5.3 -3.5z" fill="#2e2a01"/>
<path d="M338 308.9l6.1 -3.7l-5.9 -0.9l-6 3.8z" fill="#3d0b04"/>
<path d="M360.6 306.9l5.9 -1.3l-6 -2.6l-5.9 1.4z" fill="#350502"/>
<path d="M275.9 366.3l6.1 -11.6l-5.3 2.7l-6 11.7z" fill="#20470a"/>
<path d="M349.3 306.9l6 -2.5l-5.9 -1.8l-6 2.7z" fill="#3a0603"/>
<path d="M439.8 368.4l4.9 4.9l-6.1 -9.8l-5 -4.8z" fill="#0e2e01"/>
<path d="M309.7 325.4l6.1 -7.2l-5.5 1l-6.2 7.3z" fill="#4a2c0b"/>
<path d="M389 317.3l5.6 1.3l-6.1 -5.1l-5.7 -1.2z" fill="#331101"/>
<path d="M292.7 343.2l6.2 -9.4l-5.5 1.9l-6.1 9.5z" fill="#46460a"/>
<path d="M270 378.3l6.1 -12.6l-5.2 2.8l-6 12.7z" fill="#104a0c"/>
<path d="M423 347.1l5.2 3.8l-6.2 -8.2l-5.2 -3.7z" fill="#2f3201"/>
<path d="M406 330.1l5.4 2.5l-6.1 -6.7l-5.5 -2.4z" fill="#342201"/>
<path d="M445.6 378.1l5 5l-6.1 -10.4l-5 -4.9z" fill="#053102"/>
<path d="M320.9 318.3l6.2 -6l-5.7 0.2l-6.1 6.1z" fill="#4d200a"/>
<path d="M377.7 312.5l5.7 0.1l-6 -4.2l-5.8 0z" fill="#370b02"/>
<path d="M264.2 391.3l6.1 -13.6l-5.2 2.9l-6 13.7z" fill="#0d4d20"/>
<path d="M286.9 353.1l6.1 -10.5l-5.4 2.1l-6.1 10.5z" fill="#3d4b0c"/>
<path d="M332.3 313.1l6.1 -4.7l-5.9 -0.7l-6.1 4.9z" fill="#481307"/>
<path d="M303.9 333.1l6.1 -8.3l-5.5 1.1l-6.2 8.4z" fill="#4e3a0c"/>
<path d="M366.3 309.7l5.9 -1.1l-6 -3.4l-5.9 1.3z" fill="#3c0803"/>
<path d="M343.6 310l6.1 -3.5l-5.9 -1.6l-6.1 3.7z" fill="#430b06"/>
<path d="M428.8 355.4l5.2 3.9l-6.1 -9l-5.3 -3.8z" fill="#2a3902"/>
<path d="M355 308.8l6 -2.3l-6 -2.4l-6 2.4z" fill="#3d0804"/>
<path d="M451.5 388.6l4.9 5.1l-6.1 -11.2l-4.9 -5z" fill="#05360f"/>
<path d="M258.4 405.3l6 -14.6l-5.1 3l-5.9 14.7z" fill="#0f4e3c"/>
<path d="M394.8 322.5l5.6 1.4l-6.2 -5.8l-5.6 -1.3z" fill="#3c1b03"/>
<path d="M411.9 336.8l5.4 2.7l-6.2 -7.4l-5.4 -2.6z" fill="#3a2d02"/>
<path d="M281 364l6.1 -11.5l-5.3 2.1l-6.1 11.6z" fill="#2c4c0c"/>
<path d="M315.1 324.8l6.2 -7l-5.7 0.3l-6.2 7.1z" fill="#532e0e"/>
<path d="M383.5 316.8l5.7 0.3l-6.1 -4.9l-5.8 -0.2z" fill="#3f1304"/>
<path d="M298 341.8l6.1 -9.3l-5.5 1.2l-6.1 9.4z" fill="#50490e"/>
<path d="M434.8 364.3l5.1 4l-6.2 -9.6l-5.1 -3.9z" fill="#203c03"/>
<path d="M326.4 318.5l6.2 -5.8l-5.8 -0.6l-6.1 6z" fill="#54210d"/>
<path d="M275.1 375.9l6.1 -12.5l-5.3 2.2l-6 12.6z" fill="#1b4f0e"/>
<path d="M372.1 313.1l5.9 -0.9l-6.1 -4l-5.9 1z" fill="#410e05"/>
<path d="M400.7 328.3l5.5 1.6l-6.2 -6.5l-5.6 -1.5z" fill="#3e2303"/>
<path d="M417.8 344.2l5.3 2.8l-6.2 -8.1l-5.3 -2.7z" fill="#3c3803"/>
<path d="M337.8 314.1l6.2 -4.6l-6 -1.3l-6.1 4.7z" fill="#4c1309"/>
<path d="M360.7 311.5l6 -2.2l-6.1 -3.1l-6 2.3z" fill="#480d07"/>
<path d="M349.3 311.8l6 -3.4l-6 -2.2l-6 3.5z" fill="#4c0f09"/>
<path d="M309.2 332.3l6.2 -8.1l-5.6 0.5l-6.2 8.2z" fill="#563b10"/>
<path d="M292.1 351.5l6.2 -10.3l-5.5 1.4l-6.2 10.4z" fill="#4d550f"/>
<path d="M440.7 374l5.1 4.1l-6.2 -10.4l-5.1 -4z" fill="#133d04"/>
<path d="M269.2 388.9l6.1 -13.6l-5.2 2.3l-6.1 13.7z" fill="#0e5018"/>
<path d="M389.3 321.8l5.7 0.5l-6.1 -5.7l-5.8 -0.3z" fill="#441b05"/>
<path d="M263.4 402.8l6.1 -14.6l-5.2 2.4l-6.1 14.7z" fill="#105334"/>
<path d="M423.7 352.3l5.3 3l-6.2 -8.9l-5.3 -2.8z" fill="#383f05"/>
<path d="M320.6 324.8l6.2 -6.8l-5.8 -0.4l-6.2 7z" fill="#5d3012"/>
<path d="M406.6 334.9l5.5 1.8l-6.2 -7.3l-5.6 -1.6z" fill="#412c04"/>
<path d="M446.6 384.3l5.1 4.2l-6.2 -11.1l-5.1 -4.1z" fill="#093f09"/>
<path d="M286.2 362.3l6.2 -11.4l-5.5 1.5l-6.1 11.5z" fill="#38510f"/>
<path d="M377.9 317.3l5.9 -0.7l-6.2 -4.8l-5.8 0.9z" fill="#481507"/>
<path d="M303.3 340.9l6.2 -9.1l-5.6 0.6l-6.2 9.2z" fill="#574811"/>
<path d="M332 319.3l6.2 -5.6l-5.9 -1.3l-6.2 5.8z" fill="#5b2310"/>
<path d="M366.5 314.8l5.9 -2l-6.1 -3.8l-6 2.1z" fill="#4a1208"/>
<path d="M343.5 315.8l6.1 -4.4l-6 -2.1l-6.1 4.6z" fill="#54170c"/>
<path d="M355 314.3l6 -3.2l-6 -3l-6.1 3.4z" fill="#54140b"/>
<path d="M429.7 361.1l5.2 3.1l-6.2 -9.5l-5.3 -3z" fill="#2d4106"/>
<path d="M280.3 374.1l6.1 -12.4l-5.4 1.6l-6.1 12.5z" fill="#275610"/>
<path d="M395.2 327.6l5.7 0.6l-6.2 -6.4l-5.7 -0.5z" fill="#492507"/>
<path d="M412.5 342.2l5.5 1.9l-6.2 -8l-5.6 -1.8z" fill="#433806"/>
<path d="M314.7 332.3l6.2 -8l-5.7 -0.2l-6.2 8.1z" fill="#5f3d13"/>
<path d="M297.4 350.6l6.2 -10.3l-5.6 0.8l-6.1 10.3z" fill="#565812"/>
<path d="M274.4 387l6.1 -13.5l-5.3 1.7l-6.1 13.6z" fill="#145615"/>
<path d="M383.8 322.2l5.8 -0.6l-6.2 -5.5l-5.8 0.7z" fill="#501f09"/>
<path d="M435.6 370.7l5.3 3.2l-6.2 -10.3l-5.3 -3.1z" fill="#204206"/>
<path d="M326.1 325.6l6.2 -6.8l-5.8 -1l-6.2 6.8z" fill="#653316"/>
<path d="M268.5 400.9l6.1 -14.5l-5.3 1.8l-6.1 14.6z" fill="#13592e"/>
<path d="M372.3 318.8l5.9 -1.8l-6.1 -4.6l-6 2z" fill="#53190b"/>
<path d="M401.2 334l5.6 0.8l-6.2 -7.2l-5.7 -0.6z" fill="#492e07"/>
<path d="M418.5 350.2l5.4 2l-6.2 -8.7l-5.5 -1.9z" fill="#424108"/>
<path d="M291.5 361.3l6.2 -11.3l-5.6 0.8l-6.1 11.4z" fill="#465a12"/>
<path d="M337.6 320.8l6.2 -5.5l-5.9 -1.9l-6.2 5.7z" fill="#642613"/>
<path d="M308.8 340.7l6.2 -9l-5.7 -0.1l-6.2 9.2z" fill="#5c4913"/>
<path d="M360.8 317.5l6 -3l-6.1 -3.7l-6.1 3.1z" fill="#5d1b0f"/>
<path d="M349.2 318.1l6.1 -4.2l-6 -2.8l-6.2 4.4z" fill="#611e10"/>
<path d="M441.6 380.9l5.2 3.3l-6.2 -10.9l-5.2 -3.2z" fill="#134308"/>
<path d="M285.5 373l6.2 -12.4l-5.5 1l-6.1 12.5z" fill="#315b12"/>
<path d="M389.7 327.8l5.8 -0.4l-6.2 -6.3l-5.8 0.6z" fill="#5a2c0c"/>
<path d="M320.2 332.8l6.3 -7.8l-5.9 -0.9l-6.2 8z" fill="#633e15"/>
<path d="M424.5 358.9l5.4 2.1l-6.3 -9.4l-5.4 -2z" fill="#3a4609"/>
<path d="M407.1 341.2l5.6 0.9l-6.2 -7.9l-5.7 -0.7z" fill="#4e3c0c"/>
<path d="M302.8 350.3l6.3 -10.1l-5.7 0l-6.2 10.2z" fill="#5f5c14"/>
<path d="M378.2 323.6l5.9 -1.6l-6.2 -5.4l-6 1.8z" fill="#5d240e"/>
<path d="M279.6 385.8l6.2 -13.4l-5.5 1l-6.1 13.5z" fill="#1b5e14"/>
<path d="M331.8 326.9l6.2 -6.5l-6 -1.8l-6.2 6.7z" fill="#6c3619"/>
<path d="M366.6 321.4l6 -2.9l-6.1 -4.4l-6.1 3z" fill="#602210"/>
<path d="M343.4 323.1l6.1 -5.4l-6 -2.6l-6.2 5.5z" fill="#692a15"/>
<path d="M355 321.2l6.1 -4.1l-6.1 -3.5l-6.1 4.2z" fill="#622211"/>
<path d="M430.5 368.3l5.3 2.3l-6.2 -10.1l-5.4 -2.2z" fill="#2e490a"/>
<path d="M273.6 399.6l6.2 -14.5l-5.4 1.2l-6.1 14.5z" fill="#16602a"/>
<path d="M296.9 360.8l6.2 -11.1l-5.6 0.2l-6.3 11.3z" fill="#526215"/>
<path d="M395.7 334.1l5.7 -0.3l-6.2 -6.9l-5.8 0.4z" fill="#5d3810"/>
<path d="M314.3 341.2l6.2 -8.9l-5.8 -0.7l-6.2 9z" fill="#695018"/>
<path d="M413.1 349.1l5.6 1l-6.3 -8.6l-5.6 -0.9z" fill="#4f480d"/>
<path d="M384.1 329l5.9 -1.4l-6.2 -6.1l-6 1.6z" fill="#612f11"/>
<path d="M325.8 334.1l6.3 -7.7l-5.9 -1.5l-6.3 7.8z" fill="#6c431a"/>
<path d="M436.5 378.5l5.3 2.3l-6.2 -10.8l-5.4 -2.3z" fill="#224c0e"/>
<path d="M290.9 372.5l6.2 -12.3l-5.6 0.4l-6.2 12.3z" fill="#3c6216"/>
<path d="M308.3 350.6l6.3 -10l-5.8 -0.6l-6.2 10.1z" fill="#696118"/>
<path d="M372.5 326l6 -2.7l-6.2 -5.2l-6.1 2.9z" fill="#6a2d14"/>
<path d="M337.5 329l6.2 -6.4l-6 -2.5l-6.3 6.6z" fill="#763e1d"/>
<path d="M401.7 341.1l5.7 -0.1l-6.3 -7.7l-5.8 0.3z" fill="#5d4412"/>
<path d="M419.1 357.6l5.6 1.2l-6.3 -9.3l-5.6 -1z" fill="#4a510d"/>
<path d="M360.8 324.9l6.1 -3.9l-6.2 -4.2l-6.1 4z" fill="#602612"/>
<path d="M349.1 326l6.2 -5.2l-6.1 -3.4l-6.2 5.4z" fill="#723118"/>
<path d="M284.9 385.2l6.2 -13.3l-5.5 0.4l-6.2 13.4z" fill="#236115"/>
<path d="M319.9 342.3l6.3 -8.7l-5.9 -1.5l-6.3 8.9z" fill="#75581c"/>
<path d="M302.3 361.1l6.3 -11.1l-5.7 -0.4l-6.3 11.1z" fill="#5e6a19"/>
<path d="M390.1 335.2l5.9 -1.3l-6.3 -6.8l-5.9 1.4z" fill="#6b4117"/>
<path d="M278.9 398.9l6.2 -14.3l-5.5 0.5l-6.1 14.4z" fill="#186526"/>
<path d="M425.2 367l5.5 1.2l-6.3 -10l-5.5 -1.1z" fill="#3d530e"/>
<path d="M407.7 348.9l5.7 0l-6.3 -8.4l-5.8 0.1z" fill="#5d5012"/>
<path d="M331.5 336.1l6.3 -7.6l-6 -2.3l-6.3 7.7z" fill="#764a1e"/>
<path d="M378.4 331.3l6 -2.5l-6.2 -5.9l-6.1 2.6z" fill="#6f3a19"/>
<path d="M296.3 372.6l6.3 -12.1l-5.7 -0.4l-6.2 12.3z" fill="#466a19"/>
<path d="M343.2 331.8l6.3 -6.3l-6.1 -3.1l-6.3 6.4z" fill="#814621"/>
<path d="M366.7 329.4l6.1 -3.7l-6.2 -5l-6.1 3.9z" fill="#7a3b1b"/>
<path d="M313.9 351.6l6.3 -9.8l-5.9 -1.3l-6.3 10z" fill="#6f641b"/>
<path d="M355 329.6l6.2 -5l-6.2 -4.1l-6.2 5.1z" fill="#753819"/>
<path d="M431.3 377l5.4 1.4l-6.3 -10.8l-5.5 -1.2z" fill="#315812"/>
<path d="M396.1 342.1l5.8 -1.2l-6.3 -7.5l-5.9 1.3z" fill="#694b17"/>
<path d="M413.7 357.4l5.7 0.1l-6.3 -9.1l-5.7 -0.1z" fill="#5a5c13"/>
<path d="M290.3 385.2l6.3 -13.2l-5.7 -0.2l-6.2 13.3z" fill="#2c6919"/>
<path d="M325.6 344.2l6.2 -8.7l-5.9 -2.1l-6.3 8.8z" fill="#7d5e20"/>
<path d="M384.4 337.3l6 -2.3l-6.3 -6.7l-6 2.5z" fill="#7b4c1e"/>
<path d="M307.9 362l6.3 -10.9l-5.9 -1.2l-6.2 11.1z" fill="#656e1b"/>
<path d="M284.3 398.9l6.2 -14.3l-5.6 -0.1l-6.2 14.3z" fill="#1d6d24"/>
<path d="M337.3 338.7l6.3 -7.4l-6.1 -3l-6.3 7.5z" fill="#825423"/>
<path d="M372.7 334.6l6.1 -3.6l-6.3 -5.7l-6.1 3.7z" fill="#834b22"/>
<path d="M419.8 366.6l5.6 0.2l-6.3 -9.8l-5.7 -0.2z" fill="#4b5d13"/>
<path d="M402.1 349.7l5.9 -1l-6.4 -8.3l-5.8 1.2z" fill="#6a5918"/>
<path d="M349.1 335.3l6.2 -6.1l-6.2 -3.9l-6.2 6.2z" fill="#854d24"/>
<path d="M360.9 333.9l6.2 -4.8l-6.3 -4.9l-6.2 5z" fill="#7f4620"/>
<path d="M301.8 373.5l6.3 -12.1l-5.7 -1l-6.3 12.1z" fill="#50711c"/>
<path d="M319.5 353.4l6.4 -9.8l-6 -2l-6.3 9.9z" fill="#776b1f"/>
<path d="M390.4 344.1l6 -2.2l-6.4 -7.4l-5.9 2.4z" fill="#7b591f"/>
<path d="M425.9 376.5l5.6 0.4l-6.4 -10.6l-5.6 -0.3z" fill="#406218"/>
<path d="M331.3 346.7l6.3 -8.5l-6.1 -2.8l-6.3 8.6z" fill="#876825"/>
<path d="M408.2 358.1l5.8 -0.9l-6.4 -9l-5.8 1z" fill="#696618"/>
<path d="M295.8 386l6.3 -13.1l-5.8 -1l-6.2 13.2z" fill="#346e1c"/>
<path d="M378.7 340.5l6 -3.4l-6.3 -6.5l-6.1 3.6z" fill="#895a25"/>
<path d="M313.5 363.6l6.3 -10.8l-5.9 -1.9l-6.3 11z" fill="#68701d"/>
<path d="M343.1 342.1l6.3 -7.3l-6.2 -3.7l-6.2 7.4z" fill="#8a5e27"/>
<path d="M366.8 339l6.2 -4.7l-6.3 -5.6l-6.2 4.8z" fill="#845225"/>
<path d="M355 339.5l6.2 -6l-6.2 -4.6l-6.3 6.1z" fill="#8d5a29"/>
<path d="M289.7 399.5l6.3 -14.1l-5.7 -0.9l-6.2 14.3z" fill="#207123"/>
<path d="M396.5 351.6l5.9 -2.1l-6.3 -8.1l-6 2.2z" fill="#77631e"/>
<path d="M414.3 367.2l5.8 -0.8l-6.4 -9.7l-5.8 0.8z" fill="#5c6b18"/>
<path d="M325.3 355.8l6.3 -9.6l-6 -2.7l-6.4 9.7z" fill="#7f7323"/>
<path d="M307.4 375l6.4 -12l-5.9 -1.7l-6.3 12z" fill="#567720"/>
<path d="M384.7 347.2l6.1 -3.3l-6.4 -7.3l-6.1 3.5z" fill="#846224"/>
<path d="M337.1 349.9l6.3 -8.3l-6.1 -3.6l-6.3 8.5z" fill="#8a6d27"/>
<path d="M372.8 344.8l6.2 -4.6l-6.4 -6.3l-6.1 4.7z" fill="#8f6529"/>
<path d="M420.4 377l5.7 -0.6l-6.3 -10.5l-5.8 0.7z" fill="#4c6c1c"/>
<path d="M301.4 387.4l6.3 -13l-5.8 -1.6l-6.3 13.1z" fill="#39721e"/>
<path d="M349 346.1l6.3 -7l-6.2 -4.5l-6.3 7.2z" fill="#8b6429"/>
<path d="M402.6 359.9l5.9 -2l-6.4 -8.9l-5.9 2.1z" fill="#79751f"/>
<path d="M360.9 344.4l6.3 -5.8l-6.3 -5.4l-6.3 6z" fill="#8d632b"/>
<path d="M319.2 365.9l6.4 -10.7l-6 -2.5l-6.4 10.8z" fill="#737d22"/>
<path d="M295.3 400.8l6.3 -14l-5.8 -1.5l-6.3 14.1z" fill="#237324"/>
<path d="M390.8 354.5l6 -3.1l-6.4 -8l-6 3.3z" fill="#857225"/>
<path d="M331.1 358.9l6.3 -9.5l-6.1 -3.4l-6.3 9.6z" fill="#847b26"/>
<path d="M408.7 368.8l5.9 -1.8l-6.4 -9.6l-5.9 1.9z" fill="#65731d"/>
<path d="M313.1 377.2l6.4 -11.8l-6 -2.5l-6.3 11.9z" fill="#618325"/>
<path d="M378.9 351.3l6.1 -4.4l-6.4 -7.1l-6.1 4.5z" fill="#8a6d29"/>
<path d="M343 353.9l6.3 -8.2l-6.2 -4.3l-6.3 8.3z" fill="#8f772b"/>
<path d="M366.9 350.1l6.3 -5.7l-6.4 -6.1l-6.2 5.8z" fill="#97742e"/>
<path d="M355 350.9l6.3 -6.9l-6.3 -5.2l-6.3 7z" fill="#8a6c2a"/>
<path d="M307 389.5l6.4 -12.9l-5.9 -2.3l-6.4 12.9z" fill="#417e23"/>
<path d="M396.9 362.7l6 -3l-6.4 -8.8l-6.1 3.2z" fill="#878426"/>
<path d="M325 368.9l6.4 -10.5l-6.1 -3.3l-6.4 10.6z" fill="#788426"/>
<path d="M414.9 378.6l5.8 -1.7l-6.4 -10.4l-5.9 1.8z" fill="#557520"/>
<path d="M385 358.5l6.1 -4.2l-6.4 -7.8l-6.2 4.3z" fill="#8e7e2a"/>
<path d="M336.9 362.7l6.4 -9.3l-6.2 -4.2l-6.3 9.5z" fill="#898429"/>
<path d="M300.9 402.8l6.4 -13.9l-5.9 -2.2l-6.3 14z" fill="#287e27"/>
<path d="M318.9 380.1l6.4 -11.7l-6.1 -3.2l-6.3 11.8z" fill="#638727"/>
<path d="M373 356.5l6.2 -5.5l-6.4 -6.9l-6.2 5.6z" fill="#95802e"/>
<path d="M348.9 358.6l6.4 -8.1l-6.3 -5.1l-6.3 8.2z" fill="#8f7e2c"/>
<path d="M403.1 371.5l5.9 -2.8l-6.4 -9.5l-6 3z" fill="#728124"/>
<path d="M361 356.5l6.3 -6.8l-6.4 -6l-6.3 6.9z" fill="#988230"/>
<path d="M330.9 372.6l6.4 -10.4l-6.2 -4l-6.4 10.5z" fill="#7b8b2a"/>
<path d="M312.8 392.3l6.4 -12.8l-6.1 -3l-6.3 12.8z" fill="#468727"/>
<path d="M391.1 366.5l6.1 -4.1l-6.4 -8.6l-6.2 4.3z" fill="#8a8c2a"/>
<path d="M409.2 381.1l6 -2.7l-6.5 -10.3l-6 2.9z" fill="#5d8025"/>
<path d="M342.9 367.3l6.4 -9.2l-6.3 -4.9l-6.4 9.3z" fill="#8c8d2c"/>
<path d="M379.1 363.6l6.2 -5.3l-6.4 -7.7l-6.3 5.5z" fill="#999030"/>
<path d="M355 364l6.3 -7.9l-6.3 -5.9l-6.4 8.1z" fill="#978f30"/>
<path d="M306.6 405.6l6.4 -13.9l-6 -2.9l-6.3 13.9z" fill="#2c832c"/>
<path d="M367 362.8l6.3 -6.7l-6.4 -6.7l-6.3 6.7z" fill="#998e32"/>
<path d="M324.7 383.7l6.5 -11.6l-6.2 -3.9l-6.4 11.7z" fill="#638e2b"/>
<path d="M397.3 375.3l6.1 -4l-6.5 -9.3l-6.1 4.1z" fill="#778b29"/>
<path d="M336.8 377.1l6.4 -10.3l-6.2 -4.8l-6.5 10.4z" fill="#778d2c"/>
<path d="M385.2 371.5l6.2 -5.2l-6.4 -8.5l-6.2 5.4z" fill="#8c962f"/>
<path d="M318.6 395.8l6.4 -12.7l-6.1 -3.7l-6.4 12.7z" fill="#458a2a"/>
<path d="M348.9 372.6l6.4 -9.1l-6.3 -5.6l-6.4 9.1z" fill="#8a9530"/>
<path d="M373.1 369.8l6.3 -6.5l-6.4 -7.5l-6.3 6.6z" fill="#949731"/>
<path d="M361 370.1l6.4 -7.7l-6.4 -6.6l-6.4 7.9z" fill="#979b33"/>
<path d="M403.5 384.8l6 -3.8l-6.5 -10.2l-6 4z" fill="#638b2a"/>
<path d="M312.4 409l6.5 -13.8l-6.1 -3.6l-6.4 13.8z" fill="#2e8a30"/>
<path d="M330.6 388l6.5 -11.4l-6.2 -4.7l-6.5 11.6z" fill="#62932e"/>
<path d="M391.4 380.1l6.2 -5l-6.5 -9.3l-6.2 5.2z" fill="#74902d"/>
<path d="M342.8 382.3l6.4 -10.2l-6.3 -5.5l-6.4 10.3z" fill="#73922f"/>
<path d="M379.3 377.5l6.3 -6.3l-6.5 -8.3l-6.3 6.5z" fill="#879b33"/>
<path d="M354.9 378.6l6.5 -8.9l-6.4 -6.4l-6.5 9z" fill="#859b34"/>
<path d="M324.5 400l6.4 -12.5l-6.2 -4.5l-6.4 12.6z" fill="#418b2b"/>
<path d="M367.1 377l6.4 -7.6l-6.5 -7.3l-6.3 7.7z" fill="#899b34"/>
<path d="M397.7 389.5l6.1 -4.9l-6.5 -10l-6.2 5.1z" fill="#669532"/>
<path d="M336.6 393.1l6.5 -11.3l-6.3 -5.4l-6.5 11.4z" fill="#5d9530"/>
<path d="M318.3 413.1l6.5 -13.7l-6.2 -4.3l-6.4 13.7z" fill="#2f9136"/>
<path d="M385.5 386l6.3 -6.1l-6.6 -9.1l-6.2 6.3z" fill="#709632"/>
<path d="M348.8 388.2l6.5 -10l-6.4 -6.3l-6.5 10.1z" fill="#6d9732"/>
<path d="M373.3 384.7l6.4 -7.5l-6.6 -8.1l-6.3 7.6z" fill="#7b9e35"/>
<path d="M361.1 385.4l6.4 -8.8l-6.5 -7.2l-6.4 8.9z" fill="#7a9f36"/>
<path d="M330.4 405l6.5 -12.5l-6.2 -5.2l-6.5 12.5z" fill="#419430"/>
<path d="M391.7 395.3l6.3 -6l-6.6 -9.9l-6.2 6.2z" fill="#629d35"/>
<path d="M342.7 398.9l6.5 -11.2l-6.4 -6.1l-6.5 11.2z" fill="#579b34"/>
<path d="M324.2 418l6.5 -13.6l-6.2 -5.1l-6.5 13.6z" fill="#2f913d"/>
<path d="M379.5 393.1l6.3 -7.4l-6.5 -8.9l-6.4 7.5z" fill="#679c35"/>
<path d="M354.9 394.9l6.5 -9.9l-6.5 -7.1l-6.4 10z" fill="#639c35"/>
<path d="M367.2 392.9l6.4 -8.6l-6.5 -8l-6.4 8.8z" fill="#6a9d36"/>
<path d="M336.5 410.7l6.5 -12.3l-6.4 -6l-6.5 12.4z" fill="#3a9733"/>
<path d="M385.7 402.2l6.4 -7.2l-6.6 -9.7l-6.3 7.4z" fill="#57a037"/>
<path d="M348.8 405.4l6.5 -11l-6.5 -6.9l-6.5 11.1z" fill="#4c9c35"/>
<path d="M373.4 401.2l6.4 -8.5l-6.5 -8.7l-6.4 8.6z" fill="#559734"/>
<path d="M361.1 402.3l6.5 -9.8l-6.5 -7.8l-6.5 9.9z" fill="#559c36"/>
<path d="M330.2 423.6l6.6 -13.5l-6.4 -5.8l-6.5 13.5z" fill="#33974c"/>
<path d="M342.6 417.1l6.5 -12.2l-6.4 -6.7l-6.5 12.3z" fill="#35983a"/>
<path d="M354.9 412.7l6.5 -10.9l-6.5 -7.6l-6.5 11z" fill="#3e9b36"/>
<path d="M379.7 410.2l6.4 -8.3l-6.6 -9.5l-6.4 8.4z" fill="#469f37"/>
<path d="M367.3 410.4l6.5 -9.6l-6.6 -8.6l-6.4 9.7z" fill="#449a36"/>
<path d="M336.3 429.9l6.6 -13.3l-6.4 -6.6l-6.6 13.4z" fill="#359959"/>
<path d="M348.7 424.3l6.6 -12l-6.5 -7.6l-6.6 12.2z" fill="#359949"/>
<path d="M361.1 420.8l6.6 -10.8l-6.6 -8.4l-6.5 10.8z" fill="#389e42"/>
<path d="M373.6 419.4l6.4 -9.5l-6.6 -9.4l-6.4 9.6z" fill="#3da041"/>
<path d="M342.5 437l6.5 -13.2l-6.4 -7.4l-6.6 13.3z" fill="#389e6b"/>
<path d="M354.9 432.2l6.6 -11.9l-6.6 -8.3l-6.5 12z" fill="#369b5a"/>
<path d="M367.4 429.6l6.5 -10.6l-6.6 -9.3l-6.5 10.8z" fill="#3fa35c"/>
<path d="M348.7 444.8l6.5 -13l-6.5 -8.2l-6.6 13.2z" fill="#389d7b"/>
<path d="M361.2 440.9l6.5 -11.7l-6.6 -9.1l-6.5 11.9z" fill="#3ea074"/>
<path d="M354.9 453.4l6.6 -12.9l-6.6 -9l-6.6 13.1z" fill="#43a394"/>
</g>
</svg>
<canvas id="cv" width="685" height="537"></canvas>
<svg width="685" height="537" viewBox="0 0 685 537">
<circle cx="49.0" cy="121.0" r="2.2" fill="#f07070" stroke="#400" stroke-width="0.7"/>
<circle cx="290.0" cy="110.8" r="2.2" fill="#cc0000" stroke="#400" stroke-width="0.7"/>
<circle cx="169.3" cy="215.8" r="2.2" fill="#f07070" stroke="#400" stroke-width="0.7"/>
<circle cx="169.5" cy="35.6" r="2.2" fill="#cc0000" stroke="#400" stroke-width="0.7"/>
<circle cx="397.2" cy="109.1" r="2.2" fill="#cc0000" stroke="#400" stroke-width="0.7"/>
<circle cx="635.8" cy="113.2" r="2.2" fill="#f07070" stroke="#400" stroke-width="0.7"/>
<circle cx="516.2" cy="178.1" r="2.2" fill="#f07070" stroke="#400" stroke-width="0.7"/>
<circle cx="516.6" cy="37.6" r="2.2" fill="#cc0000" stroke="#400" stroke-width="0.7"/>
<circle cx="234.8" cy="428.5" r="2.2" fill="#f07070" stroke="#400" stroke-width="0.7"/>
<circle cx="474.0" cy="421.4" r="2.2" fill="#cc0000" stroke="#400" stroke-width="0.7"/>
<circle cx="354.2" cy="453.3" r="2.2" fill="#cc0000" stroke="#400" stroke-width="0.7"/>
<circle cx="354.2" cy="306.8" r="2.2" fill="#cc0000" stroke="#400" stroke-width="0.7"/>
<text transform="translate(46.56 160.05) scale(1 1.22)" font-size="7.9" text-anchor="end" fill="#000">70</text>
<text transform="translate(45.36 133.95) scale(1 1.22)" font-size="7.9" text-anchor="end" fill="#000">75</text>
<text transform="translate(44.17 107.85) scale(1 1.22)" font-size="7.9" text-anchor="end" fill="#000">80</text>
<text transform="translate(42.97 81.75) scale(1 1.22)" font-size="7.9" text-anchor="end" fill="#000">85</text>
<text transform="translate(41.77 55.65) scale(1 1.22)" font-size="7.9" text-anchor="end" fill="#000">90</text>
<text transform="translate(40.57 29.55) scale(1 1.22)" font-size="7.9" text-anchor="end" fill="#000">95</text>
<text transform="translate(173.82 271.12) scale(1 1.22)" font-size="7.9" text-anchor="start" fill="#000">8.00</text>
<text transform="translate(193.22 261.05) scale(1 1.22)" font-size="7.9" text-anchor="start" fill="#000">9.00</text>
<text transform="translate(212.62 250.98) scale(1 1.22)" font-size="7.9" text-anchor="start" fill="#000">10.00</text>
<text transform="translate(232.02 240.91) scale(1 1.22)" font-size="7.9" text-anchor="start" fill="#000">11.00</text>
<text transform="translate(251.42 230.84) scale(1 1.22)" font-size="7.9" text-anchor="start" fill="#000">12.00</text>
<text transform="translate(270.82 220.76) scale(1 1.22)" font-size="7.9" text-anchor="start" fill="#000">13.00</text>
<text transform="translate(290.22 210.69) scale(1 1.22)" font-size="7.9" text-anchor="start" fill="#000">14.00</text>
<text transform="translate(165.02 271.32) scale(1 1.22)" font-size="7.9" text-anchor="end" fill="#000">1.00</text>
<text transform="translate(135.85 256.34) scale(1 1.22)" font-size="7.9" text-anchor="end" fill="#000">1.50</text>
<text transform="translate(106.69 241.36) scale(1 1.22)" font-size="7.9" text-anchor="end" fill="#000">2.00</text>
<text transform="translate(77.52 226.38) scale(1 1.22)" font-size="7.9" text-anchor="end" fill="#000">2.50</text>
<text transform="translate(48.35 211.4) scale(1 1.22)" font-size="7.9" text-anchor="end" fill="#000">3.00</text>
<rect x="-0.2" y="248.2" width="132.4" height="15.4" fill="#fff"/>
<text transform="translate(0.6 260.6) scale(1 1.12)" font-size="11.3" text-anchor="start" fill="#000">B: Catalyst dosage (wt.%)</text>
<rect x="213.5" y="249.6" width="118.41" height="14" fill="#fff"/>
<text transform="translate(214.3 260.6) scale(1 1.12)" font-size="11.3" text-anchor="start" fill="#000">A: Molar ratio (mol/mol)</text>
<text x="227.8" y="172.2" font-size="28.5" fill="#f20000" class="lab">(a)</text>
<rect x="185.3" y="265.8" width="12" height="7" fill="#fff"/>
<text font-size="11.3" fill="#000" text-anchor="middle" transform="translate(11.7 119.8) rotate(-90) scale(1.09 1)">Biodiesel yield (%)</text>
<text transform="translate(394.77 156.13) scale(1 1.22)" font-size="7.9" text-anchor="end" fill="#000">70</text>
<text transform="translate(393.59 131.16) scale(1 1.22)" font-size="7.9" text-anchor="end" fill="#000">75</text>
<text transform="translate(392.4 106.18) scale(1 1.22)" font-size="7.9" text-anchor="end" fill="#000">80</text>
<text transform="translate(391.22 81.21) scale(1 1.22)" font-size="7.9" text-anchor="end" fill="#000">85</text>
<text transform="translate(390.03 56.23) scale(1 1.22)" font-size="7.9" text-anchor="end" fill="#000">90</text>
<text transform="translate(388.85 31.25) scale(1 1.22)" font-size="7.9" text-anchor="end" fill="#000">95</text>
<text transform="translate(520.64 262.65) scale(1 1.22)" font-size="7.9" text-anchor="start" fill="#000">1.00</text>
<text transform="translate(549.5 248.37) scale(1 1.22)" font-size="7.9" text-anchor="start" fill="#000">1.50</text>
<text transform="translate(578.36 234.08) scale(1 1.22)" font-size="7.9" text-anchor="start" fill="#000">2.00</text>
<text transform="translate(607.23 219.79) scale(1 1.22)" font-size="7.9" text-anchor="start" fill="#000">2.50</text>
<text transform="translate(636.09 205.5) scale(1 1.22)" font-size="7.9" text-anchor="start" fill="#000">3.00</text>
<text transform="translate(511.84 262.85) scale(1 1.22)" font-size="7.9" text-anchor="end" fill="#000">50.00</text>
<text transform="translate(483.02 248.58) scale(1 1.22)" font-size="7.9" text-anchor="end" fill="#000">55.00</text>
<text transform="translate(454.19 234.31) scale(1 1.22)" font-size="7.9" text-anchor="end" fill="#000">60.00</text>
<text transform="translate(425.37 220.04) scale(1 1.22)" font-size="7.9" text-anchor="end" fill="#000">65.00</text>
<text transform="translate(396.54 205.77) scale(1 1.22)" font-size="7.9" text-anchor="end" fill="#000">70.00</text>
<rect x="365.5" y="242.1" width="97.5" height="14" fill="#fff"/>
<text transform="translate(366.3 253.1) scale(1 1.12)" font-size="11.3" text-anchor="start" fill="#000">C: Temperature (C)</text>
<rect x="553.3" y="240.7" width="131" height="15.4" fill="#fff"/>
<text transform="translate(554.1 253.1) scale(1 1.12)" font-size="11.3" text-anchor="start" fill="#000">B: Catalyst dosage (wt.%)</text>
<text x="584.1" y="172.2" font-size="28.5" fill="#f20000" class="lab">(b)</text>
<text font-size="11.3" fill="#000" text-anchor="middle" transform="translate(360.6 117.95) rotate(-90) scale(1.04 1)">Biodiesel yield (%)</text>
<text transform="translate(230.78 427.32) scale(1 1.22)" font-size="7.9" text-anchor="end" fill="#000">70</text>
<text transform="translate(229.6 401.99) scale(1 1.22)" font-size="7.9" text-anchor="end" fill="#000">75</text>
<text transform="translate(228.43 376.65) scale(1 1.22)" font-size="7.9" text-anchor="end" fill="#000">80</text>
<text transform="translate(227.25 351.31) scale(1 1.22)" font-size="7.9" text-anchor="end" fill="#000">85</text>
<text transform="translate(226.07 325.98) scale(1 1.22)" font-size="7.9" text-anchor="end" fill="#000">90</text>
<text transform="translate(224.9 300.64) scale(1 1.22)" font-size="7.9" text-anchor="end" fill="#000">95</text>
<text transform="translate(359.11 535.54) scale(1 1.22)" font-size="7.9" text-anchor="start" fill="#000">8.00</text>
<text transform="translate(378.61 525.67) scale(1 1.22)" font-size="7.9" text-anchor="start" fill="#000">9.00</text>
<text transform="translate(398.11 515.8) scale(1 1.22)" font-size="7.9" text-anchor="start" fill="#000">10.00</text>
<text transform="translate(417.6 505.93) scale(1 1.22)" font-size="7.9" text-anchor="start" fill="#000">11.00</text>
<text transform="translate(437.1 496.05) scale(1 1.22)" font-size="7.9" text-anchor="start" fill="#000">12.00</text>
<text transform="translate(456.6 486.18) scale(1 1.22)" font-size="7.9" text-anchor="start" fill="#000">13.00</text>
<text transform="translate(476.1 476.31) scale(1 1.22)" font-size="7.9" text-anchor="start" fill="#000">14.00</text>
<text transform="translate(350.31 535.74) scale(1 1.22)" font-size="7.9" text-anchor="end" fill="#000">50.00</text>
<text transform="translate(320.86 521.1) scale(1 1.22)" font-size="7.9" text-anchor="end" fill="#000">55.00</text>
<text transform="translate(291.42 506.46) scale(1 1.22)" font-size="7.9" text-anchor="end" fill="#000">60.00</text>
<text transform="translate(261.97 491.82) scale(1 1.22)" font-size="7.9" text-anchor="end" fill="#000">65.00</text>
<text transform="translate(232.52 477.18) scale(1 1.22)" font-size="7.9" text-anchor="end" fill="#000">70.00</text>
<rect x="201" y="514.9" width="97.5" height="14" fill="#fff"/>
<text transform="translate(201.8 525.9) scale(1 1.12)" font-size="11.3" text-anchor="start" fill="#000">C: Temperature (C)</text>
<rect x="399.4" y="514.9" width="118.41" height="14" fill="#fff"/>
<text transform="translate(400.2 525.9) scale(1 1.12)" font-size="11.3" text-anchor="start" fill="#000">A: Molar ratio (mol/mol)</text>
<text x="424.1" y="445.3" font-size="28.5" fill="#f20000" class="lab">(c)</text>
<text font-size="11.3" fill="#000" text-anchor="middle" transform="translate(195.6 388.35) rotate(-90) scale(1.058 1)">Biodiesel yield (%)</text>
</svg>
<script>
var D={"a": {"P": [[159.376851, -111.43966, -9.446859, 169.540729], [-32.49763, -32.952283, -152.584256, 219.544626], [0.143126, 0.138001, -0.056094, 1.0]]}, "b": {"P": [[207.631588, -61.581146, -29.475733, 516.413371], [-30.039696, -30.643798, -146.433964, 212.925243], [0.142593, 0.139167, -0.057524, 1.0]]}, "c": {"P": [[188.509126, -86.747037, -19.51799, 354.860082], [8.703184, 5.879603, -163.337883, 485.451199], [0.147296, 0.139606, -0.055439, 1.0]]}};
var B={"a": [93.9731, 2.0174, 1.3308, -2.6573, -10.9004, -6.395], "b": [94.2299, 0.7885, 1.0655, -0.6709, -6.8205, -8.0935], "c": [93.9357, 1.8924, 1.5255, 3.9489, -11.1817, -7.4261]};
var STOPS=[[70, [0, 0, 255]], [76.5, [0, 255, 255]], [82, [0, 255, 0]], [88, [255, 255, 0]], [94.5, [255, 0, 0]]];
var fbe=document.getElementById('fb');if(fbe)fbe.style.display='none';
var N=80,LCF=1,LK=0.12,SA=0.0,SB=4.0,WA=0.05,WB=0.35,LW=0.7,LC='rgba(0,0,0,0.8)',KZ=0.030852272727272725,VX=-0.68,VY=-0.68,VZ=0.276;
function sec(k,p,q){var u=2*p-1,v=2*q-1,c=B[k];return c[0]+c[1]*u+c[2]*v+c[3]*u*v+c[4]*u*u+c[5]*v*v;}
function cm(z){if(z<=STOPS[0][0])return STOPS[0][1];for(var i=1;i<STOPS.length;i++){if(z<=STOPS[i][0]){var t=(z-STOPS[i-1][0])/(STOPS[i][0]-STOPS[i-1][0]);var a=STOPS[i-1][1],b=STOPS[i][1];return [a[0]+(b[0]-a[0])*t,a[1]+(b[1]-a[1])*t,a[2]+(b[2]-a[2])*t];}}return STOPS[STOPS.length-1][1];}
var ctx=document.getElementById('cv').getContext('2d');
for(var k in D){
 var P=D[k].P, V=[];
 for(var i=0;i<=N;i++){V.push([]);for(var j=0;j<=N;j++){var p=i/N,q=j/N,z=sec(k,p,q),zn=(z-70)/25;
  var x=P[0][0]*p+P[0][1]*q+P[0][2]*zn+P[0][3],y=P[1][0]*p+P[1][1]*q+P[1][2]*zn+P[1][3],w=P[2][0]*p+P[2][1]*q+P[2][2]*zn+P[2][3];
  V[i].push([x/w,y/w,w,z]);}}
 var Q=[];
 for(var i=0;i<N;i++)for(var j=0;j<N;j++){var a=V[i][j],b=V[i+1][j],c=V[i+1][j+1],d=V[i][j+1];Q.push([a[2]+b[2]+c[2]+d[2],i,j,(a[3]+b[3]+c[3]+d[3])/4]);}
 Q.sort(function(u,v){return v[0]-u[0];});
 ctx.lineWidth=LW;ctx.lineJoin='round';
 for(var n=0;n<Q.length;n++){var i=Q[n][1],j=Q[n][2];var a=V[i][j],b=V[i+1][j],c=V[i+1][j+1],d=V[i][j+1];
  var col=cm(Q[n][3]);
  // normal: dz/dp, dz/dq in world units
  var dzp=((b[3]+c[3])-(a[3]+d[3]))/2*N*KZ, dzq=((c[3]+d[3])-(a[3]+b[3]))/2*N*KZ;
  var nl=Math.sqrt(dzp*dzp+dzq*dzq+1), ndv=(-dzp*VX-dzq*VY+VZ)/nl; if(ndv<0)ndv=0;
  var wt=WA+WB*ndv; if(wt>1)wt=1; var sh=SA+SB*ndv; if(sh>1)sh=1;
  ctx.beginPath();ctx.moveTo(a[0],a[1]);ctx.lineTo(b[0],b[1]);ctx.lineTo(c[0],c[1]);ctx.lineTo(d[0],d[1]);ctx.closePath();
  ctx.fillStyle='rgb('+((col[0]*(1-wt)+255*wt)*sh|0)+','+((col[1]*(1-wt)+255*wt)*sh|0)+','+((col[2]*(1-wt)+255*wt)*sh|0)+')';ctx.fill();
  ctx.strokeStyle=LCF?('rgb('+(col[0]*LK*sh|0)+','+(col[1]*LK*sh|0)+','+(col[2]*LK*sh|0)+')'):LC;ctx.stroke();}
}

</script>
</body></html>
